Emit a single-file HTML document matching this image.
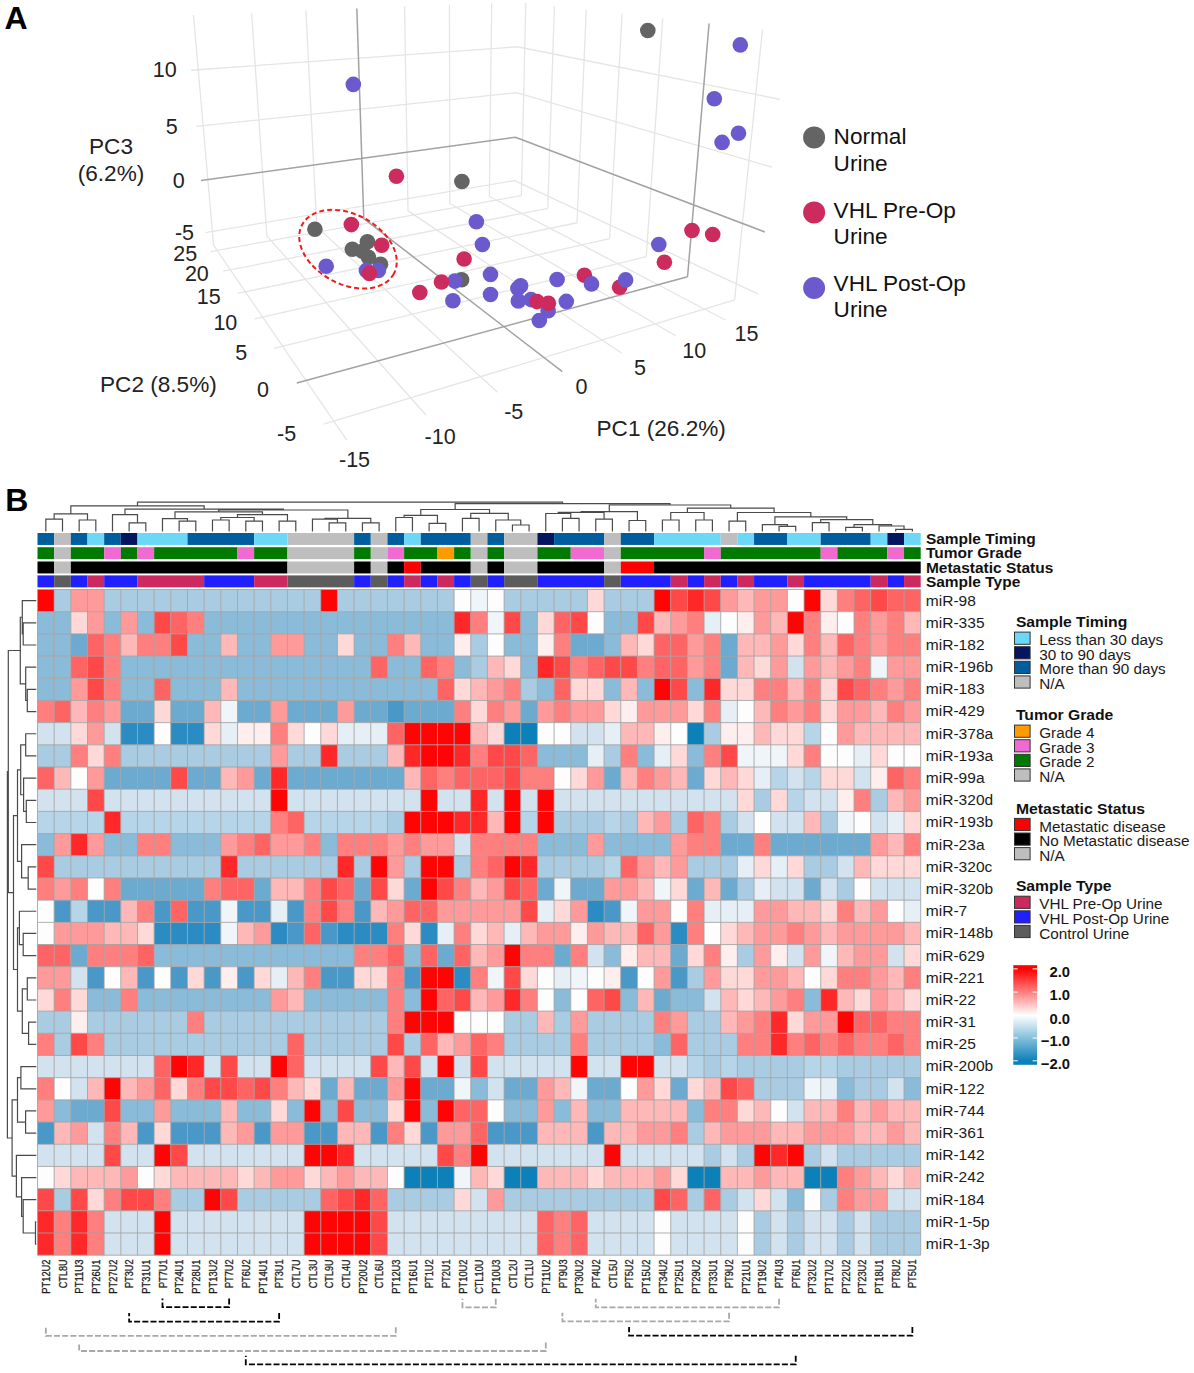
<!DOCTYPE html><html><head><meta charset="utf-8"><style>html,body{margin:0;padding:0;background:#fff}svg{display:block}</style></head><body>
<svg width="1194" height="1373" viewBox="0 0 1194 1373" style="font-family:'Liberation Sans',sans-serif">
<rect width="1194" height="1373" fill="#fff"/>
<path d="M213.61 245.23L193.43 14.98M266.82 235.82L251.62 12.67M316.78 227L305.96 10.51M408.05 210.87L404.57 6.6M449.85 203.48L449.43 4.82M489.37 196.5L491.68 3.15M205.64 232.57L514.54 180.55M196.08 126.42L516.37 92.74M191.01 70.24L517.33 46.76M734.63 299.77L762.48 29.49M646.22 256.56L662.73 18.3M609.63 238.68L622.14 13.75M577 222.74L586.29 9.73M547.74 208.43L554.4 6.15M521.34 195.53L525.84 2.94M757.85 293.86L514.54 180.55M771.96 167.14L516.37 92.74M779.52 99.24L517.33 46.76M346.71 440.14L213.61 245.23M425.91 415L266.82 235.82M497.42 392.31L316.78 227M621.46 352.94L408.05 210.87M675.6 335.75L449.85 203.48M725.34 319.97L489.37 196.5M323.78 424.08L734.63 299.77M273.99 348.41L646.22 256.56M254.57 318.88L609.63 238.68M237.79 293.38L577 222.74M223.16 271.14L547.74 208.43M210.28 251.56L521.34 195.53" stroke="#e5e5e5" stroke-width="1.3" fill="none"/>
<path d="M363.77 218.69L356.84 8.5M200.95 180.49L515.44 137.32M687.56 276.77L709.07 23.5M764.74 231.95L515.44 137.32M562.31 371.71L363.77 218.69M296.75 383L687.56 276.77" stroke="#a2a2a2" stroke-width="1.5" fill="none"/>
<circle cx="647.8" cy="30.5" r="7.8" fill="#646464"/>
<circle cx="740.3" cy="44.9" r="7.8" fill="#6a5acd"/>
<circle cx="714.3" cy="98.8" r="7.8" fill="#6a5acd"/>
<circle cx="738.5" cy="133.2" r="7.8" fill="#6a5acd"/>
<circle cx="722.1" cy="142.4" r="7.8" fill="#6a5acd"/>
<circle cx="353.3" cy="84.4" r="7.8" fill="#6a5acd"/>
<circle cx="396.4" cy="176.2" r="7.8" fill="#cc2b5e"/>
<circle cx="461.9" cy="181.5" r="7.8" fill="#646464"/>
<circle cx="476.4" cy="221.7" r="7.8" fill="#6a5acd"/>
<circle cx="482.4" cy="244.5" r="7.8" fill="#6a5acd"/>
<circle cx="314.9" cy="229.3" r="7.8" fill="#646464"/>
<circle cx="351.3" cy="224.6" r="7.8" fill="#cc2b5e"/>
<circle cx="367.4" cy="241.7" r="7.8" fill="#646464"/>
<circle cx="352.3" cy="249.2" r="7.8" fill="#646464"/>
<circle cx="362.4" cy="251.3" r="7.8" fill="#646464"/>
<circle cx="368.4" cy="257.3" r="7.8" fill="#646464"/>
<circle cx="380.5" cy="264.3" r="7.8" fill="#646464"/>
<circle cx="381.7" cy="245.2" r="7.8" fill="#cc2b5e"/>
<circle cx="326.2" cy="266.3" r="7.8" fill="#6a5acd"/>
<circle cx="366.4" cy="270.4" r="7.8" fill="#6a5acd"/>
<circle cx="378.4" cy="270.4" r="7.8" fill="#6a5acd"/>
<circle cx="369.4" cy="273.4" r="7.8" fill="#cc2b5e"/>
<circle cx="464.1" cy="259" r="7.8" fill="#cc2b5e"/>
<circle cx="461.6" cy="279.7" r="7.8" fill="#646464"/>
<circle cx="454.9" cy="281.1" r="7.8" fill="#6a5acd"/>
<circle cx="441.5" cy="282" r="7.8" fill="#cc2b5e"/>
<circle cx="419.8" cy="292.5" r="7.8" fill="#cc2b5e"/>
<circle cx="452.9" cy="300.8" r="7.8" fill="#6a5acd"/>
<circle cx="490.5" cy="274.4" r="7.8" fill="#6a5acd"/>
<circle cx="490.5" cy="294.5" r="7.8" fill="#6a5acd"/>
<circle cx="520.6" cy="285.8" r="7.8" fill="#6a5acd"/>
<circle cx="517.9" cy="288.5" r="7.8" fill="#6a5acd"/>
<circle cx="518.3" cy="301" r="7.8" fill="#6a5acd"/>
<circle cx="531" cy="299.6" r="7.8" fill="#6a5acd"/>
<circle cx="537" cy="301.6" r="7.8" fill="#cc2b5e"/>
<circle cx="548.1" cy="310.8" r="7.8" fill="#6a5acd"/>
<circle cx="548.4" cy="303.3" r="7.8" fill="#cc2b5e"/>
<circle cx="539.3" cy="320.5" r="7.8" fill="#6a5acd"/>
<circle cx="566.3" cy="301.4" r="7.8" fill="#6a5acd"/>
<circle cx="557.1" cy="279.5" r="7.8" fill="#6a5acd"/>
<circle cx="584.4" cy="275.3" r="7.8" fill="#cc2b5e"/>
<circle cx="591.5" cy="283.9" r="7.8" fill="#6a5acd"/>
<circle cx="619.6" cy="287.3" r="7.8" fill="#cc2b5e"/>
<circle cx="625.6" cy="279.9" r="7.8" fill="#6a5acd"/>
<circle cx="658.8" cy="244.5" r="7.8" fill="#6a5acd"/>
<circle cx="664.4" cy="262.2" r="7.8" fill="#cc2b5e"/>
<circle cx="692" cy="230.5" r="7.8" fill="#cc2b5e"/>
<circle cx="712.7" cy="234.5" r="7.8" fill="#cc2b5e"/>
<ellipse cx="348" cy="249.2" rx="52" ry="35" transform="rotate(28 348 249.2)" fill="none" stroke="#ee1c1c" stroke-width="2" stroke-dasharray="5 3"/>
<text x="152.8" y="76.8" font-size="21.5" fill="#222">10</text>
<text x="165.7" y="134.3" font-size="21.5" fill="#222">5</text>
<text x="172.7" y="188.2" font-size="21.5" fill="#222">0</text>
<text x="174.9" y="239.5" font-size="21.5" fill="#222">-5</text>
<text x="173.2" y="261.3" font-size="21.5" fill="#222">25</text>
<text x="184.9" y="281.3" font-size="21.5" fill="#222">20</text>
<text x="196.7" y="303.8" font-size="21.5" fill="#222">15</text>
<text x="213.4" y="330" font-size="21.5" fill="#222">10</text>
<text x="235.2" y="360.1" font-size="21.5" fill="#222">5</text>
<text x="257" y="397" font-size="21.5" fill="#222">0</text>
<text x="277" y="440.5" font-size="21.5" fill="#222">-5</text>
<text x="339" y="467.3" font-size="21.5" fill="#222">-15</text>
<text x="424.6" y="444.3" font-size="21.5" fill="#222">-10</text>
<text x="504.2" y="419.3" font-size="21.5" fill="#222">-5</text>
<text x="575.4" y="394" font-size="21.5" fill="#222">0</text>
<text x="634" y="375.3" font-size="21.5" fill="#222">5</text>
<text x="682.2" y="358.3" font-size="21.5" fill="#222">10</text>
<text x="734.5" y="341.3" font-size="21.5" fill="#222">15</text>
<text x="111" y="154.3" font-size="22.6" text-anchor="middle" fill="#222">PC3</text>
<text x="111" y="181.3" font-size="22.6" text-anchor="middle" fill="#222">(6.2%)</text>
<text x="100" y="391.8" font-size="22.6" fill="#222">PC2 (8.5%)</text>
<text x="596.5" y="435.8" font-size="22.6" fill="#222">PC1 (26.2%)</text>
<circle cx="814.1" cy="137.4" r="11" fill="#646464"/>
<text x="833.6" y="144.2" font-size="22.6" fill="#111">Normal</text>
<text x="833.6" y="170.9" font-size="22.6" fill="#111">Urine</text>
<circle cx="814.1" cy="212.4" r="11" fill="#cc2b5e"/>
<text x="833.6" y="217.9" font-size="22.6" fill="#111">VHL Pre-Op</text>
<text x="833.6" y="243.7" font-size="22.6" fill="#111">Urine</text>
<circle cx="814.1" cy="288" r="11" fill="#6a5acd"/>
<text x="833.6" y="290.7" font-size="22.6" fill="#111">VHL Post-Op</text>
<text x="833.6" y="317.4" font-size="22.6" fill="#111">Urine</text>
<text x="4.6" y="28.8" font-size="32" font-weight="bold">A</text>
<text x="5.3" y="511" font-size="32" font-weight="bold">B</text>
<g><rect x="37.5" y="589.5" width="16.66" height="22.19" fill="#ff0404"/><rect x="54.16" y="589.5" width="16.66" height="22.19" fill="#a9cce2"/><rect x="70.83" y="589.5" width="16.66" height="22.19" fill="#ff9a9a"/><rect x="87.49" y="589.5" width="16.66" height="22.19" fill="#ff9a9a"/><rect x="104.16" y="589.5" width="16.66" height="22.19" fill="#a9cce2"/><rect x="120.82" y="589.5" width="16.66" height="22.19" fill="#a9cce2"/><rect x="137.48" y="589.5" width="16.66" height="22.19" fill="#a9cce2"/><rect x="154.15" y="589.5" width="16.66" height="22.19" fill="#a9cce2"/><rect x="170.81" y="589.5" width="16.66" height="22.19" fill="#a9cce2"/><rect x="187.48" y="589.5" width="16.66" height="22.19" fill="#a9cce2"/><rect x="204.14" y="589.5" width="16.66" height="22.19" fill="#a9cce2"/><rect x="220.81" y="589.5" width="16.66" height="22.19" fill="#a9cce2"/><rect x="237.47" y="589.5" width="16.66" height="22.19" fill="#a9cce2"/><rect x="254.13" y="589.5" width="16.66" height="22.19" fill="#a9cce2"/><rect x="270.8" y="589.5" width="16.66" height="22.19" fill="#a9cce2"/><rect x="287.46" y="589.5" width="16.66" height="22.19" fill="#a9cce2"/><rect x="304.13" y="589.5" width="16.66" height="22.19" fill="#a9cce2"/><rect x="320.79" y="589.5" width="16.66" height="22.19" fill="#ff0404"/><rect x="337.45" y="589.5" width="16.66" height="22.19" fill="#a9cce2"/><rect x="354.12" y="589.5" width="16.66" height="22.19" fill="#a9cce2"/><rect x="370.78" y="589.5" width="16.66" height="22.19" fill="#a9cce2"/><rect x="387.45" y="589.5" width="16.66" height="22.19" fill="#a9cce2"/><rect x="404.11" y="589.5" width="16.66" height="22.19" fill="#a9cce2"/><rect x="420.78" y="589.5" width="16.66" height="22.19" fill="#a9cce2"/><rect x="437.44" y="589.5" width="16.66" height="22.19" fill="#a9cce2"/><rect x="454.1" y="589.5" width="16.66" height="22.19" fill="#fdfdfd"/><rect x="470.77" y="589.5" width="16.66" height="22.19" fill="#f0f5fa"/><rect x="487.43" y="589.5" width="16.66" height="22.19" fill="#fdfdfd"/><rect x="504.1" y="589.5" width="16.66" height="22.19" fill="#a9cce2"/><rect x="520.76" y="589.5" width="16.66" height="22.19" fill="#a9cce2"/><rect x="537.42" y="589.5" width="16.66" height="22.19" fill="#a9cce2"/><rect x="554.09" y="589.5" width="16.66" height="22.19" fill="#a9cce2"/><rect x="570.75" y="589.5" width="16.66" height="22.19" fill="#a9cce2"/><rect x="587.42" y="589.5" width="16.66" height="22.19" fill="#ffd8d8"/><rect x="604.08" y="589.5" width="16.66" height="22.19" fill="#a9cce2"/><rect x="620.75" y="589.5" width="16.66" height="22.19" fill="#a9cce2"/><rect x="637.41" y="589.5" width="16.66" height="22.19" fill="#a9cce2"/><rect x="654.07" y="589.5" width="16.66" height="22.19" fill="#ff0404"/><rect x="670.74" y="589.5" width="16.66" height="22.19" fill="#ff4848"/><rect x="687.4" y="589.5" width="16.66" height="22.19" fill="#ff2828"/><rect x="704.07" y="589.5" width="16.66" height="22.19" fill="#ff4848"/><rect x="720.73" y="589.5" width="16.66" height="22.19" fill="#ff9a9a"/><rect x="737.39" y="589.5" width="16.66" height="22.19" fill="#ffb8b8"/><rect x="754.06" y="589.5" width="16.66" height="22.19" fill="#ff9a9a"/><rect x="770.72" y="589.5" width="16.66" height="22.19" fill="#ff9a9a"/><rect x="787.39" y="589.5" width="16.66" height="22.19" fill="#fdfdfd"/><rect x="804.05" y="589.5" width="16.66" height="22.19" fill="#ff0404"/><rect x="820.72" y="589.5" width="16.66" height="22.19" fill="#ffd8d8"/><rect x="837.38" y="589.5" width="16.66" height="22.19" fill="#ff7e7e"/><rect x="854.04" y="589.5" width="16.66" height="22.19" fill="#ff6464"/><rect x="870.71" y="589.5" width="16.66" height="22.19" fill="#ff4848"/><rect x="887.37" y="589.5" width="16.66" height="22.19" fill="#ff6464"/><rect x="904.04" y="589.5" width="16.66" height="22.19" fill="#ff6464"/><rect x="37.5" y="611.69" width="16.66" height="22.19" fill="#8abbd8"/><rect x="54.16" y="611.69" width="16.66" height="22.19" fill="#8abbd8"/><rect x="70.83" y="611.69" width="16.66" height="22.19" fill="#ffd8d8"/><rect x="87.49" y="611.69" width="16.66" height="22.19" fill="#ff9a9a"/><rect x="104.16" y="611.69" width="16.66" height="22.19" fill="#8abbd8"/><rect x="120.82" y="611.69" width="16.66" height="22.19" fill="#ff9a9a"/><rect x="137.48" y="611.69" width="16.66" height="22.19" fill="#8abbd8"/><rect x="154.15" y="611.69" width="16.66" height="22.19" fill="#ff4848"/><rect x="170.81" y="611.69" width="16.66" height="22.19" fill="#ff6464"/><rect x="187.48" y="611.69" width="16.66" height="22.19" fill="#ff7e7e"/><rect x="204.14" y="611.69" width="16.66" height="22.19" fill="#8abbd8"/><rect x="220.81" y="611.69" width="16.66" height="22.19" fill="#8abbd8"/><rect x="237.47" y="611.69" width="16.66" height="22.19" fill="#8abbd8"/><rect x="254.13" y="611.69" width="16.66" height="22.19" fill="#8abbd8"/><rect x="270.8" y="611.69" width="16.66" height="22.19" fill="#8abbd8"/><rect x="287.46" y="611.69" width="16.66" height="22.19" fill="#8abbd8"/><rect x="304.13" y="611.69" width="16.66" height="22.19" fill="#8abbd8"/><rect x="320.79" y="611.69" width="16.66" height="22.19" fill="#8abbd8"/><rect x="337.45" y="611.69" width="16.66" height="22.19" fill="#8abbd8"/><rect x="354.12" y="611.69" width="16.66" height="22.19" fill="#8abbd8"/><rect x="370.78" y="611.69" width="16.66" height="22.19" fill="#8abbd8"/><rect x="387.45" y="611.69" width="16.66" height="22.19" fill="#8abbd8"/><rect x="404.11" y="611.69" width="16.66" height="22.19" fill="#8abbd8"/><rect x="420.78" y="611.69" width="16.66" height="22.19" fill="#8abbd8"/><rect x="437.44" y="611.69" width="16.66" height="22.19" fill="#8abbd8"/><rect x="454.1" y="611.69" width="16.66" height="22.19" fill="#ff2828"/><rect x="470.77" y="611.69" width="16.66" height="22.19" fill="#ff7e7e"/><rect x="487.43" y="611.69" width="16.66" height="22.19" fill="#f0f5fa"/><rect x="504.1" y="611.69" width="16.66" height="22.19" fill="#ff4848"/><rect x="520.76" y="611.69" width="16.66" height="22.19" fill="#8abbd8"/><rect x="537.42" y="611.69" width="16.66" height="22.19" fill="#ffd8d8"/><rect x="554.09" y="611.69" width="16.66" height="22.19" fill="#ff6464"/><rect x="570.75" y="611.69" width="16.66" height="22.19" fill="#ff4848"/><rect x="587.42" y="611.69" width="16.66" height="22.19" fill="#fdfdfd"/><rect x="604.08" y="611.69" width="16.66" height="22.19" fill="#8abbd8"/><rect x="620.75" y="611.69" width="16.66" height="22.19" fill="#8abbd8"/><rect x="637.41" y="611.69" width="16.66" height="22.19" fill="#ff4848"/><rect x="654.07" y="611.69" width="16.66" height="22.19" fill="#ffb8b8"/><rect x="670.74" y="611.69" width="16.66" height="22.19" fill="#ff9a9a"/><rect x="687.4" y="611.69" width="16.66" height="22.19" fill="#ff7e7e"/><rect x="704.07" y="611.69" width="16.66" height="22.19" fill="#e6eff6"/><rect x="720.73" y="611.69" width="16.66" height="22.19" fill="#fdfdfd"/><rect x="737.39" y="611.69" width="16.66" height="22.19" fill="#ffeeee"/><rect x="754.06" y="611.69" width="16.66" height="22.19" fill="#ff9a9a"/><rect x="770.72" y="611.69" width="16.66" height="22.19" fill="#ffb8b8"/><rect x="787.39" y="611.69" width="16.66" height="22.19" fill="#ff0404"/><rect x="804.05" y="611.69" width="16.66" height="22.19" fill="#ff7e7e"/><rect x="820.72" y="611.69" width="16.66" height="22.19" fill="#ffeeee"/><rect x="837.38" y="611.69" width="16.66" height="22.19" fill="#fdfdfd"/><rect x="854.04" y="611.69" width="16.66" height="22.19" fill="#ff7e7e"/><rect x="870.71" y="611.69" width="16.66" height="22.19" fill="#ff9a9a"/><rect x="887.37" y="611.69" width="16.66" height="22.19" fill="#ff7e7e"/><rect x="904.04" y="611.69" width="16.66" height="22.19" fill="#ffb8b8"/><rect x="37.5" y="633.88" width="16.66" height="22.19" fill="#8abbd8"/><rect x="54.16" y="633.88" width="16.66" height="22.19" fill="#8abbd8"/><rect x="70.83" y="633.88" width="16.66" height="22.19" fill="#6caacf"/><rect x="87.49" y="633.88" width="16.66" height="22.19" fill="#ff6464"/><rect x="104.16" y="633.88" width="16.66" height="22.19" fill="#ff7e7e"/><rect x="120.82" y="633.88" width="16.66" height="22.19" fill="#ffb8b8"/><rect x="137.48" y="633.88" width="16.66" height="22.19" fill="#ff7e7e"/><rect x="154.15" y="633.88" width="16.66" height="22.19" fill="#ff7e7e"/><rect x="170.81" y="633.88" width="16.66" height="22.19" fill="#ff4848"/><rect x="187.48" y="633.88" width="16.66" height="22.19" fill="#8abbd8"/><rect x="204.14" y="633.88" width="16.66" height="22.19" fill="#8abbd8"/><rect x="220.81" y="633.88" width="16.66" height="22.19" fill="#ffb8b8"/><rect x="237.47" y="633.88" width="16.66" height="22.19" fill="#8abbd8"/><rect x="254.13" y="633.88" width="16.66" height="22.19" fill="#8abbd8"/><rect x="270.8" y="633.88" width="16.66" height="22.19" fill="#ff9a9a"/><rect x="287.46" y="633.88" width="16.66" height="22.19" fill="#ff9a9a"/><rect x="304.13" y="633.88" width="16.66" height="22.19" fill="#8abbd8"/><rect x="320.79" y="633.88" width="16.66" height="22.19" fill="#8abbd8"/><rect x="337.45" y="633.88" width="16.66" height="22.19" fill="#ffd8d8"/><rect x="354.12" y="633.88" width="16.66" height="22.19" fill="#8abbd8"/><rect x="370.78" y="633.88" width="16.66" height="22.19" fill="#8abbd8"/><rect x="387.45" y="633.88" width="16.66" height="22.19" fill="#ff7e7e"/><rect x="404.11" y="633.88" width="16.66" height="22.19" fill="#ffb8b8"/><rect x="420.78" y="633.88" width="16.66" height="22.19" fill="#8abbd8"/><rect x="437.44" y="633.88" width="16.66" height="22.19" fill="#8abbd8"/><rect x="454.1" y="633.88" width="16.66" height="22.19" fill="#ffeeee"/><rect x="470.77" y="633.88" width="16.66" height="22.19" fill="#a9cce2"/><rect x="487.43" y="633.88" width="16.66" height="22.19" fill="#fdfdfd"/><rect x="504.1" y="633.88" width="16.66" height="22.19" fill="#8abbd8"/><rect x="520.76" y="633.88" width="16.66" height="22.19" fill="#8abbd8"/><rect x="537.42" y="633.88" width="16.66" height="22.19" fill="#ffeeee"/><rect x="554.09" y="633.88" width="16.66" height="22.19" fill="#ff7e7e"/><rect x="570.75" y="633.88" width="16.66" height="22.19" fill="#6caacf"/><rect x="587.42" y="633.88" width="16.66" height="22.19" fill="#6caacf"/><rect x="604.08" y="633.88" width="16.66" height="22.19" fill="#8abbd8"/><rect x="620.75" y="633.88" width="16.66" height="22.19" fill="#ffb8b8"/><rect x="637.41" y="633.88" width="16.66" height="22.19" fill="#ffd8d8"/><rect x="654.07" y="633.88" width="16.66" height="22.19" fill="#ff6464"/><rect x="670.74" y="633.88" width="16.66" height="22.19" fill="#ff6464"/><rect x="687.4" y="633.88" width="16.66" height="22.19" fill="#ff9a9a"/><rect x="704.07" y="633.88" width="16.66" height="22.19" fill="#ff7e7e"/><rect x="720.73" y="633.88" width="16.66" height="22.19" fill="#6caacf"/><rect x="737.39" y="633.88" width="16.66" height="22.19" fill="#ffb8b8"/><rect x="754.06" y="633.88" width="16.66" height="22.19" fill="#ffb8b8"/><rect x="770.72" y="633.88" width="16.66" height="22.19" fill="#ff9a9a"/><rect x="787.39" y="633.88" width="16.66" height="22.19" fill="#ffd8d8"/><rect x="804.05" y="633.88" width="16.66" height="22.19" fill="#ff7e7e"/><rect x="820.72" y="633.88" width="16.66" height="22.19" fill="#ffb8b8"/><rect x="837.38" y="633.88" width="16.66" height="22.19" fill="#ff6464"/><rect x="854.04" y="633.88" width="16.66" height="22.19" fill="#ff7e7e"/><rect x="870.71" y="633.88" width="16.66" height="22.19" fill="#ff9a9a"/><rect x="887.37" y="633.88" width="16.66" height="22.19" fill="#ff7e7e"/><rect x="904.04" y="633.88" width="16.66" height="22.19" fill="#ff7e7e"/><rect x="37.5" y="656.07" width="16.66" height="22.19" fill="#8abbd8"/><rect x="54.16" y="656.07" width="16.66" height="22.19" fill="#8abbd8"/><rect x="70.83" y="656.07" width="16.66" height="22.19" fill="#ff6464"/><rect x="87.49" y="656.07" width="16.66" height="22.19" fill="#ff4848"/><rect x="104.16" y="656.07" width="16.66" height="22.19" fill="#ff7e7e"/><rect x="120.82" y="656.07" width="16.66" height="22.19" fill="#8abbd8"/><rect x="137.48" y="656.07" width="16.66" height="22.19" fill="#8abbd8"/><rect x="154.15" y="656.07" width="16.66" height="22.19" fill="#8abbd8"/><rect x="170.81" y="656.07" width="16.66" height="22.19" fill="#8abbd8"/><rect x="187.48" y="656.07" width="16.66" height="22.19" fill="#8abbd8"/><rect x="204.14" y="656.07" width="16.66" height="22.19" fill="#8abbd8"/><rect x="220.81" y="656.07" width="16.66" height="22.19" fill="#8abbd8"/><rect x="237.47" y="656.07" width="16.66" height="22.19" fill="#8abbd8"/><rect x="254.13" y="656.07" width="16.66" height="22.19" fill="#8abbd8"/><rect x="270.8" y="656.07" width="16.66" height="22.19" fill="#8abbd8"/><rect x="287.46" y="656.07" width="16.66" height="22.19" fill="#8abbd8"/><rect x="304.13" y="656.07" width="16.66" height="22.19" fill="#8abbd8"/><rect x="320.79" y="656.07" width="16.66" height="22.19" fill="#8abbd8"/><rect x="337.45" y="656.07" width="16.66" height="22.19" fill="#8abbd8"/><rect x="354.12" y="656.07" width="16.66" height="22.19" fill="#8abbd8"/><rect x="370.78" y="656.07" width="16.66" height="22.19" fill="#ff6464"/><rect x="387.45" y="656.07" width="16.66" height="22.19" fill="#8abbd8"/><rect x="404.11" y="656.07" width="16.66" height="22.19" fill="#8abbd8"/><rect x="420.78" y="656.07" width="16.66" height="22.19" fill="#ff6464"/><rect x="437.44" y="656.07" width="16.66" height="22.19" fill="#ff7e7e"/><rect x="454.1" y="656.07" width="16.66" height="22.19" fill="#8abbd8"/><rect x="470.77" y="656.07" width="16.66" height="22.19" fill="#a9cce2"/><rect x="487.43" y="656.07" width="16.66" height="22.19" fill="#ffb8b8"/><rect x="504.1" y="656.07" width="16.66" height="22.19" fill="#ffd8d8"/><rect x="520.76" y="656.07" width="16.66" height="22.19" fill="#8abbd8"/><rect x="537.42" y="656.07" width="16.66" height="22.19" fill="#ff2828"/><rect x="554.09" y="656.07" width="16.66" height="22.19" fill="#ff4848"/><rect x="570.75" y="656.07" width="16.66" height="22.19" fill="#ff7e7e"/><rect x="587.42" y="656.07" width="16.66" height="22.19" fill="#ff6464"/><rect x="604.08" y="656.07" width="16.66" height="22.19" fill="#ff4848"/><rect x="620.75" y="656.07" width="16.66" height="22.19" fill="#ff4848"/><rect x="637.41" y="656.07" width="16.66" height="22.19" fill="#ff7e7e"/><rect x="654.07" y="656.07" width="16.66" height="22.19" fill="#ff6464"/><rect x="670.74" y="656.07" width="16.66" height="22.19" fill="#ff6464"/><rect x="687.4" y="656.07" width="16.66" height="22.19" fill="#ff9a9a"/><rect x="704.07" y="656.07" width="16.66" height="22.19" fill="#ff7e7e"/><rect x="720.73" y="656.07" width="16.66" height="22.19" fill="#6caacf"/><rect x="737.39" y="656.07" width="16.66" height="22.19" fill="#ffb8b8"/><rect x="754.06" y="656.07" width="16.66" height="22.19" fill="#ffd8d8"/><rect x="770.72" y="656.07" width="16.66" height="22.19" fill="#ff9a9a"/><rect x="787.39" y="656.07" width="16.66" height="22.19" fill="#d2e3ef"/><rect x="804.05" y="656.07" width="16.66" height="22.19" fill="#ff9a9a"/><rect x="820.72" y="656.07" width="16.66" height="22.19" fill="#ffb8b8"/><rect x="837.38" y="656.07" width="16.66" height="22.19" fill="#ff9a9a"/><rect x="854.04" y="656.07" width="16.66" height="22.19" fill="#ff7e7e"/><rect x="870.71" y="656.07" width="16.66" height="22.19" fill="#f0f5fa"/><rect x="887.37" y="656.07" width="16.66" height="22.19" fill="#ff9a9a"/><rect x="904.04" y="656.07" width="16.66" height="22.19" fill="#ff9a9a"/><rect x="37.5" y="678.26" width="16.66" height="22.19" fill="#8abbd8"/><rect x="54.16" y="678.26" width="16.66" height="22.19" fill="#8abbd8"/><rect x="70.83" y="678.26" width="16.66" height="22.19" fill="#ff9a9a"/><rect x="87.49" y="678.26" width="16.66" height="22.19" fill="#ff4848"/><rect x="104.16" y="678.26" width="16.66" height="22.19" fill="#ff7e7e"/><rect x="120.82" y="678.26" width="16.66" height="22.19" fill="#8abbd8"/><rect x="137.48" y="678.26" width="16.66" height="22.19" fill="#8abbd8"/><rect x="154.15" y="678.26" width="16.66" height="22.19" fill="#ff6464"/><rect x="170.81" y="678.26" width="16.66" height="22.19" fill="#8abbd8"/><rect x="187.48" y="678.26" width="16.66" height="22.19" fill="#8abbd8"/><rect x="204.14" y="678.26" width="16.66" height="22.19" fill="#8abbd8"/><rect x="220.81" y="678.26" width="16.66" height="22.19" fill="#ffb8b8"/><rect x="237.47" y="678.26" width="16.66" height="22.19" fill="#8abbd8"/><rect x="254.13" y="678.26" width="16.66" height="22.19" fill="#8abbd8"/><rect x="270.8" y="678.26" width="16.66" height="22.19" fill="#8abbd8"/><rect x="287.46" y="678.26" width="16.66" height="22.19" fill="#8abbd8"/><rect x="304.13" y="678.26" width="16.66" height="22.19" fill="#8abbd8"/><rect x="320.79" y="678.26" width="16.66" height="22.19" fill="#8abbd8"/><rect x="337.45" y="678.26" width="16.66" height="22.19" fill="#8abbd8"/><rect x="354.12" y="678.26" width="16.66" height="22.19" fill="#8abbd8"/><rect x="370.78" y="678.26" width="16.66" height="22.19" fill="#8abbd8"/><rect x="387.45" y="678.26" width="16.66" height="22.19" fill="#8abbd8"/><rect x="404.11" y="678.26" width="16.66" height="22.19" fill="#8abbd8"/><rect x="420.78" y="678.26" width="16.66" height="22.19" fill="#8abbd8"/><rect x="437.44" y="678.26" width="16.66" height="22.19" fill="#ff6464"/><rect x="454.1" y="678.26" width="16.66" height="22.19" fill="#ffd8d8"/><rect x="470.77" y="678.26" width="16.66" height="22.19" fill="#ffb8b8"/><rect x="487.43" y="678.26" width="16.66" height="22.19" fill="#ff9a9a"/><rect x="504.1" y="678.26" width="16.66" height="22.19" fill="#ff7e7e"/><rect x="520.76" y="678.26" width="16.66" height="22.19" fill="#a9cce2"/><rect x="537.42" y="678.26" width="16.66" height="22.19" fill="#8abbd8"/><rect x="554.09" y="678.26" width="16.66" height="22.19" fill="#ff6464"/><rect x="570.75" y="678.26" width="16.66" height="22.19" fill="#ffd8d8"/><rect x="587.42" y="678.26" width="16.66" height="22.19" fill="#ffd8d8"/><rect x="604.08" y="678.26" width="16.66" height="22.19" fill="#8abbd8"/><rect x="620.75" y="678.26" width="16.66" height="22.19" fill="#ffb8b8"/><rect x="637.41" y="678.26" width="16.66" height="22.19" fill="#8abbd8"/><rect x="654.07" y="678.26" width="16.66" height="22.19" fill="#ff0404"/><rect x="670.74" y="678.26" width="16.66" height="22.19" fill="#ff4848"/><rect x="687.4" y="678.26" width="16.66" height="22.19" fill="#8abbd8"/><rect x="704.07" y="678.26" width="16.66" height="22.19" fill="#ff2828"/><rect x="720.73" y="678.26" width="16.66" height="22.19" fill="#ffd8d8"/><rect x="737.39" y="678.26" width="16.66" height="22.19" fill="#ffd8d8"/><rect x="754.06" y="678.26" width="16.66" height="22.19" fill="#ff7e7e"/><rect x="770.72" y="678.26" width="16.66" height="22.19" fill="#ff7e7e"/><rect x="787.39" y="678.26" width="16.66" height="22.19" fill="#ffb8b8"/><rect x="804.05" y="678.26" width="16.66" height="22.19" fill="#ff7e7e"/><rect x="820.72" y="678.26" width="16.66" height="22.19" fill="#ffd8d8"/><rect x="837.38" y="678.26" width="16.66" height="22.19" fill="#ff4848"/><rect x="854.04" y="678.26" width="16.66" height="22.19" fill="#ff6464"/><rect x="870.71" y="678.26" width="16.66" height="22.19" fill="#ff7e7e"/><rect x="887.37" y="678.26" width="16.66" height="22.19" fill="#ff9a9a"/><rect x="904.04" y="678.26" width="16.66" height="22.19" fill="#ff7e7e"/><rect x="37.5" y="700.45" width="16.66" height="22.19" fill="#ff7e7e"/><rect x="54.16" y="700.45" width="16.66" height="22.19" fill="#ff6464"/><rect x="70.83" y="700.45" width="16.66" height="22.19" fill="#ffb8b8"/><rect x="87.49" y="700.45" width="16.66" height="22.19" fill="#ff7e7e"/><rect x="104.16" y="700.45" width="16.66" height="22.19" fill="#ff9a9a"/><rect x="120.82" y="700.45" width="16.66" height="22.19" fill="#6caacf"/><rect x="137.48" y="700.45" width="16.66" height="22.19" fill="#6caacf"/><rect x="154.15" y="700.45" width="16.66" height="22.19" fill="#ffd8d8"/><rect x="170.81" y="700.45" width="16.66" height="22.19" fill="#6caacf"/><rect x="187.48" y="700.45" width="16.66" height="22.19" fill="#6caacf"/><rect x="204.14" y="700.45" width="16.66" height="22.19" fill="#ffb8b8"/><rect x="220.81" y="700.45" width="16.66" height="22.19" fill="#f0f5fa"/><rect x="237.47" y="700.45" width="16.66" height="22.19" fill="#6caacf"/><rect x="254.13" y="700.45" width="16.66" height="22.19" fill="#6caacf"/><rect x="270.8" y="700.45" width="16.66" height="22.19" fill="#ff9a9a"/><rect x="287.46" y="700.45" width="16.66" height="22.19" fill="#6caacf"/><rect x="304.13" y="700.45" width="16.66" height="22.19" fill="#6caacf"/><rect x="320.79" y="700.45" width="16.66" height="22.19" fill="#6caacf"/><rect x="337.45" y="700.45" width="16.66" height="22.19" fill="#ff9a9a"/><rect x="354.12" y="700.45" width="16.66" height="22.19" fill="#6caacf"/><rect x="370.78" y="700.45" width="16.66" height="22.19" fill="#6caacf"/><rect x="387.45" y="700.45" width="16.66" height="22.19" fill="#4a98c8"/><rect x="404.11" y="700.45" width="16.66" height="22.19" fill="#6caacf"/><rect x="420.78" y="700.45" width="16.66" height="22.19" fill="#6caacf"/><rect x="437.44" y="700.45" width="16.66" height="22.19" fill="#6caacf"/><rect x="454.1" y="700.45" width="16.66" height="22.19" fill="#ff7e7e"/><rect x="470.77" y="700.45" width="16.66" height="22.19" fill="#ffd8d8"/><rect x="487.43" y="700.45" width="16.66" height="22.19" fill="#ff7e7e"/><rect x="504.1" y="700.45" width="16.66" height="22.19" fill="#ff9a9a"/><rect x="520.76" y="700.45" width="16.66" height="22.19" fill="#6caacf"/><rect x="537.42" y="700.45" width="16.66" height="22.19" fill="#ff9a9a"/><rect x="554.09" y="700.45" width="16.66" height="22.19" fill="#ff7e7e"/><rect x="570.75" y="700.45" width="16.66" height="22.19" fill="#ff9a9a"/><rect x="587.42" y="700.45" width="16.66" height="22.19" fill="#ff9a9a"/><rect x="604.08" y="700.45" width="16.66" height="22.19" fill="#ffd8d8"/><rect x="620.75" y="700.45" width="16.66" height="22.19" fill="#ffeeee"/><rect x="637.41" y="700.45" width="16.66" height="22.19" fill="#ff9a9a"/><rect x="654.07" y="700.45" width="16.66" height="22.19" fill="#ff9a9a"/><rect x="670.74" y="700.45" width="16.66" height="22.19" fill="#ff9a9a"/><rect x="687.4" y="700.45" width="16.66" height="22.19" fill="#ffd8d8"/><rect x="704.07" y="700.45" width="16.66" height="22.19" fill="#ff7e7e"/><rect x="720.73" y="700.45" width="16.66" height="22.19" fill="#e6eff6"/><rect x="737.39" y="700.45" width="16.66" height="22.19" fill="#fdfdfd"/><rect x="754.06" y="700.45" width="16.66" height="22.19" fill="#ffb8b8"/><rect x="770.72" y="700.45" width="16.66" height="22.19" fill="#ff7e7e"/><rect x="787.39" y="700.45" width="16.66" height="22.19" fill="#ff9a9a"/><rect x="804.05" y="700.45" width="16.66" height="22.19" fill="#ff7e7e"/><rect x="820.72" y="700.45" width="16.66" height="22.19" fill="#ffd8d8"/><rect x="837.38" y="700.45" width="16.66" height="22.19" fill="#ff9a9a"/><rect x="854.04" y="700.45" width="16.66" height="22.19" fill="#ff9a9a"/><rect x="870.71" y="700.45" width="16.66" height="22.19" fill="#ffb8b8"/><rect x="887.37" y="700.45" width="16.66" height="22.19" fill="#ff7e7e"/><rect x="904.04" y="700.45" width="16.66" height="22.19" fill="#ff9a9a"/><rect x="37.5" y="722.64" width="16.66" height="22.19" fill="#d2e3ef"/><rect x="54.16" y="722.64" width="16.66" height="22.19" fill="#d2e3ef"/><rect x="70.83" y="722.64" width="16.66" height="22.19" fill="#ffd8d8"/><rect x="87.49" y="722.64" width="16.66" height="22.19" fill="#ff9a9a"/><rect x="104.16" y="722.64" width="16.66" height="22.19" fill="#d2e3ef"/><rect x="120.82" y="722.64" width="16.66" height="22.19" fill="#2a8cc2"/><rect x="137.48" y="722.64" width="16.66" height="22.19" fill="#2a8cc2"/><rect x="154.15" y="722.64" width="16.66" height="22.19" fill="#fdfdfd"/><rect x="170.81" y="722.64" width="16.66" height="22.19" fill="#2a8cc2"/><rect x="187.48" y="722.64" width="16.66" height="22.19" fill="#2a8cc2"/><rect x="204.14" y="722.64" width="16.66" height="22.19" fill="#ffd8d8"/><rect x="220.81" y="722.64" width="16.66" height="22.19" fill="#e6eff6"/><rect x="237.47" y="722.64" width="16.66" height="22.19" fill="#ffeeee"/><rect x="254.13" y="722.64" width="16.66" height="22.19" fill="#ffeeee"/><rect x="270.8" y="722.64" width="16.66" height="22.19" fill="#ff7e7e"/><rect x="287.46" y="722.64" width="16.66" height="22.19" fill="#ffd8d8"/><rect x="304.13" y="722.64" width="16.66" height="22.19" fill="#fdfdfd"/><rect x="320.79" y="722.64" width="16.66" height="22.19" fill="#ffd8d8"/><rect x="337.45" y="722.64" width="16.66" height="22.19" fill="#e6eff6"/><rect x="354.12" y="722.64" width="16.66" height="22.19" fill="#e6eff6"/><rect x="370.78" y="722.64" width="16.66" height="22.19" fill="#e6eff6"/><rect x="387.45" y="722.64" width="16.66" height="22.19" fill="#ff6464"/><rect x="404.11" y="722.64" width="16.66" height="22.19" fill="#ff0404"/><rect x="420.78" y="722.64" width="16.66" height="22.19" fill="#ff0404"/><rect x="437.44" y="722.64" width="16.66" height="22.19" fill="#ff0404"/><rect x="454.1" y="722.64" width="16.66" height="22.19" fill="#ff0404"/><rect x="470.77" y="722.64" width="16.66" height="22.19" fill="#ffb8b8"/><rect x="487.43" y="722.64" width="16.66" height="22.19" fill="#ffd8d8"/><rect x="504.1" y="722.64" width="16.66" height="22.19" fill="#0c80b8"/><rect x="520.76" y="722.64" width="16.66" height="22.19" fill="#0c80b8"/><rect x="537.42" y="722.64" width="16.66" height="22.19" fill="#fdfdfd"/><rect x="554.09" y="722.64" width="16.66" height="22.19" fill="#fdfdfd"/><rect x="570.75" y="722.64" width="16.66" height="22.19" fill="#d2e3ef"/><rect x="587.42" y="722.64" width="16.66" height="22.19" fill="#d2e3ef"/><rect x="604.08" y="722.64" width="16.66" height="22.19" fill="#e6eff6"/><rect x="620.75" y="722.64" width="16.66" height="22.19" fill="#ffb8b8"/><rect x="637.41" y="722.64" width="16.66" height="22.19" fill="#ffb8b8"/><rect x="654.07" y="722.64" width="16.66" height="22.19" fill="#ffeeee"/><rect x="670.74" y="722.64" width="16.66" height="22.19" fill="#fdfdfd"/><rect x="687.4" y="722.64" width="16.66" height="22.19" fill="#0c80b8"/><rect x="704.07" y="722.64" width="16.66" height="22.19" fill="#a9cce2"/><rect x="720.73" y="722.64" width="16.66" height="22.19" fill="#ffeeee"/><rect x="737.39" y="722.64" width="16.66" height="22.19" fill="#ffeeee"/><rect x="754.06" y="722.64" width="16.66" height="22.19" fill="#ffb8b8"/><rect x="770.72" y="722.64" width="16.66" height="22.19" fill="#ffd8d8"/><rect x="787.39" y="722.64" width="16.66" height="22.19" fill="#ffd8d8"/><rect x="804.05" y="722.64" width="16.66" height="22.19" fill="#b7d5e8"/><rect x="820.72" y="722.64" width="16.66" height="22.19" fill="#fdfdfd"/><rect x="837.38" y="722.64" width="16.66" height="22.19" fill="#ff9a9a"/><rect x="854.04" y="722.64" width="16.66" height="22.19" fill="#ffb8b8"/><rect x="870.71" y="722.64" width="16.66" height="22.19" fill="#ffb8b8"/><rect x="887.37" y="722.64" width="16.66" height="22.19" fill="#ffb8b8"/><rect x="904.04" y="722.64" width="16.66" height="22.19" fill="#ffb8b8"/><rect x="37.5" y="744.83" width="16.66" height="22.19" fill="#a9cce2"/><rect x="54.16" y="744.83" width="16.66" height="22.19" fill="#a9cce2"/><rect x="70.83" y="744.83" width="16.66" height="22.19" fill="#ff7e7e"/><rect x="87.49" y="744.83" width="16.66" height="22.19" fill="#ffd8d8"/><rect x="104.16" y="744.83" width="16.66" height="22.19" fill="#ff7e7e"/><rect x="120.82" y="744.83" width="16.66" height="22.19" fill="#a9cce2"/><rect x="137.48" y="744.83" width="16.66" height="22.19" fill="#a9cce2"/><rect x="154.15" y="744.83" width="16.66" height="22.19" fill="#a9cce2"/><rect x="170.81" y="744.83" width="16.66" height="22.19" fill="#a9cce2"/><rect x="187.48" y="744.83" width="16.66" height="22.19" fill="#a9cce2"/><rect x="204.14" y="744.83" width="16.66" height="22.19" fill="#a9cce2"/><rect x="220.81" y="744.83" width="16.66" height="22.19" fill="#a9cce2"/><rect x="237.47" y="744.83" width="16.66" height="22.19" fill="#a9cce2"/><rect x="254.13" y="744.83" width="16.66" height="22.19" fill="#a9cce2"/><rect x="270.8" y="744.83" width="16.66" height="22.19" fill="#ff9a9a"/><rect x="287.46" y="744.83" width="16.66" height="22.19" fill="#a9cce2"/><rect x="304.13" y="744.83" width="16.66" height="22.19" fill="#a9cce2"/><rect x="320.79" y="744.83" width="16.66" height="22.19" fill="#ff2828"/><rect x="337.45" y="744.83" width="16.66" height="22.19" fill="#a9cce2"/><rect x="354.12" y="744.83" width="16.66" height="22.19" fill="#a9cce2"/><rect x="370.78" y="744.83" width="16.66" height="22.19" fill="#a9cce2"/><rect x="387.45" y="744.83" width="16.66" height="22.19" fill="#ffb8b8"/><rect x="404.11" y="744.83" width="16.66" height="22.19" fill="#ff2828"/><rect x="420.78" y="744.83" width="16.66" height="22.19" fill="#ff0404"/><rect x="437.44" y="744.83" width="16.66" height="22.19" fill="#ff0404"/><rect x="454.1" y="744.83" width="16.66" height="22.19" fill="#ff2828"/><rect x="470.77" y="744.83" width="16.66" height="22.19" fill="#ff7e7e"/><rect x="487.43" y="744.83" width="16.66" height="22.19" fill="#ff4848"/><rect x="504.1" y="744.83" width="16.66" height="22.19" fill="#ff4848"/><rect x="520.76" y="744.83" width="16.66" height="22.19" fill="#ff6464"/><rect x="537.42" y="744.83" width="16.66" height="22.19" fill="#8abbd8"/><rect x="554.09" y="744.83" width="16.66" height="22.19" fill="#8abbd8"/><rect x="570.75" y="744.83" width="16.66" height="22.19" fill="#8abbd8"/><rect x="587.42" y="744.83" width="16.66" height="22.19" fill="#e6eff6"/><rect x="604.08" y="744.83" width="16.66" height="22.19" fill="#a9cce2"/><rect x="620.75" y="744.83" width="16.66" height="22.19" fill="#ff7e7e"/><rect x="637.41" y="744.83" width="16.66" height="22.19" fill="#8abbd8"/><rect x="654.07" y="744.83" width="16.66" height="22.19" fill="#e6eff6"/><rect x="670.74" y="744.83" width="16.66" height="22.19" fill="#ffd8d8"/><rect x="687.4" y="744.83" width="16.66" height="22.19" fill="#8abbd8"/><rect x="704.07" y="744.83" width="16.66" height="22.19" fill="#ff7e7e"/><rect x="720.73" y="744.83" width="16.66" height="22.19" fill="#ff4848"/><rect x="737.39" y="744.83" width="16.66" height="22.19" fill="#f0f5fa"/><rect x="754.06" y="744.83" width="16.66" height="22.19" fill="#f0f5fa"/><rect x="770.72" y="744.83" width="16.66" height="22.19" fill="#f0f5fa"/><rect x="787.39" y="744.83" width="16.66" height="22.19" fill="#ffd8d8"/><rect x="804.05" y="744.83" width="16.66" height="22.19" fill="#ff7e7e"/><rect x="820.72" y="744.83" width="16.66" height="22.19" fill="#fdfdfd"/><rect x="837.38" y="744.83" width="16.66" height="22.19" fill="#fdfdfd"/><rect x="854.04" y="744.83" width="16.66" height="22.19" fill="#e6eff6"/><rect x="870.71" y="744.83" width="16.66" height="22.19" fill="#ffd8d8"/><rect x="887.37" y="744.83" width="16.66" height="22.19" fill="#fdfdfd"/><rect x="904.04" y="744.83" width="16.66" height="22.19" fill="#fdfdfd"/><rect x="37.5" y="767.02" width="16.66" height="22.19" fill="#ff6464"/><rect x="54.16" y="767.02" width="16.66" height="22.19" fill="#ffb8b8"/><rect x="70.83" y="767.02" width="16.66" height="22.19" fill="#fdfdfd"/><rect x="87.49" y="767.02" width="16.66" height="22.19" fill="#ff9a9a"/><rect x="104.16" y="767.02" width="16.66" height="22.19" fill="#6caacf"/><rect x="120.82" y="767.02" width="16.66" height="22.19" fill="#6caacf"/><rect x="137.48" y="767.02" width="16.66" height="22.19" fill="#6caacf"/><rect x="154.15" y="767.02" width="16.66" height="22.19" fill="#6caacf"/><rect x="170.81" y="767.02" width="16.66" height="22.19" fill="#ff4848"/><rect x="187.48" y="767.02" width="16.66" height="22.19" fill="#6caacf"/><rect x="204.14" y="767.02" width="16.66" height="22.19" fill="#6caacf"/><rect x="220.81" y="767.02" width="16.66" height="22.19" fill="#ffb8b8"/><rect x="237.47" y="767.02" width="16.66" height="22.19" fill="#ff9a9a"/><rect x="254.13" y="767.02" width="16.66" height="22.19" fill="#6caacf"/><rect x="270.8" y="767.02" width="16.66" height="22.19" fill="#ff2828"/><rect x="287.46" y="767.02" width="16.66" height="22.19" fill="#6caacf"/><rect x="304.13" y="767.02" width="16.66" height="22.19" fill="#6caacf"/><rect x="320.79" y="767.02" width="16.66" height="22.19" fill="#6caacf"/><rect x="337.45" y="767.02" width="16.66" height="22.19" fill="#6caacf"/><rect x="354.12" y="767.02" width="16.66" height="22.19" fill="#6caacf"/><rect x="370.78" y="767.02" width="16.66" height="22.19" fill="#6caacf"/><rect x="387.45" y="767.02" width="16.66" height="22.19" fill="#6caacf"/><rect x="404.11" y="767.02" width="16.66" height="22.19" fill="#ffb8b8"/><rect x="420.78" y="767.02" width="16.66" height="22.19" fill="#ff6464"/><rect x="437.44" y="767.02" width="16.66" height="22.19" fill="#ff7e7e"/><rect x="454.1" y="767.02" width="16.66" height="22.19" fill="#ff6464"/><rect x="470.77" y="767.02" width="16.66" height="22.19" fill="#ff6464"/><rect x="487.43" y="767.02" width="16.66" height="22.19" fill="#ff6464"/><rect x="504.1" y="767.02" width="16.66" height="22.19" fill="#ff4848"/><rect x="520.76" y="767.02" width="16.66" height="22.19" fill="#ff7e7e"/><rect x="537.42" y="767.02" width="16.66" height="22.19" fill="#ff7e7e"/><rect x="554.09" y="767.02" width="16.66" height="22.19" fill="#fdfdfd"/><rect x="570.75" y="767.02" width="16.66" height="22.19" fill="#ffd8d8"/><rect x="587.42" y="767.02" width="16.66" height="22.19" fill="#ff9a9a"/><rect x="604.08" y="767.02" width="16.66" height="22.19" fill="#6caacf"/><rect x="620.75" y="767.02" width="16.66" height="22.19" fill="#ffb8b8"/><rect x="637.41" y="767.02" width="16.66" height="22.19" fill="#ff7e7e"/><rect x="654.07" y="767.02" width="16.66" height="22.19" fill="#ff9a9a"/><rect x="670.74" y="767.02" width="16.66" height="22.19" fill="#ffb8b8"/><rect x="687.4" y="767.02" width="16.66" height="22.19" fill="#6caacf"/><rect x="704.07" y="767.02" width="16.66" height="22.19" fill="#ffd8d8"/><rect x="720.73" y="767.02" width="16.66" height="22.19" fill="#ffb8b8"/><rect x="737.39" y="767.02" width="16.66" height="22.19" fill="#ffd8d8"/><rect x="754.06" y="767.02" width="16.66" height="22.19" fill="#e6eff6"/><rect x="770.72" y="767.02" width="16.66" height="22.19" fill="#b7d5e8"/><rect x="787.39" y="767.02" width="16.66" height="22.19" fill="#d2e3ef"/><rect x="804.05" y="767.02" width="16.66" height="22.19" fill="#b7d5e8"/><rect x="820.72" y="767.02" width="16.66" height="22.19" fill="#ffd8d8"/><rect x="837.38" y="767.02" width="16.66" height="22.19" fill="#ffd8d8"/><rect x="854.04" y="767.02" width="16.66" height="22.19" fill="#d2e3ef"/><rect x="870.71" y="767.02" width="16.66" height="22.19" fill="#ffeeee"/><rect x="887.37" y="767.02" width="16.66" height="22.19" fill="#ff6464"/><rect x="904.04" y="767.02" width="16.66" height="22.19" fill="#ff7e7e"/><rect x="37.5" y="789.21" width="16.66" height="22.19" fill="#d2e3ef"/><rect x="54.16" y="789.21" width="16.66" height="22.19" fill="#d2e3ef"/><rect x="70.83" y="789.21" width="16.66" height="22.19" fill="#d2e3ef"/><rect x="87.49" y="789.21" width="16.66" height="22.19" fill="#ff4848"/><rect x="104.16" y="789.21" width="16.66" height="22.19" fill="#d2e3ef"/><rect x="120.82" y="789.21" width="16.66" height="22.19" fill="#d2e3ef"/><rect x="137.48" y="789.21" width="16.66" height="22.19" fill="#d2e3ef"/><rect x="154.15" y="789.21" width="16.66" height="22.19" fill="#d2e3ef"/><rect x="170.81" y="789.21" width="16.66" height="22.19" fill="#d2e3ef"/><rect x="187.48" y="789.21" width="16.66" height="22.19" fill="#d2e3ef"/><rect x="204.14" y="789.21" width="16.66" height="22.19" fill="#d2e3ef"/><rect x="220.81" y="789.21" width="16.66" height="22.19" fill="#d2e3ef"/><rect x="237.47" y="789.21" width="16.66" height="22.19" fill="#d2e3ef"/><rect x="254.13" y="789.21" width="16.66" height="22.19" fill="#d2e3ef"/><rect x="270.8" y="789.21" width="16.66" height="22.19" fill="#ff0404"/><rect x="287.46" y="789.21" width="16.66" height="22.19" fill="#d2e3ef"/><rect x="304.13" y="789.21" width="16.66" height="22.19" fill="#d2e3ef"/><rect x="320.79" y="789.21" width="16.66" height="22.19" fill="#d2e3ef"/><rect x="337.45" y="789.21" width="16.66" height="22.19" fill="#d2e3ef"/><rect x="354.12" y="789.21" width="16.66" height="22.19" fill="#d2e3ef"/><rect x="370.78" y="789.21" width="16.66" height="22.19" fill="#d2e3ef"/><rect x="387.45" y="789.21" width="16.66" height="22.19" fill="#d2e3ef"/><rect x="404.11" y="789.21" width="16.66" height="22.19" fill="#d2e3ef"/><rect x="420.78" y="789.21" width="16.66" height="22.19" fill="#ff0404"/><rect x="437.44" y="789.21" width="16.66" height="22.19" fill="#d2e3ef"/><rect x="454.1" y="789.21" width="16.66" height="22.19" fill="#d2e3ef"/><rect x="470.77" y="789.21" width="16.66" height="22.19" fill="#ff2828"/><rect x="487.43" y="789.21" width="16.66" height="22.19" fill="#d2e3ef"/><rect x="504.1" y="789.21" width="16.66" height="22.19" fill="#ff0404"/><rect x="520.76" y="789.21" width="16.66" height="22.19" fill="#d2e3ef"/><rect x="537.42" y="789.21" width="16.66" height="22.19" fill="#ff0404"/><rect x="554.09" y="789.21" width="16.66" height="22.19" fill="#d2e3ef"/><rect x="570.75" y="789.21" width="16.66" height="22.19" fill="#d2e3ef"/><rect x="587.42" y="789.21" width="16.66" height="22.19" fill="#d2e3ef"/><rect x="604.08" y="789.21" width="16.66" height="22.19" fill="#d2e3ef"/><rect x="620.75" y="789.21" width="16.66" height="22.19" fill="#d2e3ef"/><rect x="637.41" y="789.21" width="16.66" height="22.19" fill="#d2e3ef"/><rect x="654.07" y="789.21" width="16.66" height="22.19" fill="#d2e3ef"/><rect x="670.74" y="789.21" width="16.66" height="22.19" fill="#d2e3ef"/><rect x="687.4" y="789.21" width="16.66" height="22.19" fill="#d2e3ef"/><rect x="704.07" y="789.21" width="16.66" height="22.19" fill="#d2e3ef"/><rect x="720.73" y="789.21" width="16.66" height="22.19" fill="#d2e3ef"/><rect x="737.39" y="789.21" width="16.66" height="22.19" fill="#ffd8d8"/><rect x="754.06" y="789.21" width="16.66" height="22.19" fill="#a9cce2"/><rect x="770.72" y="789.21" width="16.66" height="22.19" fill="#ffd8d8"/><rect x="787.39" y="789.21" width="16.66" height="22.19" fill="#b7d5e8"/><rect x="804.05" y="789.21" width="16.66" height="22.19" fill="#d2e3ef"/><rect x="820.72" y="789.21" width="16.66" height="22.19" fill="#d2e3ef"/><rect x="837.38" y="789.21" width="16.66" height="22.19" fill="#ffeeee"/><rect x="854.04" y="789.21" width="16.66" height="22.19" fill="#ff7e7e"/><rect x="870.71" y="789.21" width="16.66" height="22.19" fill="#a9cce2"/><rect x="887.37" y="789.21" width="16.66" height="22.19" fill="#ffb8b8"/><rect x="904.04" y="789.21" width="16.66" height="22.19" fill="#ff9a9a"/><rect x="37.5" y="811.4" width="16.66" height="22.19" fill="#b7d5e8"/><rect x="54.16" y="811.4" width="16.66" height="22.19" fill="#b7d5e8"/><rect x="70.83" y="811.4" width="16.66" height="22.19" fill="#b7d5e8"/><rect x="87.49" y="811.4" width="16.66" height="22.19" fill="#b7d5e8"/><rect x="104.16" y="811.4" width="16.66" height="22.19" fill="#ff2828"/><rect x="120.82" y="811.4" width="16.66" height="22.19" fill="#b7d5e8"/><rect x="137.48" y="811.4" width="16.66" height="22.19" fill="#b7d5e8"/><rect x="154.15" y="811.4" width="16.66" height="22.19" fill="#b7d5e8"/><rect x="170.81" y="811.4" width="16.66" height="22.19" fill="#b7d5e8"/><rect x="187.48" y="811.4" width="16.66" height="22.19" fill="#b7d5e8"/><rect x="204.14" y="811.4" width="16.66" height="22.19" fill="#b7d5e8"/><rect x="220.81" y="811.4" width="16.66" height="22.19" fill="#b7d5e8"/><rect x="237.47" y="811.4" width="16.66" height="22.19" fill="#b7d5e8"/><rect x="254.13" y="811.4" width="16.66" height="22.19" fill="#b7d5e8"/><rect x="270.8" y="811.4" width="16.66" height="22.19" fill="#ff7e7e"/><rect x="287.46" y="811.4" width="16.66" height="22.19" fill="#ff6464"/><rect x="304.13" y="811.4" width="16.66" height="22.19" fill="#b7d5e8"/><rect x="320.79" y="811.4" width="16.66" height="22.19" fill="#b7d5e8"/><rect x="337.45" y="811.4" width="16.66" height="22.19" fill="#b7d5e8"/><rect x="354.12" y="811.4" width="16.66" height="22.19" fill="#b7d5e8"/><rect x="370.78" y="811.4" width="16.66" height="22.19" fill="#b7d5e8"/><rect x="387.45" y="811.4" width="16.66" height="22.19" fill="#a9cce2"/><rect x="404.11" y="811.4" width="16.66" height="22.19" fill="#ff0404"/><rect x="420.78" y="811.4" width="16.66" height="22.19" fill="#ff0404"/><rect x="437.44" y="811.4" width="16.66" height="22.19" fill="#ff0404"/><rect x="454.1" y="811.4" width="16.66" height="22.19" fill="#ff2828"/><rect x="470.77" y="811.4" width="16.66" height="22.19" fill="#ff2828"/><rect x="487.43" y="811.4" width="16.66" height="22.19" fill="#ffb8b8"/><rect x="504.1" y="811.4" width="16.66" height="22.19" fill="#ff0404"/><rect x="520.76" y="811.4" width="16.66" height="22.19" fill="#b7d5e8"/><rect x="537.42" y="811.4" width="16.66" height="22.19" fill="#ff0404"/><rect x="554.09" y="811.4" width="16.66" height="22.19" fill="#a9cce2"/><rect x="570.75" y="811.4" width="16.66" height="22.19" fill="#a9cce2"/><rect x="587.42" y="811.4" width="16.66" height="22.19" fill="#a9cce2"/><rect x="604.08" y="811.4" width="16.66" height="22.19" fill="#b7d5e8"/><rect x="620.75" y="811.4" width="16.66" height="22.19" fill="#a9cce2"/><rect x="637.41" y="811.4" width="16.66" height="22.19" fill="#ffb8b8"/><rect x="654.07" y="811.4" width="16.66" height="22.19" fill="#ff9a9a"/><rect x="670.74" y="811.4" width="16.66" height="22.19" fill="#a9cce2"/><rect x="687.4" y="811.4" width="16.66" height="22.19" fill="#ff6464"/><rect x="704.07" y="811.4" width="16.66" height="22.19" fill="#ff7e7e"/><rect x="720.73" y="811.4" width="16.66" height="22.19" fill="#a9cce2"/><rect x="737.39" y="811.4" width="16.66" height="22.19" fill="#d2e3ef"/><rect x="754.06" y="811.4" width="16.66" height="22.19" fill="#fdfdfd"/><rect x="770.72" y="811.4" width="16.66" height="22.19" fill="#d2e3ef"/><rect x="787.39" y="811.4" width="16.66" height="22.19" fill="#d2e3ef"/><rect x="804.05" y="811.4" width="16.66" height="22.19" fill="#ffb8b8"/><rect x="820.72" y="811.4" width="16.66" height="22.19" fill="#a9cce2"/><rect x="837.38" y="811.4" width="16.66" height="22.19" fill="#f0f5fa"/><rect x="854.04" y="811.4" width="16.66" height="22.19" fill="#fdfdfd"/><rect x="870.71" y="811.4" width="16.66" height="22.19" fill="#d2e3ef"/><rect x="887.37" y="811.4" width="16.66" height="22.19" fill="#e6eff6"/><rect x="904.04" y="811.4" width="16.66" height="22.19" fill="#ffd8d8"/><rect x="37.5" y="833.59" width="16.66" height="22.19" fill="#8abbd8"/><rect x="54.16" y="833.59" width="16.66" height="22.19" fill="#ff9a9a"/><rect x="70.83" y="833.59" width="16.66" height="22.19" fill="#ff2828"/><rect x="87.49" y="833.59" width="16.66" height="22.19" fill="#ff9a9a"/><rect x="104.16" y="833.59" width="16.66" height="22.19" fill="#8abbd8"/><rect x="120.82" y="833.59" width="16.66" height="22.19" fill="#8abbd8"/><rect x="137.48" y="833.59" width="16.66" height="22.19" fill="#ff7e7e"/><rect x="154.15" y="833.59" width="16.66" height="22.19" fill="#ff7e7e"/><rect x="170.81" y="833.59" width="16.66" height="22.19" fill="#8abbd8"/><rect x="187.48" y="833.59" width="16.66" height="22.19" fill="#8abbd8"/><rect x="204.14" y="833.59" width="16.66" height="22.19" fill="#8abbd8"/><rect x="220.81" y="833.59" width="16.66" height="22.19" fill="#ff9a9a"/><rect x="237.47" y="833.59" width="16.66" height="22.19" fill="#ff7e7e"/><rect x="254.13" y="833.59" width="16.66" height="22.19" fill="#ff6464"/><rect x="270.8" y="833.59" width="16.66" height="22.19" fill="#ff9a9a"/><rect x="287.46" y="833.59" width="16.66" height="22.19" fill="#ff9a9a"/><rect x="304.13" y="833.59" width="16.66" height="22.19" fill="#ff7e7e"/><rect x="320.79" y="833.59" width="16.66" height="22.19" fill="#8abbd8"/><rect x="337.45" y="833.59" width="16.66" height="22.19" fill="#ff7e7e"/><rect x="354.12" y="833.59" width="16.66" height="22.19" fill="#ff7e7e"/><rect x="370.78" y="833.59" width="16.66" height="22.19" fill="#ff7e7e"/><rect x="387.45" y="833.59" width="16.66" height="22.19" fill="#ff9a9a"/><rect x="404.11" y="833.59" width="16.66" height="22.19" fill="#ff7e7e"/><rect x="420.78" y="833.59" width="16.66" height="22.19" fill="#ff9a9a"/><rect x="437.44" y="833.59" width="16.66" height="22.19" fill="#ff9a9a"/><rect x="454.1" y="833.59" width="16.66" height="22.19" fill="#d2e3ef"/><rect x="470.77" y="833.59" width="16.66" height="22.19" fill="#ff7e7e"/><rect x="487.43" y="833.59" width="16.66" height="22.19" fill="#ff7e7e"/><rect x="504.1" y="833.59" width="16.66" height="22.19" fill="#ff7e7e"/><rect x="520.76" y="833.59" width="16.66" height="22.19" fill="#ff7e7e"/><rect x="537.42" y="833.59" width="16.66" height="22.19" fill="#8abbd8"/><rect x="554.09" y="833.59" width="16.66" height="22.19" fill="#8abbd8"/><rect x="570.75" y="833.59" width="16.66" height="22.19" fill="#8abbd8"/><rect x="587.42" y="833.59" width="16.66" height="22.19" fill="#ff9a9a"/><rect x="604.08" y="833.59" width="16.66" height="22.19" fill="#8abbd8"/><rect x="620.75" y="833.59" width="16.66" height="22.19" fill="#8abbd8"/><rect x="637.41" y="833.59" width="16.66" height="22.19" fill="#8abbd8"/><rect x="654.07" y="833.59" width="16.66" height="22.19" fill="#8abbd8"/><rect x="670.74" y="833.59" width="16.66" height="22.19" fill="#ff9a9a"/><rect x="687.4" y="833.59" width="16.66" height="22.19" fill="#ff7e7e"/><rect x="704.07" y="833.59" width="16.66" height="22.19" fill="#ff7e7e"/><rect x="720.73" y="833.59" width="16.66" height="22.19" fill="#6caacf"/><rect x="737.39" y="833.59" width="16.66" height="22.19" fill="#6caacf"/><rect x="754.06" y="833.59" width="16.66" height="22.19" fill="#ff7e7e"/><rect x="770.72" y="833.59" width="16.66" height="22.19" fill="#6caacf"/><rect x="787.39" y="833.59" width="16.66" height="22.19" fill="#6caacf"/><rect x="804.05" y="833.59" width="16.66" height="22.19" fill="#6caacf"/><rect x="820.72" y="833.59" width="16.66" height="22.19" fill="#6caacf"/><rect x="837.38" y="833.59" width="16.66" height="22.19" fill="#6caacf"/><rect x="854.04" y="833.59" width="16.66" height="22.19" fill="#6caacf"/><rect x="870.71" y="833.59" width="16.66" height="22.19" fill="#ff9a9a"/><rect x="887.37" y="833.59" width="16.66" height="22.19" fill="#ffb8b8"/><rect x="904.04" y="833.59" width="16.66" height="22.19" fill="#ff7e7e"/><rect x="37.5" y="855.78" width="16.66" height="22.19" fill="#ff4848"/><rect x="54.16" y="855.78" width="16.66" height="22.19" fill="#a9cce2"/><rect x="70.83" y="855.78" width="16.66" height="22.19" fill="#a9cce2"/><rect x="87.49" y="855.78" width="16.66" height="22.19" fill="#a9cce2"/><rect x="104.16" y="855.78" width="16.66" height="22.19" fill="#a9cce2"/><rect x="120.82" y="855.78" width="16.66" height="22.19" fill="#a9cce2"/><rect x="137.48" y="855.78" width="16.66" height="22.19" fill="#a9cce2"/><rect x="154.15" y="855.78" width="16.66" height="22.19" fill="#a9cce2"/><rect x="170.81" y="855.78" width="16.66" height="22.19" fill="#a9cce2"/><rect x="187.48" y="855.78" width="16.66" height="22.19" fill="#a9cce2"/><rect x="204.14" y="855.78" width="16.66" height="22.19" fill="#a9cce2"/><rect x="220.81" y="855.78" width="16.66" height="22.19" fill="#ff2828"/><rect x="237.47" y="855.78" width="16.66" height="22.19" fill="#a9cce2"/><rect x="254.13" y="855.78" width="16.66" height="22.19" fill="#a9cce2"/><rect x="270.8" y="855.78" width="16.66" height="22.19" fill="#a9cce2"/><rect x="287.46" y="855.78" width="16.66" height="22.19" fill="#a9cce2"/><rect x="304.13" y="855.78" width="16.66" height="22.19" fill="#a9cce2"/><rect x="320.79" y="855.78" width="16.66" height="22.19" fill="#a9cce2"/><rect x="337.45" y="855.78" width="16.66" height="22.19" fill="#ff2828"/><rect x="354.12" y="855.78" width="16.66" height="22.19" fill="#a9cce2"/><rect x="370.78" y="855.78" width="16.66" height="22.19" fill="#ff0404"/><rect x="387.45" y="855.78" width="16.66" height="22.19" fill="#ff9a9a"/><rect x="404.11" y="855.78" width="16.66" height="22.19" fill="#a9cce2"/><rect x="420.78" y="855.78" width="16.66" height="22.19" fill="#ff0404"/><rect x="437.44" y="855.78" width="16.66" height="22.19" fill="#ff0404"/><rect x="454.1" y="855.78" width="16.66" height="22.19" fill="#a9cce2"/><rect x="470.77" y="855.78" width="16.66" height="22.19" fill="#ff7e7e"/><rect x="487.43" y="855.78" width="16.66" height="22.19" fill="#ff6464"/><rect x="504.1" y="855.78" width="16.66" height="22.19" fill="#ff0404"/><rect x="520.76" y="855.78" width="16.66" height="22.19" fill="#ff2828"/><rect x="537.42" y="855.78" width="16.66" height="22.19" fill="#a9cce2"/><rect x="554.09" y="855.78" width="16.66" height="22.19" fill="#a9cce2"/><rect x="570.75" y="855.78" width="16.66" height="22.19" fill="#a9cce2"/><rect x="587.42" y="855.78" width="16.66" height="22.19" fill="#a9cce2"/><rect x="604.08" y="855.78" width="16.66" height="22.19" fill="#b7d5e8"/><rect x="620.75" y="855.78" width="16.66" height="22.19" fill="#ff6464"/><rect x="637.41" y="855.78" width="16.66" height="22.19" fill="#ff9a9a"/><rect x="654.07" y="855.78" width="16.66" height="22.19" fill="#ffb8b8"/><rect x="670.74" y="855.78" width="16.66" height="22.19" fill="#ff9a9a"/><rect x="687.4" y="855.78" width="16.66" height="22.19" fill="#a9cce2"/><rect x="704.07" y="855.78" width="16.66" height="22.19" fill="#a9cce2"/><rect x="720.73" y="855.78" width="16.66" height="22.19" fill="#a9cce2"/><rect x="737.39" y="855.78" width="16.66" height="22.19" fill="#e6eff6"/><rect x="754.06" y="855.78" width="16.66" height="22.19" fill="#ffd8d8"/><rect x="770.72" y="855.78" width="16.66" height="22.19" fill="#e6eff6"/><rect x="787.39" y="855.78" width="16.66" height="22.19" fill="#ffd8d8"/><rect x="804.05" y="855.78" width="16.66" height="22.19" fill="#a9cce2"/><rect x="820.72" y="855.78" width="16.66" height="22.19" fill="#a9cce2"/><rect x="837.38" y="855.78" width="16.66" height="22.19" fill="#d2e3ef"/><rect x="854.04" y="855.78" width="16.66" height="22.19" fill="#ffb8b8"/><rect x="870.71" y="855.78" width="16.66" height="22.19" fill="#ffd8d8"/><rect x="887.37" y="855.78" width="16.66" height="22.19" fill="#ffd8d8"/><rect x="904.04" y="855.78" width="16.66" height="22.19" fill="#ffd8d8"/><rect x="37.5" y="877.97" width="16.66" height="22.19" fill="#ff7e7e"/><rect x="54.16" y="877.97" width="16.66" height="22.19" fill="#ff9a9a"/><rect x="70.83" y="877.97" width="16.66" height="22.19" fill="#ff7e7e"/><rect x="87.49" y="877.97" width="16.66" height="22.19" fill="#fdfdfd"/><rect x="104.16" y="877.97" width="16.66" height="22.19" fill="#ff7e7e"/><rect x="120.82" y="877.97" width="16.66" height="22.19" fill="#6caacf"/><rect x="137.48" y="877.97" width="16.66" height="22.19" fill="#6caacf"/><rect x="154.15" y="877.97" width="16.66" height="22.19" fill="#6caacf"/><rect x="170.81" y="877.97" width="16.66" height="22.19" fill="#6caacf"/><rect x="187.48" y="877.97" width="16.66" height="22.19" fill="#6caacf"/><rect x="204.14" y="877.97" width="16.66" height="22.19" fill="#ff7e7e"/><rect x="220.81" y="877.97" width="16.66" height="22.19" fill="#ff6464"/><rect x="237.47" y="877.97" width="16.66" height="22.19" fill="#ff6464"/><rect x="254.13" y="877.97" width="16.66" height="22.19" fill="#6caacf"/><rect x="270.8" y="877.97" width="16.66" height="22.19" fill="#ffb8b8"/><rect x="287.46" y="877.97" width="16.66" height="22.19" fill="#ffb8b8"/><rect x="304.13" y="877.97" width="16.66" height="22.19" fill="#ff7e7e"/><rect x="320.79" y="877.97" width="16.66" height="22.19" fill="#ff4848"/><rect x="337.45" y="877.97" width="16.66" height="22.19" fill="#ff6464"/><rect x="354.12" y="877.97" width="16.66" height="22.19" fill="#6caacf"/><rect x="370.78" y="877.97" width="16.66" height="22.19" fill="#ff4848"/><rect x="387.45" y="877.97" width="16.66" height="22.19" fill="#ffd8d8"/><rect x="404.11" y="877.97" width="16.66" height="22.19" fill="#6caacf"/><rect x="420.78" y="877.97" width="16.66" height="22.19" fill="#ff0404"/><rect x="437.44" y="877.97" width="16.66" height="22.19" fill="#ff4848"/><rect x="454.1" y="877.97" width="16.66" height="22.19" fill="#ff7e7e"/><rect x="470.77" y="877.97" width="16.66" height="22.19" fill="#ffb8b8"/><rect x="487.43" y="877.97" width="16.66" height="22.19" fill="#ff9a9a"/><rect x="504.1" y="877.97" width="16.66" height="22.19" fill="#ff4848"/><rect x="520.76" y="877.97" width="16.66" height="22.19" fill="#ff6464"/><rect x="537.42" y="877.97" width="16.66" height="22.19" fill="#6caacf"/><rect x="554.09" y="877.97" width="16.66" height="22.19" fill="#f0f5fa"/><rect x="570.75" y="877.97" width="16.66" height="22.19" fill="#6caacf"/><rect x="587.42" y="877.97" width="16.66" height="22.19" fill="#6caacf"/><rect x="604.08" y="877.97" width="16.66" height="22.19" fill="#ff9a9a"/><rect x="620.75" y="877.97" width="16.66" height="22.19" fill="#ff9a9a"/><rect x="637.41" y="877.97" width="16.66" height="22.19" fill="#ffb8b8"/><rect x="654.07" y="877.97" width="16.66" height="22.19" fill="#f0f5fa"/><rect x="670.74" y="877.97" width="16.66" height="22.19" fill="#ffd8d8"/><rect x="687.4" y="877.97" width="16.66" height="22.19" fill="#6caacf"/><rect x="704.07" y="877.97" width="16.66" height="22.19" fill="#ffb8b8"/><rect x="720.73" y="877.97" width="16.66" height="22.19" fill="#6caacf"/><rect x="737.39" y="877.97" width="16.66" height="22.19" fill="#a9cce2"/><rect x="754.06" y="877.97" width="16.66" height="22.19" fill="#e6eff6"/><rect x="770.72" y="877.97" width="16.66" height="22.19" fill="#d2e3ef"/><rect x="787.39" y="877.97" width="16.66" height="22.19" fill="#d2e3ef"/><rect x="804.05" y="877.97" width="16.66" height="22.19" fill="#6caacf"/><rect x="820.72" y="877.97" width="16.66" height="22.19" fill="#d2e3ef"/><rect x="837.38" y="877.97" width="16.66" height="22.19" fill="#a9cce2"/><rect x="854.04" y="877.97" width="16.66" height="22.19" fill="#fdfdfd"/><rect x="870.71" y="877.97" width="16.66" height="22.19" fill="#d2e3ef"/><rect x="887.37" y="877.97" width="16.66" height="22.19" fill="#d2e3ef"/><rect x="904.04" y="877.97" width="16.66" height="22.19" fill="#d2e3ef"/><rect x="37.5" y="900.16" width="16.66" height="22.19" fill="#fdfdfd"/><rect x="54.16" y="900.16" width="16.66" height="22.19" fill="#4a98c8"/><rect x="70.83" y="900.16" width="16.66" height="22.19" fill="#b7d5e8"/><rect x="87.49" y="900.16" width="16.66" height="22.19" fill="#4a98c8"/><rect x="104.16" y="900.16" width="16.66" height="22.19" fill="#4a98c8"/><rect x="120.82" y="900.16" width="16.66" height="22.19" fill="#ffb8b8"/><rect x="137.48" y="900.16" width="16.66" height="22.19" fill="#ff7e7e"/><rect x="154.15" y="900.16" width="16.66" height="22.19" fill="#4a98c8"/><rect x="170.81" y="900.16" width="16.66" height="22.19" fill="#ff6464"/><rect x="187.48" y="900.16" width="16.66" height="22.19" fill="#4a98c8"/><rect x="204.14" y="900.16" width="16.66" height="22.19" fill="#4a98c8"/><rect x="220.81" y="900.16" width="16.66" height="22.19" fill="#f0f5fa"/><rect x="237.47" y="900.16" width="16.66" height="22.19" fill="#4a98c8"/><rect x="254.13" y="900.16" width="16.66" height="22.19" fill="#4a98c8"/><rect x="270.8" y="900.16" width="16.66" height="22.19" fill="#e6eff6"/><rect x="287.46" y="900.16" width="16.66" height="22.19" fill="#4a98c8"/><rect x="304.13" y="900.16" width="16.66" height="22.19" fill="#ff7e7e"/><rect x="320.79" y="900.16" width="16.66" height="22.19" fill="#ff4848"/><rect x="337.45" y="900.16" width="16.66" height="22.19" fill="#ff7e7e"/><rect x="354.12" y="900.16" width="16.66" height="22.19" fill="#4a98c8"/><rect x="370.78" y="900.16" width="16.66" height="22.19" fill="#ffb8b8"/><rect x="387.45" y="900.16" width="16.66" height="22.19" fill="#ff9a9a"/><rect x="404.11" y="900.16" width="16.66" height="22.19" fill="#ff6464"/><rect x="420.78" y="900.16" width="16.66" height="22.19" fill="#ff6464"/><rect x="437.44" y="900.16" width="16.66" height="22.19" fill="#ff9a9a"/><rect x="454.1" y="900.16" width="16.66" height="22.19" fill="#ff9a9a"/><rect x="470.77" y="900.16" width="16.66" height="22.19" fill="#ff9a9a"/><rect x="487.43" y="900.16" width="16.66" height="22.19" fill="#ff9a9a"/><rect x="504.1" y="900.16" width="16.66" height="22.19" fill="#ff9a9a"/><rect x="520.76" y="900.16" width="16.66" height="22.19" fill="#ff4848"/><rect x="537.42" y="900.16" width="16.66" height="22.19" fill="#e6eff6"/><rect x="554.09" y="900.16" width="16.66" height="22.19" fill="#ffd8d8"/><rect x="570.75" y="900.16" width="16.66" height="22.19" fill="#ff9a9a"/><rect x="587.42" y="900.16" width="16.66" height="22.19" fill="#2a8cc2"/><rect x="604.08" y="900.16" width="16.66" height="22.19" fill="#4a98c8"/><rect x="620.75" y="900.16" width="16.66" height="22.19" fill="#f0f5fa"/><rect x="637.41" y="900.16" width="16.66" height="22.19" fill="#ff9a9a"/><rect x="654.07" y="900.16" width="16.66" height="22.19" fill="#ff9a9a"/><rect x="670.74" y="900.16" width="16.66" height="22.19" fill="#fdfdfd"/><rect x="687.4" y="900.16" width="16.66" height="22.19" fill="#ff7e7e"/><rect x="704.07" y="900.16" width="16.66" height="22.19" fill="#e6eff6"/><rect x="720.73" y="900.16" width="16.66" height="22.19" fill="#e6eff6"/><rect x="737.39" y="900.16" width="16.66" height="22.19" fill="#e6eff6"/><rect x="754.06" y="900.16" width="16.66" height="22.19" fill="#ff9a9a"/><rect x="770.72" y="900.16" width="16.66" height="22.19" fill="#ff9a9a"/><rect x="787.39" y="900.16" width="16.66" height="22.19" fill="#ffb8b8"/><rect x="804.05" y="900.16" width="16.66" height="22.19" fill="#ffb8b8"/><rect x="820.72" y="900.16" width="16.66" height="22.19" fill="#ffd8d8"/><rect x="837.38" y="900.16" width="16.66" height="22.19" fill="#ff7e7e"/><rect x="854.04" y="900.16" width="16.66" height="22.19" fill="#ffb8b8"/><rect x="870.71" y="900.16" width="16.66" height="22.19" fill="#ff9a9a"/><rect x="887.37" y="900.16" width="16.66" height="22.19" fill="#fdfdfd"/><rect x="904.04" y="900.16" width="16.66" height="22.19" fill="#e6eff6"/><rect x="37.5" y="922.35" width="16.66" height="22.19" fill="#fdfdfd"/><rect x="54.16" y="922.35" width="16.66" height="22.19" fill="#ff9a9a"/><rect x="70.83" y="922.35" width="16.66" height="22.19" fill="#ff9a9a"/><rect x="87.49" y="922.35" width="16.66" height="22.19" fill="#ff9a9a"/><rect x="104.16" y="922.35" width="16.66" height="22.19" fill="#ffb8b8"/><rect x="120.82" y="922.35" width="16.66" height="22.19" fill="#ffb8b8"/><rect x="137.48" y="922.35" width="16.66" height="22.19" fill="#ffd8d8"/><rect x="154.15" y="922.35" width="16.66" height="22.19" fill="#2a8cc2"/><rect x="170.81" y="922.35" width="16.66" height="22.19" fill="#2a8cc2"/><rect x="187.48" y="922.35" width="16.66" height="22.19" fill="#2a8cc2"/><rect x="204.14" y="922.35" width="16.66" height="22.19" fill="#2a8cc2"/><rect x="220.81" y="922.35" width="16.66" height="22.19" fill="#f0f5fa"/><rect x="237.47" y="922.35" width="16.66" height="22.19" fill="#ffb8b8"/><rect x="254.13" y="922.35" width="16.66" height="22.19" fill="#ff9a9a"/><rect x="270.8" y="922.35" width="16.66" height="22.19" fill="#2a8cc2"/><rect x="287.46" y="922.35" width="16.66" height="22.19" fill="#4a98c8"/><rect x="304.13" y="922.35" width="16.66" height="22.19" fill="#ff6464"/><rect x="320.79" y="922.35" width="16.66" height="22.19" fill="#4a98c8"/><rect x="337.45" y="922.35" width="16.66" height="22.19" fill="#2a8cc2"/><rect x="354.12" y="922.35" width="16.66" height="22.19" fill="#2a8cc2"/><rect x="370.78" y="922.35" width="16.66" height="22.19" fill="#2a8cc2"/><rect x="387.45" y="922.35" width="16.66" height="22.19" fill="#ff7e7e"/><rect x="404.11" y="922.35" width="16.66" height="22.19" fill="#ffd8d8"/><rect x="420.78" y="922.35" width="16.66" height="22.19" fill="#2a8cc2"/><rect x="437.44" y="922.35" width="16.66" height="22.19" fill="#e6eff6"/><rect x="454.1" y="922.35" width="16.66" height="22.19" fill="#ff7e7e"/><rect x="470.77" y="922.35" width="16.66" height="22.19" fill="#ffd8d8"/><rect x="487.43" y="922.35" width="16.66" height="22.19" fill="#ffb8b8"/><rect x="504.1" y="922.35" width="16.66" height="22.19" fill="#e6eff6"/><rect x="520.76" y="922.35" width="16.66" height="22.19" fill="#ffb8b8"/><rect x="537.42" y="922.35" width="16.66" height="22.19" fill="#ff9a9a"/><rect x="554.09" y="922.35" width="16.66" height="22.19" fill="#ff9a9a"/><rect x="570.75" y="922.35" width="16.66" height="22.19" fill="#ffeeee"/><rect x="587.42" y="922.35" width="16.66" height="22.19" fill="#ff9a9a"/><rect x="604.08" y="922.35" width="16.66" height="22.19" fill="#ffb8b8"/><rect x="620.75" y="922.35" width="16.66" height="22.19" fill="#ffb8b8"/><rect x="637.41" y="922.35" width="16.66" height="22.19" fill="#ff6464"/><rect x="654.07" y="922.35" width="16.66" height="22.19" fill="#ff9a9a"/><rect x="670.74" y="922.35" width="16.66" height="22.19" fill="#2a8cc2"/><rect x="687.4" y="922.35" width="16.66" height="22.19" fill="#ff7e7e"/><rect x="704.07" y="922.35" width="16.66" height="22.19" fill="#fdfdfd"/><rect x="720.73" y="922.35" width="16.66" height="22.19" fill="#ffd8d8"/><rect x="737.39" y="922.35" width="16.66" height="22.19" fill="#ffb8b8"/><rect x="754.06" y="922.35" width="16.66" height="22.19" fill="#ff9a9a"/><rect x="770.72" y="922.35" width="16.66" height="22.19" fill="#ff9a9a"/><rect x="787.39" y="922.35" width="16.66" height="22.19" fill="#ff7e7e"/><rect x="804.05" y="922.35" width="16.66" height="22.19" fill="#ff9a9a"/><rect x="820.72" y="922.35" width="16.66" height="22.19" fill="#ffb8b8"/><rect x="837.38" y="922.35" width="16.66" height="22.19" fill="#ff9a9a"/><rect x="854.04" y="922.35" width="16.66" height="22.19" fill="#ff9a9a"/><rect x="870.71" y="922.35" width="16.66" height="22.19" fill="#ff9a9a"/><rect x="887.37" y="922.35" width="16.66" height="22.19" fill="#ff9a9a"/><rect x="904.04" y="922.35" width="16.66" height="22.19" fill="#ffb8b8"/><rect x="37.5" y="944.54" width="16.66" height="22.19" fill="#ff6464"/><rect x="54.16" y="944.54" width="16.66" height="22.19" fill="#ff6464"/><rect x="70.83" y="944.54" width="16.66" height="22.19" fill="#6caacf"/><rect x="87.49" y="944.54" width="16.66" height="22.19" fill="#ff7e7e"/><rect x="104.16" y="944.54" width="16.66" height="22.19" fill="#ff7e7e"/><rect x="120.82" y="944.54" width="16.66" height="22.19" fill="#ff7e7e"/><rect x="137.48" y="944.54" width="16.66" height="22.19" fill="#ff6464"/><rect x="154.15" y="944.54" width="16.66" height="22.19" fill="#8abbd8"/><rect x="170.81" y="944.54" width="16.66" height="22.19" fill="#8abbd8"/><rect x="187.48" y="944.54" width="16.66" height="22.19" fill="#8abbd8"/><rect x="204.14" y="944.54" width="16.66" height="22.19" fill="#8abbd8"/><rect x="220.81" y="944.54" width="16.66" height="22.19" fill="#8abbd8"/><rect x="237.47" y="944.54" width="16.66" height="22.19" fill="#8abbd8"/><rect x="254.13" y="944.54" width="16.66" height="22.19" fill="#8abbd8"/><rect x="270.8" y="944.54" width="16.66" height="22.19" fill="#8abbd8"/><rect x="287.46" y="944.54" width="16.66" height="22.19" fill="#8abbd8"/><rect x="304.13" y="944.54" width="16.66" height="22.19" fill="#8abbd8"/><rect x="320.79" y="944.54" width="16.66" height="22.19" fill="#8abbd8"/><rect x="337.45" y="944.54" width="16.66" height="22.19" fill="#8abbd8"/><rect x="354.12" y="944.54" width="16.66" height="22.19" fill="#ff7e7e"/><rect x="370.78" y="944.54" width="16.66" height="22.19" fill="#ff7e7e"/><rect x="387.45" y="944.54" width="16.66" height="22.19" fill="#ff6464"/><rect x="404.11" y="944.54" width="16.66" height="22.19" fill="#8abbd8"/><rect x="420.78" y="944.54" width="16.66" height="22.19" fill="#ff6464"/><rect x="437.44" y="944.54" width="16.66" height="22.19" fill="#6caacf"/><rect x="454.1" y="944.54" width="16.66" height="22.19" fill="#ff6464"/><rect x="470.77" y="944.54" width="16.66" height="22.19" fill="#ffb8b8"/><rect x="487.43" y="944.54" width="16.66" height="22.19" fill="#ff9a9a"/><rect x="504.1" y="944.54" width="16.66" height="22.19" fill="#ff0404"/><rect x="520.76" y="944.54" width="16.66" height="22.19" fill="#ff7e7e"/><rect x="537.42" y="944.54" width="16.66" height="22.19" fill="#ff7e7e"/><rect x="554.09" y="944.54" width="16.66" height="22.19" fill="#6caacf"/><rect x="570.75" y="944.54" width="16.66" height="22.19" fill="#ff7e7e"/><rect x="587.42" y="944.54" width="16.66" height="22.19" fill="#d2e3ef"/><rect x="604.08" y="944.54" width="16.66" height="22.19" fill="#8abbd8"/><rect x="620.75" y="944.54" width="16.66" height="22.19" fill="#ffeeee"/><rect x="637.41" y="944.54" width="16.66" height="22.19" fill="#ffb8b8"/><rect x="654.07" y="944.54" width="16.66" height="22.19" fill="#ffb8b8"/><rect x="670.74" y="944.54" width="16.66" height="22.19" fill="#6caacf"/><rect x="687.4" y="944.54" width="16.66" height="22.19" fill="#ffd8d8"/><rect x="704.07" y="944.54" width="16.66" height="22.19" fill="#ff7e7e"/><rect x="720.73" y="944.54" width="16.66" height="22.19" fill="#ffeeee"/><rect x="737.39" y="944.54" width="16.66" height="22.19" fill="#a9cce2"/><rect x="754.06" y="944.54" width="16.66" height="22.19" fill="#ff9a9a"/><rect x="770.72" y="944.54" width="16.66" height="22.19" fill="#ffeeee"/><rect x="787.39" y="944.54" width="16.66" height="22.19" fill="#d2e3ef"/><rect x="804.05" y="944.54" width="16.66" height="22.19" fill="#ff9a9a"/><rect x="820.72" y="944.54" width="16.66" height="22.19" fill="#f0f5fa"/><rect x="837.38" y="944.54" width="16.66" height="22.19" fill="#ffb8b8"/><rect x="854.04" y="944.54" width="16.66" height="22.19" fill="#ff9a9a"/><rect x="870.71" y="944.54" width="16.66" height="22.19" fill="#ff9a9a"/><rect x="887.37" y="944.54" width="16.66" height="22.19" fill="#d2e3ef"/><rect x="904.04" y="944.54" width="16.66" height="22.19" fill="#ffd8d8"/><rect x="37.5" y="966.73" width="16.66" height="22.19" fill="#ff9a9a"/><rect x="54.16" y="966.73" width="16.66" height="22.19" fill="#ff9a9a"/><rect x="70.83" y="966.73" width="16.66" height="22.19" fill="#d2e3ef"/><rect x="87.49" y="966.73" width="16.66" height="22.19" fill="#4a98c8"/><rect x="104.16" y="966.73" width="16.66" height="22.19" fill="#fdfdfd"/><rect x="120.82" y="966.73" width="16.66" height="22.19" fill="#ffb8b8"/><rect x="137.48" y="966.73" width="16.66" height="22.19" fill="#4a98c8"/><rect x="154.15" y="966.73" width="16.66" height="22.19" fill="#fdfdfd"/><rect x="170.81" y="966.73" width="16.66" height="22.19" fill="#4a98c8"/><rect x="187.48" y="966.73" width="16.66" height="22.19" fill="#ffd8d8"/><rect x="204.14" y="966.73" width="16.66" height="22.19" fill="#4a98c8"/><rect x="220.81" y="966.73" width="16.66" height="22.19" fill="#ffeeee"/><rect x="237.47" y="966.73" width="16.66" height="22.19" fill="#4a98c8"/><rect x="254.13" y="966.73" width="16.66" height="22.19" fill="#ffd8d8"/><rect x="270.8" y="966.73" width="16.66" height="22.19" fill="#e6eff6"/><rect x="287.46" y="966.73" width="16.66" height="22.19" fill="#ffb8b8"/><rect x="304.13" y="966.73" width="16.66" height="22.19" fill="#ff7e7e"/><rect x="320.79" y="966.73" width="16.66" height="22.19" fill="#4a98c8"/><rect x="337.45" y="966.73" width="16.66" height="22.19" fill="#4a98c8"/><rect x="354.12" y="966.73" width="16.66" height="22.19" fill="#ffd8d8"/><rect x="370.78" y="966.73" width="16.66" height="22.19" fill="#ffd8d8"/><rect x="387.45" y="966.73" width="16.66" height="22.19" fill="#ff7e7e"/><rect x="404.11" y="966.73" width="16.66" height="22.19" fill="#4a98c8"/><rect x="420.78" y="966.73" width="16.66" height="22.19" fill="#ff0404"/><rect x="437.44" y="966.73" width="16.66" height="22.19" fill="#ff0404"/><rect x="454.1" y="966.73" width="16.66" height="22.19" fill="#2a8cc2"/><rect x="470.77" y="966.73" width="16.66" height="22.19" fill="#ff7e7e"/><rect x="487.43" y="966.73" width="16.66" height="22.19" fill="#f0f5fa"/><rect x="504.1" y="966.73" width="16.66" height="22.19" fill="#ff4848"/><rect x="520.76" y="966.73" width="16.66" height="22.19" fill="#ffd8d8"/><rect x="537.42" y="966.73" width="16.66" height="22.19" fill="#fdfdfd"/><rect x="554.09" y="966.73" width="16.66" height="22.19" fill="#e6eff6"/><rect x="570.75" y="966.73" width="16.66" height="22.19" fill="#f0f5fa"/><rect x="587.42" y="966.73" width="16.66" height="22.19" fill="#fdfdfd"/><rect x="604.08" y="966.73" width="16.66" height="22.19" fill="#ffeeee"/><rect x="620.75" y="966.73" width="16.66" height="22.19" fill="#4a98c8"/><rect x="637.41" y="966.73" width="16.66" height="22.19" fill="#fdfdfd"/><rect x="654.07" y="966.73" width="16.66" height="22.19" fill="#ff9a9a"/><rect x="670.74" y="966.73" width="16.66" height="22.19" fill="#4a98c8"/><rect x="687.4" y="966.73" width="16.66" height="22.19" fill="#a9cce2"/><rect x="704.07" y="966.73" width="16.66" height="22.19" fill="#ff9a9a"/><rect x="720.73" y="966.73" width="16.66" height="22.19" fill="#ffd8d8"/><rect x="737.39" y="966.73" width="16.66" height="22.19" fill="#ffd8d8"/><rect x="754.06" y="966.73" width="16.66" height="22.19" fill="#ff9a9a"/><rect x="770.72" y="966.73" width="16.66" height="22.19" fill="#ff9a9a"/><rect x="787.39" y="966.73" width="16.66" height="22.19" fill="#ffb8b8"/><rect x="804.05" y="966.73" width="16.66" height="22.19" fill="#fdfdfd"/><rect x="820.72" y="966.73" width="16.66" height="22.19" fill="#ffd8d8"/><rect x="837.38" y="966.73" width="16.66" height="22.19" fill="#ff7e7e"/><rect x="854.04" y="966.73" width="16.66" height="22.19" fill="#ff7e7e"/><rect x="870.71" y="966.73" width="16.66" height="22.19" fill="#ff9a9a"/><rect x="887.37" y="966.73" width="16.66" height="22.19" fill="#ffb8b8"/><rect x="904.04" y="966.73" width="16.66" height="22.19" fill="#ff7e7e"/><rect x="37.5" y="988.92" width="16.66" height="22.19" fill="#ffd8d8"/><rect x="54.16" y="988.92" width="16.66" height="22.19" fill="#ff7e7e"/><rect x="70.83" y="988.92" width="16.66" height="22.19" fill="#ffd8d8"/><rect x="87.49" y="988.92" width="16.66" height="22.19" fill="#8abbd8"/><rect x="104.16" y="988.92" width="16.66" height="22.19" fill="#8abbd8"/><rect x="120.82" y="988.92" width="16.66" height="22.19" fill="#ff7e7e"/><rect x="137.48" y="988.92" width="16.66" height="22.19" fill="#8abbd8"/><rect x="154.15" y="988.92" width="16.66" height="22.19" fill="#8abbd8"/><rect x="170.81" y="988.92" width="16.66" height="22.19" fill="#8abbd8"/><rect x="187.48" y="988.92" width="16.66" height="22.19" fill="#8abbd8"/><rect x="204.14" y="988.92" width="16.66" height="22.19" fill="#8abbd8"/><rect x="220.81" y="988.92" width="16.66" height="22.19" fill="#8abbd8"/><rect x="237.47" y="988.92" width="16.66" height="22.19" fill="#8abbd8"/><rect x="254.13" y="988.92" width="16.66" height="22.19" fill="#8abbd8"/><rect x="270.8" y="988.92" width="16.66" height="22.19" fill="#ff9a9a"/><rect x="287.46" y="988.92" width="16.66" height="22.19" fill="#ffb8b8"/><rect x="304.13" y="988.92" width="16.66" height="22.19" fill="#8abbd8"/><rect x="320.79" y="988.92" width="16.66" height="22.19" fill="#8abbd8"/><rect x="337.45" y="988.92" width="16.66" height="22.19" fill="#8abbd8"/><rect x="354.12" y="988.92" width="16.66" height="22.19" fill="#8abbd8"/><rect x="370.78" y="988.92" width="16.66" height="22.19" fill="#8abbd8"/><rect x="387.45" y="988.92" width="16.66" height="22.19" fill="#ff7e7e"/><rect x="404.11" y="988.92" width="16.66" height="22.19" fill="#8abbd8"/><rect x="420.78" y="988.92" width="16.66" height="22.19" fill="#ff0404"/><rect x="437.44" y="988.92" width="16.66" height="22.19" fill="#ff6464"/><rect x="454.1" y="988.92" width="16.66" height="22.19" fill="#ff4848"/><rect x="470.77" y="988.92" width="16.66" height="22.19" fill="#ffb8b8"/><rect x="487.43" y="988.92" width="16.66" height="22.19" fill="#ff9a9a"/><rect x="504.1" y="988.92" width="16.66" height="22.19" fill="#ff2828"/><rect x="520.76" y="988.92" width="16.66" height="22.19" fill="#ff7e7e"/><rect x="537.42" y="988.92" width="16.66" height="22.19" fill="#fdfdfd"/><rect x="554.09" y="988.92" width="16.66" height="22.19" fill="#8abbd8"/><rect x="570.75" y="988.92" width="16.66" height="22.19" fill="#fdfdfd"/><rect x="587.42" y="988.92" width="16.66" height="22.19" fill="#ff6464"/><rect x="604.08" y="988.92" width="16.66" height="22.19" fill="#ff4848"/><rect x="620.75" y="988.92" width="16.66" height="22.19" fill="#8abbd8"/><rect x="637.41" y="988.92" width="16.66" height="22.19" fill="#ffb8b8"/><rect x="654.07" y="988.92" width="16.66" height="22.19" fill="#6caacf"/><rect x="670.74" y="988.92" width="16.66" height="22.19" fill="#8abbd8"/><rect x="687.4" y="988.92" width="16.66" height="22.19" fill="#8abbd8"/><rect x="704.07" y="988.92" width="16.66" height="22.19" fill="#d2e3ef"/><rect x="720.73" y="988.92" width="16.66" height="22.19" fill="#ffb8b8"/><rect x="737.39" y="988.92" width="16.66" height="22.19" fill="#ffd8d8"/><rect x="754.06" y="988.92" width="16.66" height="22.19" fill="#ffb8b8"/><rect x="770.72" y="988.92" width="16.66" height="22.19" fill="#ff9a9a"/><rect x="787.39" y="988.92" width="16.66" height="22.19" fill="#ff7e7e"/><rect x="804.05" y="988.92" width="16.66" height="22.19" fill="#8abbd8"/><rect x="820.72" y="988.92" width="16.66" height="22.19" fill="#ff2828"/><rect x="837.38" y="988.92" width="16.66" height="22.19" fill="#ffb8b8"/><rect x="854.04" y="988.92" width="16.66" height="22.19" fill="#ffd8d8"/><rect x="870.71" y="988.92" width="16.66" height="22.19" fill="#ff9a9a"/><rect x="887.37" y="988.92" width="16.66" height="22.19" fill="#ffb8b8"/><rect x="904.04" y="988.92" width="16.66" height="22.19" fill="#ffd8d8"/><rect x="37.5" y="1011.11" width="16.66" height="22.19" fill="#a9cce2"/><rect x="54.16" y="1011.11" width="16.66" height="22.19" fill="#a9cce2"/><rect x="70.83" y="1011.11" width="16.66" height="22.19" fill="#ffeeee"/><rect x="87.49" y="1011.11" width="16.66" height="22.19" fill="#a9cce2"/><rect x="104.16" y="1011.11" width="16.66" height="22.19" fill="#a9cce2"/><rect x="120.82" y="1011.11" width="16.66" height="22.19" fill="#a9cce2"/><rect x="137.48" y="1011.11" width="16.66" height="22.19" fill="#a9cce2"/><rect x="154.15" y="1011.11" width="16.66" height="22.19" fill="#a9cce2"/><rect x="170.81" y="1011.11" width="16.66" height="22.19" fill="#a9cce2"/><rect x="187.48" y="1011.11" width="16.66" height="22.19" fill="#ff7e7e"/><rect x="204.14" y="1011.11" width="16.66" height="22.19" fill="#a9cce2"/><rect x="220.81" y="1011.11" width="16.66" height="22.19" fill="#a9cce2"/><rect x="237.47" y="1011.11" width="16.66" height="22.19" fill="#a9cce2"/><rect x="254.13" y="1011.11" width="16.66" height="22.19" fill="#a9cce2"/><rect x="270.8" y="1011.11" width="16.66" height="22.19" fill="#a9cce2"/><rect x="287.46" y="1011.11" width="16.66" height="22.19" fill="#a9cce2"/><rect x="304.13" y="1011.11" width="16.66" height="22.19" fill="#a9cce2"/><rect x="320.79" y="1011.11" width="16.66" height="22.19" fill="#a9cce2"/><rect x="337.45" y="1011.11" width="16.66" height="22.19" fill="#a9cce2"/><rect x="354.12" y="1011.11" width="16.66" height="22.19" fill="#a9cce2"/><rect x="370.78" y="1011.11" width="16.66" height="22.19" fill="#a9cce2"/><rect x="387.45" y="1011.11" width="16.66" height="22.19" fill="#ff7e7e"/><rect x="404.11" y="1011.11" width="16.66" height="22.19" fill="#ff0404"/><rect x="420.78" y="1011.11" width="16.66" height="22.19" fill="#ff0404"/><rect x="437.44" y="1011.11" width="16.66" height="22.19" fill="#ff0404"/><rect x="454.1" y="1011.11" width="16.66" height="22.19" fill="#fdfdfd"/><rect x="470.77" y="1011.11" width="16.66" height="22.19" fill="#fdfdfd"/><rect x="487.43" y="1011.11" width="16.66" height="22.19" fill="#fdfdfd"/><rect x="504.1" y="1011.11" width="16.66" height="22.19" fill="#a9cce2"/><rect x="520.76" y="1011.11" width="16.66" height="22.19" fill="#a9cce2"/><rect x="537.42" y="1011.11" width="16.66" height="22.19" fill="#ffb8b8"/><rect x="554.09" y="1011.11" width="16.66" height="22.19" fill="#a9cce2"/><rect x="570.75" y="1011.11" width="16.66" height="22.19" fill="#ff9a9a"/><rect x="587.42" y="1011.11" width="16.66" height="22.19" fill="#a9cce2"/><rect x="604.08" y="1011.11" width="16.66" height="22.19" fill="#a9cce2"/><rect x="620.75" y="1011.11" width="16.66" height="22.19" fill="#a9cce2"/><rect x="637.41" y="1011.11" width="16.66" height="22.19" fill="#a9cce2"/><rect x="654.07" y="1011.11" width="16.66" height="22.19" fill="#ff7e7e"/><rect x="670.74" y="1011.11" width="16.66" height="22.19" fill="#ff9a9a"/><rect x="687.4" y="1011.11" width="16.66" height="22.19" fill="#a9cce2"/><rect x="704.07" y="1011.11" width="16.66" height="22.19" fill="#a9cce2"/><rect x="720.73" y="1011.11" width="16.66" height="22.19" fill="#ffb8b8"/><rect x="737.39" y="1011.11" width="16.66" height="22.19" fill="#ff9a9a"/><rect x="754.06" y="1011.11" width="16.66" height="22.19" fill="#ff7e7e"/><rect x="770.72" y="1011.11" width="16.66" height="22.19" fill="#ff2828"/><rect x="787.39" y="1011.11" width="16.66" height="22.19" fill="#ffd8d8"/><rect x="804.05" y="1011.11" width="16.66" height="22.19" fill="#ff9a9a"/><rect x="820.72" y="1011.11" width="16.66" height="22.19" fill="#ff9a9a"/><rect x="837.38" y="1011.11" width="16.66" height="22.19" fill="#ff0404"/><rect x="854.04" y="1011.11" width="16.66" height="22.19" fill="#ff6464"/><rect x="870.71" y="1011.11" width="16.66" height="22.19" fill="#ff6464"/><rect x="887.37" y="1011.11" width="16.66" height="22.19" fill="#ff7e7e"/><rect x="904.04" y="1011.11" width="16.66" height="22.19" fill="#ff7e7e"/><rect x="37.5" y="1033.3" width="16.66" height="22.19" fill="#ff7e7e"/><rect x="54.16" y="1033.3" width="16.66" height="22.19" fill="#a9cce2"/><rect x="70.83" y="1033.3" width="16.66" height="22.19" fill="#ff4848"/><rect x="87.49" y="1033.3" width="16.66" height="22.19" fill="#ff7e7e"/><rect x="104.16" y="1033.3" width="16.66" height="22.19" fill="#a9cce2"/><rect x="120.82" y="1033.3" width="16.66" height="22.19" fill="#a9cce2"/><rect x="137.48" y="1033.3" width="16.66" height="22.19" fill="#a9cce2"/><rect x="154.15" y="1033.3" width="16.66" height="22.19" fill="#a9cce2"/><rect x="170.81" y="1033.3" width="16.66" height="22.19" fill="#a9cce2"/><rect x="187.48" y="1033.3" width="16.66" height="22.19" fill="#a9cce2"/><rect x="204.14" y="1033.3" width="16.66" height="22.19" fill="#a9cce2"/><rect x="220.81" y="1033.3" width="16.66" height="22.19" fill="#a9cce2"/><rect x="237.47" y="1033.3" width="16.66" height="22.19" fill="#a9cce2"/><rect x="254.13" y="1033.3" width="16.66" height="22.19" fill="#a9cce2"/><rect x="270.8" y="1033.3" width="16.66" height="22.19" fill="#a9cce2"/><rect x="287.46" y="1033.3" width="16.66" height="22.19" fill="#ff6464"/><rect x="304.13" y="1033.3" width="16.66" height="22.19" fill="#a9cce2"/><rect x="320.79" y="1033.3" width="16.66" height="22.19" fill="#a9cce2"/><rect x="337.45" y="1033.3" width="16.66" height="22.19" fill="#a9cce2"/><rect x="354.12" y="1033.3" width="16.66" height="22.19" fill="#a9cce2"/><rect x="370.78" y="1033.3" width="16.66" height="22.19" fill="#a9cce2"/><rect x="387.45" y="1033.3" width="16.66" height="22.19" fill="#ff4848"/><rect x="404.11" y="1033.3" width="16.66" height="22.19" fill="#a9cce2"/><rect x="420.78" y="1033.3" width="16.66" height="22.19" fill="#ff6464"/><rect x="437.44" y="1033.3" width="16.66" height="22.19" fill="#ffb8b8"/><rect x="454.1" y="1033.3" width="16.66" height="22.19" fill="#ff9a9a"/><rect x="470.77" y="1033.3" width="16.66" height="22.19" fill="#ff6464"/><rect x="487.43" y="1033.3" width="16.66" height="22.19" fill="#ff7e7e"/><rect x="504.1" y="1033.3" width="16.66" height="22.19" fill="#a9cce2"/><rect x="520.76" y="1033.3" width="16.66" height="22.19" fill="#a9cce2"/><rect x="537.42" y="1033.3" width="16.66" height="22.19" fill="#a9cce2"/><rect x="554.09" y="1033.3" width="16.66" height="22.19" fill="#a9cce2"/><rect x="570.75" y="1033.3" width="16.66" height="22.19" fill="#ff7e7e"/><rect x="587.42" y="1033.3" width="16.66" height="22.19" fill="#a9cce2"/><rect x="604.08" y="1033.3" width="16.66" height="22.19" fill="#a9cce2"/><rect x="620.75" y="1033.3" width="16.66" height="22.19" fill="#a9cce2"/><rect x="637.41" y="1033.3" width="16.66" height="22.19" fill="#a9cce2"/><rect x="654.07" y="1033.3" width="16.66" height="22.19" fill="#8abbd8"/><rect x="670.74" y="1033.3" width="16.66" height="22.19" fill="#ff6464"/><rect x="687.4" y="1033.3" width="16.66" height="22.19" fill="#a9cce2"/><rect x="704.07" y="1033.3" width="16.66" height="22.19" fill="#a9cce2"/><rect x="720.73" y="1033.3" width="16.66" height="22.19" fill="#a9cce2"/><rect x="737.39" y="1033.3" width="16.66" height="22.19" fill="#ff7e7e"/><rect x="754.06" y="1033.3" width="16.66" height="22.19" fill="#ff7e7e"/><rect x="770.72" y="1033.3" width="16.66" height="22.19" fill="#ff2828"/><rect x="787.39" y="1033.3" width="16.66" height="22.19" fill="#ff7e7e"/><rect x="804.05" y="1033.3" width="16.66" height="22.19" fill="#ff6464"/><rect x="820.72" y="1033.3" width="16.66" height="22.19" fill="#ff7e7e"/><rect x="837.38" y="1033.3" width="16.66" height="22.19" fill="#ff6464"/><rect x="854.04" y="1033.3" width="16.66" height="22.19" fill="#ff7e7e"/><rect x="870.71" y="1033.3" width="16.66" height="22.19" fill="#ff7e7e"/><rect x="887.37" y="1033.3" width="16.66" height="22.19" fill="#ff6464"/><rect x="904.04" y="1033.3" width="16.66" height="22.19" fill="#ff7e7e"/><rect x="37.5" y="1055.49" width="16.66" height="22.19" fill="#d2e3ef"/><rect x="54.16" y="1055.49" width="16.66" height="22.19" fill="#d2e3ef"/><rect x="70.83" y="1055.49" width="16.66" height="22.19" fill="#d2e3ef"/><rect x="87.49" y="1055.49" width="16.66" height="22.19" fill="#d2e3ef"/><rect x="104.16" y="1055.49" width="16.66" height="22.19" fill="#d2e3ef"/><rect x="120.82" y="1055.49" width="16.66" height="22.19" fill="#d2e3ef"/><rect x="137.48" y="1055.49" width="16.66" height="22.19" fill="#d2e3ef"/><rect x="154.15" y="1055.49" width="16.66" height="22.19" fill="#ff6464"/><rect x="170.81" y="1055.49" width="16.66" height="22.19" fill="#ff0404"/><rect x="187.48" y="1055.49" width="16.66" height="22.19" fill="#ff2828"/><rect x="204.14" y="1055.49" width="16.66" height="22.19" fill="#d2e3ef"/><rect x="220.81" y="1055.49" width="16.66" height="22.19" fill="#ff4848"/><rect x="237.47" y="1055.49" width="16.66" height="22.19" fill="#d2e3ef"/><rect x="254.13" y="1055.49" width="16.66" height="22.19" fill="#d2e3ef"/><rect x="270.8" y="1055.49" width="16.66" height="22.19" fill="#ff0404"/><rect x="287.46" y="1055.49" width="16.66" height="22.19" fill="#ff6464"/><rect x="304.13" y="1055.49" width="16.66" height="22.19" fill="#d2e3ef"/><rect x="320.79" y="1055.49" width="16.66" height="22.19" fill="#d2e3ef"/><rect x="337.45" y="1055.49" width="16.66" height="22.19" fill="#d2e3ef"/><rect x="354.12" y="1055.49" width="16.66" height="22.19" fill="#d2e3ef"/><rect x="370.78" y="1055.49" width="16.66" height="22.19" fill="#ff4848"/><rect x="387.45" y="1055.49" width="16.66" height="22.19" fill="#ffb8b8"/><rect x="404.11" y="1055.49" width="16.66" height="22.19" fill="#ff4848"/><rect x="420.78" y="1055.49" width="16.66" height="22.19" fill="#d2e3ef"/><rect x="437.44" y="1055.49" width="16.66" height="22.19" fill="#ff0404"/><rect x="454.1" y="1055.49" width="16.66" height="22.19" fill="#d2e3ef"/><rect x="470.77" y="1055.49" width="16.66" height="22.19" fill="#ff4848"/><rect x="487.43" y="1055.49" width="16.66" height="22.19" fill="#d2e3ef"/><rect x="504.1" y="1055.49" width="16.66" height="22.19" fill="#d2e3ef"/><rect x="520.76" y="1055.49" width="16.66" height="22.19" fill="#d2e3ef"/><rect x="537.42" y="1055.49" width="16.66" height="22.19" fill="#d2e3ef"/><rect x="554.09" y="1055.49" width="16.66" height="22.19" fill="#d2e3ef"/><rect x="570.75" y="1055.49" width="16.66" height="22.19" fill="#ff0404"/><rect x="587.42" y="1055.49" width="16.66" height="22.19" fill="#d2e3ef"/><rect x="604.08" y="1055.49" width="16.66" height="22.19" fill="#d2e3ef"/><rect x="620.75" y="1055.49" width="16.66" height="22.19" fill="#ff0404"/><rect x="637.41" y="1055.49" width="16.66" height="22.19" fill="#ff0404"/><rect x="654.07" y="1055.49" width="16.66" height="22.19" fill="#d2e3ef"/><rect x="670.74" y="1055.49" width="16.66" height="22.19" fill="#d2e3ef"/><rect x="687.4" y="1055.49" width="16.66" height="22.19" fill="#b7d5e8"/><rect x="704.07" y="1055.49" width="16.66" height="22.19" fill="#a9cce2"/><rect x="720.73" y="1055.49" width="16.66" height="22.19" fill="#b7d5e8"/><rect x="737.39" y="1055.49" width="16.66" height="22.19" fill="#a9cce2"/><rect x="754.06" y="1055.49" width="16.66" height="22.19" fill="#a9cce2"/><rect x="770.72" y="1055.49" width="16.66" height="22.19" fill="#a9cce2"/><rect x="787.39" y="1055.49" width="16.66" height="22.19" fill="#a9cce2"/><rect x="804.05" y="1055.49" width="16.66" height="22.19" fill="#b7d5e8"/><rect x="820.72" y="1055.49" width="16.66" height="22.19" fill="#b7d5e8"/><rect x="837.38" y="1055.49" width="16.66" height="22.19" fill="#a9cce2"/><rect x="854.04" y="1055.49" width="16.66" height="22.19" fill="#a9cce2"/><rect x="870.71" y="1055.49" width="16.66" height="22.19" fill="#a9cce2"/><rect x="887.37" y="1055.49" width="16.66" height="22.19" fill="#a9cce2"/><rect x="904.04" y="1055.49" width="16.66" height="22.19" fill="#a9cce2"/><rect x="37.5" y="1077.68" width="16.66" height="22.19" fill="#ff7e7e"/><rect x="54.16" y="1077.68" width="16.66" height="22.19" fill="#fdfdfd"/><rect x="70.83" y="1077.68" width="16.66" height="22.19" fill="#d2e3ef"/><rect x="87.49" y="1077.68" width="16.66" height="22.19" fill="#ffb8b8"/><rect x="104.16" y="1077.68" width="16.66" height="22.19" fill="#ff0404"/><rect x="120.82" y="1077.68" width="16.66" height="22.19" fill="#ffb8b8"/><rect x="137.48" y="1077.68" width="16.66" height="22.19" fill="#ff9a9a"/><rect x="154.15" y="1077.68" width="16.66" height="22.19" fill="#ff6464"/><rect x="170.81" y="1077.68" width="16.66" height="22.19" fill="#ffd8d8"/><rect x="187.48" y="1077.68" width="16.66" height="22.19" fill="#ff7e7e"/><rect x="204.14" y="1077.68" width="16.66" height="22.19" fill="#ff4848"/><rect x="220.81" y="1077.68" width="16.66" height="22.19" fill="#ff4848"/><rect x="237.47" y="1077.68" width="16.66" height="22.19" fill="#ff6464"/><rect x="254.13" y="1077.68" width="16.66" height="22.19" fill="#ff4848"/><rect x="270.8" y="1077.68" width="16.66" height="22.19" fill="#ff7e7e"/><rect x="287.46" y="1077.68" width="16.66" height="22.19" fill="#ffb8b8"/><rect x="304.13" y="1077.68" width="16.66" height="22.19" fill="#ffd8d8"/><rect x="320.79" y="1077.68" width="16.66" height="22.19" fill="#6caacf"/><rect x="337.45" y="1077.68" width="16.66" height="22.19" fill="#ffb8b8"/><rect x="354.12" y="1077.68" width="16.66" height="22.19" fill="#6caacf"/><rect x="370.78" y="1077.68" width="16.66" height="22.19" fill="#6caacf"/><rect x="387.45" y="1077.68" width="16.66" height="22.19" fill="#ff9a9a"/><rect x="404.11" y="1077.68" width="16.66" height="22.19" fill="#ff0404"/><rect x="420.78" y="1077.68" width="16.66" height="22.19" fill="#6caacf"/><rect x="437.44" y="1077.68" width="16.66" height="22.19" fill="#6caacf"/><rect x="454.1" y="1077.68" width="16.66" height="22.19" fill="#f0f5fa"/><rect x="470.77" y="1077.68" width="16.66" height="22.19" fill="#8abbd8"/><rect x="487.43" y="1077.68" width="16.66" height="22.19" fill="#d2e3ef"/><rect x="504.1" y="1077.68" width="16.66" height="22.19" fill="#6caacf"/><rect x="520.76" y="1077.68" width="16.66" height="22.19" fill="#6caacf"/><rect x="537.42" y="1077.68" width="16.66" height="22.19" fill="#ff9a9a"/><rect x="554.09" y="1077.68" width="16.66" height="22.19" fill="#ffb8b8"/><rect x="570.75" y="1077.68" width="16.66" height="22.19" fill="#f0f5fa"/><rect x="587.42" y="1077.68" width="16.66" height="22.19" fill="#6caacf"/><rect x="604.08" y="1077.68" width="16.66" height="22.19" fill="#6caacf"/><rect x="620.75" y="1077.68" width="16.66" height="22.19" fill="#fdfdfd"/><rect x="637.41" y="1077.68" width="16.66" height="22.19" fill="#ff9a9a"/><rect x="654.07" y="1077.68" width="16.66" height="22.19" fill="#ffd8d8"/><rect x="670.74" y="1077.68" width="16.66" height="22.19" fill="#6caacf"/><rect x="687.4" y="1077.68" width="16.66" height="22.19" fill="#ffd8d8"/><rect x="704.07" y="1077.68" width="16.66" height="22.19" fill="#ffb8b8"/><rect x="720.73" y="1077.68" width="16.66" height="22.19" fill="#ff4848"/><rect x="737.39" y="1077.68" width="16.66" height="22.19" fill="#ff6464"/><rect x="754.06" y="1077.68" width="16.66" height="22.19" fill="#a9cce2"/><rect x="770.72" y="1077.68" width="16.66" height="22.19" fill="#a9cce2"/><rect x="787.39" y="1077.68" width="16.66" height="22.19" fill="#a9cce2"/><rect x="804.05" y="1077.68" width="16.66" height="22.19" fill="#f0f5fa"/><rect x="820.72" y="1077.68" width="16.66" height="22.19" fill="#e6eff6"/><rect x="837.38" y="1077.68" width="16.66" height="22.19" fill="#8abbd8"/><rect x="854.04" y="1077.68" width="16.66" height="22.19" fill="#a9cce2"/><rect x="870.71" y="1077.68" width="16.66" height="22.19" fill="#a9cce2"/><rect x="887.37" y="1077.68" width="16.66" height="22.19" fill="#d2e3ef"/><rect x="904.04" y="1077.68" width="16.66" height="22.19" fill="#8abbd8"/><rect x="37.5" y="1099.87" width="16.66" height="22.19" fill="#ff9a9a"/><rect x="54.16" y="1099.87" width="16.66" height="22.19" fill="#8abbd8"/><rect x="70.83" y="1099.87" width="16.66" height="22.19" fill="#6caacf"/><rect x="87.49" y="1099.87" width="16.66" height="22.19" fill="#6caacf"/><rect x="104.16" y="1099.87" width="16.66" height="22.19" fill="#ff4848"/><rect x="120.82" y="1099.87" width="16.66" height="22.19" fill="#8abbd8"/><rect x="137.48" y="1099.87" width="16.66" height="22.19" fill="#8abbd8"/><rect x="154.15" y="1099.87" width="16.66" height="22.19" fill="#ff9a9a"/><rect x="170.81" y="1099.87" width="16.66" height="22.19" fill="#8abbd8"/><rect x="187.48" y="1099.87" width="16.66" height="22.19" fill="#8abbd8"/><rect x="204.14" y="1099.87" width="16.66" height="22.19" fill="#8abbd8"/><rect x="220.81" y="1099.87" width="16.66" height="22.19" fill="#ffb8b8"/><rect x="237.47" y="1099.87" width="16.66" height="22.19" fill="#8abbd8"/><rect x="254.13" y="1099.87" width="16.66" height="22.19" fill="#8abbd8"/><rect x="270.8" y="1099.87" width="16.66" height="22.19" fill="#ffd8d8"/><rect x="287.46" y="1099.87" width="16.66" height="22.19" fill="#8abbd8"/><rect x="304.13" y="1099.87" width="16.66" height="22.19" fill="#ff0404"/><rect x="320.79" y="1099.87" width="16.66" height="22.19" fill="#8abbd8"/><rect x="337.45" y="1099.87" width="16.66" height="22.19" fill="#ff4848"/><rect x="354.12" y="1099.87" width="16.66" height="22.19" fill="#8abbd8"/><rect x="370.78" y="1099.87" width="16.66" height="22.19" fill="#8abbd8"/><rect x="387.45" y="1099.87" width="16.66" height="22.19" fill="#ffd8d8"/><rect x="404.11" y="1099.87" width="16.66" height="22.19" fill="#ff0404"/><rect x="420.78" y="1099.87" width="16.66" height="22.19" fill="#8abbd8"/><rect x="437.44" y="1099.87" width="16.66" height="22.19" fill="#ff0404"/><rect x="454.1" y="1099.87" width="16.66" height="22.19" fill="#ff6464"/><rect x="470.77" y="1099.87" width="16.66" height="22.19" fill="#ff6464"/><rect x="487.43" y="1099.87" width="16.66" height="22.19" fill="#fdfdfd"/><rect x="504.1" y="1099.87" width="16.66" height="22.19" fill="#8abbd8"/><rect x="520.76" y="1099.87" width="16.66" height="22.19" fill="#8abbd8"/><rect x="537.42" y="1099.87" width="16.66" height="22.19" fill="#ff9a9a"/><rect x="554.09" y="1099.87" width="16.66" height="22.19" fill="#8abbd8"/><rect x="570.75" y="1099.87" width="16.66" height="22.19" fill="#ffb8b8"/><rect x="587.42" y="1099.87" width="16.66" height="22.19" fill="#8abbd8"/><rect x="604.08" y="1099.87" width="16.66" height="22.19" fill="#8abbd8"/><rect x="620.75" y="1099.87" width="16.66" height="22.19" fill="#ffb8b8"/><rect x="637.41" y="1099.87" width="16.66" height="22.19" fill="#ffb8b8"/><rect x="654.07" y="1099.87" width="16.66" height="22.19" fill="#ffb8b8"/><rect x="670.74" y="1099.87" width="16.66" height="22.19" fill="#ffb8b8"/><rect x="687.4" y="1099.87" width="16.66" height="22.19" fill="#8abbd8"/><rect x="704.07" y="1099.87" width="16.66" height="22.19" fill="#ff7e7e"/><rect x="720.73" y="1099.87" width="16.66" height="22.19" fill="#ff7e7e"/><rect x="737.39" y="1099.87" width="16.66" height="22.19" fill="#ffd8d8"/><rect x="754.06" y="1099.87" width="16.66" height="22.19" fill="#ffb8b8"/><rect x="770.72" y="1099.87" width="16.66" height="22.19" fill="#fdfdfd"/><rect x="787.39" y="1099.87" width="16.66" height="22.19" fill="#d2e3ef"/><rect x="804.05" y="1099.87" width="16.66" height="22.19" fill="#ffb8b8"/><rect x="820.72" y="1099.87" width="16.66" height="22.19" fill="#ffb8b8"/><rect x="837.38" y="1099.87" width="16.66" height="22.19" fill="#ff7e7e"/><rect x="854.04" y="1099.87" width="16.66" height="22.19" fill="#ffb8b8"/><rect x="870.71" y="1099.87" width="16.66" height="22.19" fill="#ff9a9a"/><rect x="887.37" y="1099.87" width="16.66" height="22.19" fill="#ffb8b8"/><rect x="904.04" y="1099.87" width="16.66" height="22.19" fill="#ffb8b8"/><rect x="37.5" y="1122.06" width="16.66" height="22.19" fill="#4a98c8"/><rect x="54.16" y="1122.06" width="16.66" height="22.19" fill="#ffb8b8"/><rect x="70.83" y="1122.06" width="16.66" height="22.19" fill="#ff9a9a"/><rect x="87.49" y="1122.06" width="16.66" height="22.19" fill="#d2e3ef"/><rect x="104.16" y="1122.06" width="16.66" height="22.19" fill="#ff7e7e"/><rect x="120.82" y="1122.06" width="16.66" height="22.19" fill="#ffb8b8"/><rect x="137.48" y="1122.06" width="16.66" height="22.19" fill="#4a98c8"/><rect x="154.15" y="1122.06" width="16.66" height="22.19" fill="#ffd8d8"/><rect x="170.81" y="1122.06" width="16.66" height="22.19" fill="#4a98c8"/><rect x="187.48" y="1122.06" width="16.66" height="22.19" fill="#4a98c8"/><rect x="204.14" y="1122.06" width="16.66" height="22.19" fill="#4a98c8"/><rect x="220.81" y="1122.06" width="16.66" height="22.19" fill="#ffb8b8"/><rect x="237.47" y="1122.06" width="16.66" height="22.19" fill="#ff9a9a"/><rect x="254.13" y="1122.06" width="16.66" height="22.19" fill="#4a98c8"/><rect x="270.8" y="1122.06" width="16.66" height="22.19" fill="#ff9a9a"/><rect x="287.46" y="1122.06" width="16.66" height="22.19" fill="#ff9a9a"/><rect x="304.13" y="1122.06" width="16.66" height="22.19" fill="#4a98c8"/><rect x="320.79" y="1122.06" width="16.66" height="22.19" fill="#4a98c8"/><rect x="337.45" y="1122.06" width="16.66" height="22.19" fill="#ffb8b8"/><rect x="354.12" y="1122.06" width="16.66" height="22.19" fill="#ffb8b8"/><rect x="370.78" y="1122.06" width="16.66" height="22.19" fill="#4a98c8"/><rect x="387.45" y="1122.06" width="16.66" height="22.19" fill="#ff7e7e"/><rect x="404.11" y="1122.06" width="16.66" height="22.19" fill="#ffd8d8"/><rect x="420.78" y="1122.06" width="16.66" height="22.19" fill="#4a98c8"/><rect x="437.44" y="1122.06" width="16.66" height="22.19" fill="#ff9a9a"/><rect x="454.1" y="1122.06" width="16.66" height="22.19" fill="#ff9a9a"/><rect x="470.77" y="1122.06" width="16.66" height="22.19" fill="#ff6464"/><rect x="487.43" y="1122.06" width="16.66" height="22.19" fill="#4a98c8"/><rect x="504.1" y="1122.06" width="16.66" height="22.19" fill="#4a98c8"/><rect x="520.76" y="1122.06" width="16.66" height="22.19" fill="#4a98c8"/><rect x="537.42" y="1122.06" width="16.66" height="22.19" fill="#ffb8b8"/><rect x="554.09" y="1122.06" width="16.66" height="22.19" fill="#ffb8b8"/><rect x="570.75" y="1122.06" width="16.66" height="22.19" fill="#ffb8b8"/><rect x="587.42" y="1122.06" width="16.66" height="22.19" fill="#4a98c8"/><rect x="604.08" y="1122.06" width="16.66" height="22.19" fill="#ffb8b8"/><rect x="620.75" y="1122.06" width="16.66" height="22.19" fill="#ffb8b8"/><rect x="637.41" y="1122.06" width="16.66" height="22.19" fill="#ff9a9a"/><rect x="654.07" y="1122.06" width="16.66" height="22.19" fill="#ff9a9a"/><rect x="670.74" y="1122.06" width="16.66" height="22.19" fill="#ff7e7e"/><rect x="687.4" y="1122.06" width="16.66" height="22.19" fill="#a9cce2"/><rect x="704.07" y="1122.06" width="16.66" height="22.19" fill="#ffb8b8"/><rect x="720.73" y="1122.06" width="16.66" height="22.19" fill="#ff9a9a"/><rect x="737.39" y="1122.06" width="16.66" height="22.19" fill="#ff9a9a"/><rect x="754.06" y="1122.06" width="16.66" height="22.19" fill="#ff9a9a"/><rect x="770.72" y="1122.06" width="16.66" height="22.19" fill="#ffb8b8"/><rect x="787.39" y="1122.06" width="16.66" height="22.19" fill="#ffb8b8"/><rect x="804.05" y="1122.06" width="16.66" height="22.19" fill="#ff9a9a"/><rect x="820.72" y="1122.06" width="16.66" height="22.19" fill="#ff9a9a"/><rect x="837.38" y="1122.06" width="16.66" height="22.19" fill="#ff9a9a"/><rect x="854.04" y="1122.06" width="16.66" height="22.19" fill="#ffb8b8"/><rect x="870.71" y="1122.06" width="16.66" height="22.19" fill="#ffb8b8"/><rect x="887.37" y="1122.06" width="16.66" height="22.19" fill="#ff9a9a"/><rect x="904.04" y="1122.06" width="16.66" height="22.19" fill="#ffb8b8"/><rect x="37.5" y="1144.25" width="16.66" height="22.19" fill="#d2e3ef"/><rect x="54.16" y="1144.25" width="16.66" height="22.19" fill="#d2e3ef"/><rect x="70.83" y="1144.25" width="16.66" height="22.19" fill="#d2e3ef"/><rect x="87.49" y="1144.25" width="16.66" height="22.19" fill="#d2e3ef"/><rect x="104.16" y="1144.25" width="16.66" height="22.19" fill="#ff4848"/><rect x="120.82" y="1144.25" width="16.66" height="22.19" fill="#d2e3ef"/><rect x="137.48" y="1144.25" width="16.66" height="22.19" fill="#d2e3ef"/><rect x="154.15" y="1144.25" width="16.66" height="22.19" fill="#ff0404"/><rect x="170.81" y="1144.25" width="16.66" height="22.19" fill="#ff4848"/><rect x="187.48" y="1144.25" width="16.66" height="22.19" fill="#d2e3ef"/><rect x="204.14" y="1144.25" width="16.66" height="22.19" fill="#d2e3ef"/><rect x="220.81" y="1144.25" width="16.66" height="22.19" fill="#d2e3ef"/><rect x="237.47" y="1144.25" width="16.66" height="22.19" fill="#d2e3ef"/><rect x="254.13" y="1144.25" width="16.66" height="22.19" fill="#d2e3ef"/><rect x="270.8" y="1144.25" width="16.66" height="22.19" fill="#d2e3ef"/><rect x="287.46" y="1144.25" width="16.66" height="22.19" fill="#d2e3ef"/><rect x="304.13" y="1144.25" width="16.66" height="22.19" fill="#ff0404"/><rect x="320.79" y="1144.25" width="16.66" height="22.19" fill="#ff0404"/><rect x="337.45" y="1144.25" width="16.66" height="22.19" fill="#ff2828"/><rect x="354.12" y="1144.25" width="16.66" height="22.19" fill="#d2e3ef"/><rect x="370.78" y="1144.25" width="16.66" height="22.19" fill="#d2e3ef"/><rect x="387.45" y="1144.25" width="16.66" height="22.19" fill="#d2e3ef"/><rect x="404.11" y="1144.25" width="16.66" height="22.19" fill="#d2e3ef"/><rect x="420.78" y="1144.25" width="16.66" height="22.19" fill="#d2e3ef"/><rect x="437.44" y="1144.25" width="16.66" height="22.19" fill="#ff4848"/><rect x="454.1" y="1144.25" width="16.66" height="22.19" fill="#ff7e7e"/><rect x="470.77" y="1144.25" width="16.66" height="22.19" fill="#ff0404"/><rect x="487.43" y="1144.25" width="16.66" height="22.19" fill="#d2e3ef"/><rect x="504.1" y="1144.25" width="16.66" height="22.19" fill="#d2e3ef"/><rect x="520.76" y="1144.25" width="16.66" height="22.19" fill="#d2e3ef"/><rect x="537.42" y="1144.25" width="16.66" height="22.19" fill="#d2e3ef"/><rect x="554.09" y="1144.25" width="16.66" height="22.19" fill="#d2e3ef"/><rect x="570.75" y="1144.25" width="16.66" height="22.19" fill="#d2e3ef"/><rect x="587.42" y="1144.25" width="16.66" height="22.19" fill="#d2e3ef"/><rect x="604.08" y="1144.25" width="16.66" height="22.19" fill="#ff0404"/><rect x="620.75" y="1144.25" width="16.66" height="22.19" fill="#d2e3ef"/><rect x="637.41" y="1144.25" width="16.66" height="22.19" fill="#d2e3ef"/><rect x="654.07" y="1144.25" width="16.66" height="22.19" fill="#d2e3ef"/><rect x="670.74" y="1144.25" width="16.66" height="22.19" fill="#d2e3ef"/><rect x="687.4" y="1144.25" width="16.66" height="22.19" fill="#d2e3ef"/><rect x="704.07" y="1144.25" width="16.66" height="22.19" fill="#a9cce2"/><rect x="720.73" y="1144.25" width="16.66" height="22.19" fill="#d2e3ef"/><rect x="737.39" y="1144.25" width="16.66" height="22.19" fill="#a9cce2"/><rect x="754.06" y="1144.25" width="16.66" height="22.19" fill="#ff0404"/><rect x="770.72" y="1144.25" width="16.66" height="22.19" fill="#ff2828"/><rect x="787.39" y="1144.25" width="16.66" height="22.19" fill="#ff0404"/><rect x="804.05" y="1144.25" width="16.66" height="22.19" fill="#a9cce2"/><rect x="820.72" y="1144.25" width="16.66" height="22.19" fill="#d2e3ef"/><rect x="837.38" y="1144.25" width="16.66" height="22.19" fill="#a9cce2"/><rect x="854.04" y="1144.25" width="16.66" height="22.19" fill="#a9cce2"/><rect x="870.71" y="1144.25" width="16.66" height="22.19" fill="#a9cce2"/><rect x="887.37" y="1144.25" width="16.66" height="22.19" fill="#a9cce2"/><rect x="904.04" y="1144.25" width="16.66" height="22.19" fill="#a9cce2"/><rect x="37.5" y="1166.44" width="16.66" height="22.19" fill="#fdfdfd"/><rect x="54.16" y="1166.44" width="16.66" height="22.19" fill="#ffd8d8"/><rect x="70.83" y="1166.44" width="16.66" height="22.19" fill="#ffb8b8"/><rect x="87.49" y="1166.44" width="16.66" height="22.19" fill="#ffb8b8"/><rect x="104.16" y="1166.44" width="16.66" height="22.19" fill="#ffb8b8"/><rect x="120.82" y="1166.44" width="16.66" height="22.19" fill="#ff9a9a"/><rect x="137.48" y="1166.44" width="16.66" height="22.19" fill="#fdfdfd"/><rect x="154.15" y="1166.44" width="16.66" height="22.19" fill="#ffd8d8"/><rect x="170.81" y="1166.44" width="16.66" height="22.19" fill="#ffb8b8"/><rect x="187.48" y="1166.44" width="16.66" height="22.19" fill="#ffb8b8"/><rect x="204.14" y="1166.44" width="16.66" height="22.19" fill="#ffb8b8"/><rect x="220.81" y="1166.44" width="16.66" height="22.19" fill="#ffb8b8"/><rect x="237.47" y="1166.44" width="16.66" height="22.19" fill="#ffd8d8"/><rect x="254.13" y="1166.44" width="16.66" height="22.19" fill="#ffb8b8"/><rect x="270.8" y="1166.44" width="16.66" height="22.19" fill="#ff9a9a"/><rect x="287.46" y="1166.44" width="16.66" height="22.19" fill="#ff9a9a"/><rect x="304.13" y="1166.44" width="16.66" height="22.19" fill="#ffd8d8"/><rect x="320.79" y="1166.44" width="16.66" height="22.19" fill="#ffb8b8"/><rect x="337.45" y="1166.44" width="16.66" height="22.19" fill="#ff9a9a"/><rect x="354.12" y="1166.44" width="16.66" height="22.19" fill="#ffb8b8"/><rect x="370.78" y="1166.44" width="16.66" height="22.19" fill="#ffb8b8"/><rect x="387.45" y="1166.44" width="16.66" height="22.19" fill="#fdfdfd"/><rect x="404.11" y="1166.44" width="16.66" height="22.19" fill="#0c80b8"/><rect x="420.78" y="1166.44" width="16.66" height="22.19" fill="#0c80b8"/><rect x="437.44" y="1166.44" width="16.66" height="22.19" fill="#0c80b8"/><rect x="454.1" y="1166.44" width="16.66" height="22.19" fill="#f0f5fa"/><rect x="470.77" y="1166.44" width="16.66" height="22.19" fill="#ffb8b8"/><rect x="487.43" y="1166.44" width="16.66" height="22.19" fill="#ffd8d8"/><rect x="504.1" y="1166.44" width="16.66" height="22.19" fill="#0c80b8"/><rect x="520.76" y="1166.44" width="16.66" height="22.19" fill="#0c80b8"/><rect x="537.42" y="1166.44" width="16.66" height="22.19" fill="#ffb8b8"/><rect x="554.09" y="1166.44" width="16.66" height="22.19" fill="#ffb8b8"/><rect x="570.75" y="1166.44" width="16.66" height="22.19" fill="#ffb8b8"/><rect x="587.42" y="1166.44" width="16.66" height="22.19" fill="#ffd8d8"/><rect x="604.08" y="1166.44" width="16.66" height="22.19" fill="#ffb8b8"/><rect x="620.75" y="1166.44" width="16.66" height="22.19" fill="#ffb8b8"/><rect x="637.41" y="1166.44" width="16.66" height="22.19" fill="#ffb8b8"/><rect x="654.07" y="1166.44" width="16.66" height="22.19" fill="#ff9a9a"/><rect x="670.74" y="1166.44" width="16.66" height="22.19" fill="#ffd8d8"/><rect x="687.4" y="1166.44" width="16.66" height="22.19" fill="#0c80b8"/><rect x="704.07" y="1166.44" width="16.66" height="22.19" fill="#0c80b8"/><rect x="720.73" y="1166.44" width="16.66" height="22.19" fill="#ffb8b8"/><rect x="737.39" y="1166.44" width="16.66" height="22.19" fill="#ffb8b8"/><rect x="754.06" y="1166.44" width="16.66" height="22.19" fill="#ff9a9a"/><rect x="770.72" y="1166.44" width="16.66" height="22.19" fill="#ffb8b8"/><rect x="787.39" y="1166.44" width="16.66" height="22.19" fill="#ffb8b8"/><rect x="804.05" y="1166.44" width="16.66" height="22.19" fill="#0c80b8"/><rect x="820.72" y="1166.44" width="16.66" height="22.19" fill="#0c80b8"/><rect x="837.38" y="1166.44" width="16.66" height="22.19" fill="#ff7e7e"/><rect x="854.04" y="1166.44" width="16.66" height="22.19" fill="#ff9a9a"/><rect x="870.71" y="1166.44" width="16.66" height="22.19" fill="#ffb8b8"/><rect x="887.37" y="1166.44" width="16.66" height="22.19" fill="#ffd8d8"/><rect x="904.04" y="1166.44" width="16.66" height="22.19" fill="#ffb8b8"/><rect x="37.5" y="1188.63" width="16.66" height="22.19" fill="#ff4848"/><rect x="54.16" y="1188.63" width="16.66" height="22.19" fill="#a9cce2"/><rect x="70.83" y="1188.63" width="16.66" height="22.19" fill="#ff4848"/><rect x="87.49" y="1188.63" width="16.66" height="22.19" fill="#ffd8d8"/><rect x="104.16" y="1188.63" width="16.66" height="22.19" fill="#ff7e7e"/><rect x="120.82" y="1188.63" width="16.66" height="22.19" fill="#ff4848"/><rect x="137.48" y="1188.63" width="16.66" height="22.19" fill="#ff4848"/><rect x="154.15" y="1188.63" width="16.66" height="22.19" fill="#ff7e7e"/><rect x="170.81" y="1188.63" width="16.66" height="22.19" fill="#a9cce2"/><rect x="187.48" y="1188.63" width="16.66" height="22.19" fill="#a9cce2"/><rect x="204.14" y="1188.63" width="16.66" height="22.19" fill="#ff0404"/><rect x="220.81" y="1188.63" width="16.66" height="22.19" fill="#ff4848"/><rect x="237.47" y="1188.63" width="16.66" height="22.19" fill="#a9cce2"/><rect x="254.13" y="1188.63" width="16.66" height="22.19" fill="#a9cce2"/><rect x="270.8" y="1188.63" width="16.66" height="22.19" fill="#a9cce2"/><rect x="287.46" y="1188.63" width="16.66" height="22.19" fill="#a9cce2"/><rect x="304.13" y="1188.63" width="16.66" height="22.19" fill="#a9cce2"/><rect x="320.79" y="1188.63" width="16.66" height="22.19" fill="#ff6464"/><rect x="337.45" y="1188.63" width="16.66" height="22.19" fill="#ff4848"/><rect x="354.12" y="1188.63" width="16.66" height="22.19" fill="#ff2828"/><rect x="370.78" y="1188.63" width="16.66" height="22.19" fill="#ff6464"/><rect x="387.45" y="1188.63" width="16.66" height="22.19" fill="#a9cce2"/><rect x="404.11" y="1188.63" width="16.66" height="22.19" fill="#a9cce2"/><rect x="420.78" y="1188.63" width="16.66" height="22.19" fill="#a9cce2"/><rect x="437.44" y="1188.63" width="16.66" height="22.19" fill="#a9cce2"/><rect x="454.1" y="1188.63" width="16.66" height="22.19" fill="#ffd8d8"/><rect x="470.77" y="1188.63" width="16.66" height="22.19" fill="#d2e3ef"/><rect x="487.43" y="1188.63" width="16.66" height="22.19" fill="#ff9a9a"/><rect x="504.1" y="1188.63" width="16.66" height="22.19" fill="#a9cce2"/><rect x="520.76" y="1188.63" width="16.66" height="22.19" fill="#a9cce2"/><rect x="537.42" y="1188.63" width="16.66" height="22.19" fill="#a9cce2"/><rect x="554.09" y="1188.63" width="16.66" height="22.19" fill="#a9cce2"/><rect x="570.75" y="1188.63" width="16.66" height="22.19" fill="#a9cce2"/><rect x="587.42" y="1188.63" width="16.66" height="22.19" fill="#a9cce2"/><rect x="604.08" y="1188.63" width="16.66" height="22.19" fill="#a9cce2"/><rect x="620.75" y="1188.63" width="16.66" height="22.19" fill="#a9cce2"/><rect x="637.41" y="1188.63" width="16.66" height="22.19" fill="#a9cce2"/><rect x="654.07" y="1188.63" width="16.66" height="22.19" fill="#ff4848"/><rect x="670.74" y="1188.63" width="16.66" height="22.19" fill="#ff6464"/><rect x="687.4" y="1188.63" width="16.66" height="22.19" fill="#a9cce2"/><rect x="704.07" y="1188.63" width="16.66" height="22.19" fill="#ff6464"/><rect x="720.73" y="1188.63" width="16.66" height="22.19" fill="#a9cce2"/><rect x="737.39" y="1188.63" width="16.66" height="22.19" fill="#d2e3ef"/><rect x="754.06" y="1188.63" width="16.66" height="22.19" fill="#ffd8d8"/><rect x="770.72" y="1188.63" width="16.66" height="22.19" fill="#d2e3ef"/><rect x="787.39" y="1188.63" width="16.66" height="22.19" fill="#8abbd8"/><rect x="804.05" y="1188.63" width="16.66" height="22.19" fill="#fdfdfd"/><rect x="820.72" y="1188.63" width="16.66" height="22.19" fill="#a9cce2"/><rect x="837.38" y="1188.63" width="16.66" height="22.19" fill="#ff7e7e"/><rect x="854.04" y="1188.63" width="16.66" height="22.19" fill="#ff9a9a"/><rect x="870.71" y="1188.63" width="16.66" height="22.19" fill="#ff9a9a"/><rect x="887.37" y="1188.63" width="16.66" height="22.19" fill="#d2e3ef"/><rect x="904.04" y="1188.63" width="16.66" height="22.19" fill="#d2e3ef"/><rect x="37.5" y="1210.82" width="16.66" height="22.19" fill="#ff2828"/><rect x="54.16" y="1210.82" width="16.66" height="22.19" fill="#ff7e7e"/><rect x="70.83" y="1210.82" width="16.66" height="22.19" fill="#ff2828"/><rect x="87.49" y="1210.82" width="16.66" height="22.19" fill="#ff7e7e"/><rect x="104.16" y="1210.82" width="16.66" height="22.19" fill="#d2e3ef"/><rect x="120.82" y="1210.82" width="16.66" height="22.19" fill="#d2e3ef"/><rect x="137.48" y="1210.82" width="16.66" height="22.19" fill="#d2e3ef"/><rect x="154.15" y="1210.82" width="16.66" height="22.19" fill="#ff0404"/><rect x="170.81" y="1210.82" width="16.66" height="22.19" fill="#d2e3ef"/><rect x="187.48" y="1210.82" width="16.66" height="22.19" fill="#d2e3ef"/><rect x="204.14" y="1210.82" width="16.66" height="22.19" fill="#d2e3ef"/><rect x="220.81" y="1210.82" width="16.66" height="22.19" fill="#d2e3ef"/><rect x="237.47" y="1210.82" width="16.66" height="22.19" fill="#d2e3ef"/><rect x="254.13" y="1210.82" width="16.66" height="22.19" fill="#d2e3ef"/><rect x="270.8" y="1210.82" width="16.66" height="22.19" fill="#d2e3ef"/><rect x="287.46" y="1210.82" width="16.66" height="22.19" fill="#d2e3ef"/><rect x="304.13" y="1210.82" width="16.66" height="22.19" fill="#ff0404"/><rect x="320.79" y="1210.82" width="16.66" height="22.19" fill="#ff0404"/><rect x="337.45" y="1210.82" width="16.66" height="22.19" fill="#ff0404"/><rect x="354.12" y="1210.82" width="16.66" height="22.19" fill="#ff0404"/><rect x="370.78" y="1210.82" width="16.66" height="22.19" fill="#ff4848"/><rect x="387.45" y="1210.82" width="16.66" height="22.19" fill="#d2e3ef"/><rect x="404.11" y="1210.82" width="16.66" height="22.19" fill="#d2e3ef"/><rect x="420.78" y="1210.82" width="16.66" height="22.19" fill="#d2e3ef"/><rect x="437.44" y="1210.82" width="16.66" height="22.19" fill="#d2e3ef"/><rect x="454.1" y="1210.82" width="16.66" height="22.19" fill="#d2e3ef"/><rect x="470.77" y="1210.82" width="16.66" height="22.19" fill="#d2e3ef"/><rect x="487.43" y="1210.82" width="16.66" height="22.19" fill="#d2e3ef"/><rect x="504.1" y="1210.82" width="16.66" height="22.19" fill="#d2e3ef"/><rect x="520.76" y="1210.82" width="16.66" height="22.19" fill="#d2e3ef"/><rect x="537.42" y="1210.82" width="16.66" height="22.19" fill="#ff6464"/><rect x="554.09" y="1210.82" width="16.66" height="22.19" fill="#ff7e7e"/><rect x="570.75" y="1210.82" width="16.66" height="22.19" fill="#ff6464"/><rect x="587.42" y="1210.82" width="16.66" height="22.19" fill="#d2e3ef"/><rect x="604.08" y="1210.82" width="16.66" height="22.19" fill="#d2e3ef"/><rect x="620.75" y="1210.82" width="16.66" height="22.19" fill="#d2e3ef"/><rect x="637.41" y="1210.82" width="16.66" height="22.19" fill="#d2e3ef"/><rect x="654.07" y="1210.82" width="16.66" height="22.19" fill="#fdfdfd"/><rect x="670.74" y="1210.82" width="16.66" height="22.19" fill="#d2e3ef"/><rect x="687.4" y="1210.82" width="16.66" height="22.19" fill="#d2e3ef"/><rect x="704.07" y="1210.82" width="16.66" height="22.19" fill="#d2e3ef"/><rect x="720.73" y="1210.82" width="16.66" height="22.19" fill="#d2e3ef"/><rect x="737.39" y="1210.82" width="16.66" height="22.19" fill="#fdfdfd"/><rect x="754.06" y="1210.82" width="16.66" height="22.19" fill="#a9cce2"/><rect x="770.72" y="1210.82" width="16.66" height="22.19" fill="#d2e3ef"/><rect x="787.39" y="1210.82" width="16.66" height="22.19" fill="#a9cce2"/><rect x="804.05" y="1210.82" width="16.66" height="22.19" fill="#d2e3ef"/><rect x="820.72" y="1210.82" width="16.66" height="22.19" fill="#d2e3ef"/><rect x="837.38" y="1210.82" width="16.66" height="22.19" fill="#a9cce2"/><rect x="854.04" y="1210.82" width="16.66" height="22.19" fill="#d2e3ef"/><rect x="870.71" y="1210.82" width="16.66" height="22.19" fill="#a9cce2"/><rect x="887.37" y="1210.82" width="16.66" height="22.19" fill="#a9cce2"/><rect x="904.04" y="1210.82" width="16.66" height="22.19" fill="#a9cce2"/><rect x="37.5" y="1233.01" width="16.66" height="22.19" fill="#ff2828"/><rect x="54.16" y="1233.01" width="16.66" height="22.19" fill="#ff7e7e"/><rect x="70.83" y="1233.01" width="16.66" height="22.19" fill="#ff2828"/><rect x="87.49" y="1233.01" width="16.66" height="22.19" fill="#ff7e7e"/><rect x="104.16" y="1233.01" width="16.66" height="22.19" fill="#d2e3ef"/><rect x="120.82" y="1233.01" width="16.66" height="22.19" fill="#d2e3ef"/><rect x="137.48" y="1233.01" width="16.66" height="22.19" fill="#d2e3ef"/><rect x="154.15" y="1233.01" width="16.66" height="22.19" fill="#ff0404"/><rect x="170.81" y="1233.01" width="16.66" height="22.19" fill="#d2e3ef"/><rect x="187.48" y="1233.01" width="16.66" height="22.19" fill="#d2e3ef"/><rect x="204.14" y="1233.01" width="16.66" height="22.19" fill="#d2e3ef"/><rect x="220.81" y="1233.01" width="16.66" height="22.19" fill="#d2e3ef"/><rect x="237.47" y="1233.01" width="16.66" height="22.19" fill="#d2e3ef"/><rect x="254.13" y="1233.01" width="16.66" height="22.19" fill="#d2e3ef"/><rect x="270.8" y="1233.01" width="16.66" height="22.19" fill="#d2e3ef"/><rect x="287.46" y="1233.01" width="16.66" height="22.19" fill="#d2e3ef"/><rect x="304.13" y="1233.01" width="16.66" height="22.19" fill="#ff0404"/><rect x="320.79" y="1233.01" width="16.66" height="22.19" fill="#ff0404"/><rect x="337.45" y="1233.01" width="16.66" height="22.19" fill="#ff0404"/><rect x="354.12" y="1233.01" width="16.66" height="22.19" fill="#ff0404"/><rect x="370.78" y="1233.01" width="16.66" height="22.19" fill="#ff4848"/><rect x="387.45" y="1233.01" width="16.66" height="22.19" fill="#d2e3ef"/><rect x="404.11" y="1233.01" width="16.66" height="22.19" fill="#d2e3ef"/><rect x="420.78" y="1233.01" width="16.66" height="22.19" fill="#d2e3ef"/><rect x="437.44" y="1233.01" width="16.66" height="22.19" fill="#d2e3ef"/><rect x="454.1" y="1233.01" width="16.66" height="22.19" fill="#d2e3ef"/><rect x="470.77" y="1233.01" width="16.66" height="22.19" fill="#d2e3ef"/><rect x="487.43" y="1233.01" width="16.66" height="22.19" fill="#d2e3ef"/><rect x="504.1" y="1233.01" width="16.66" height="22.19" fill="#d2e3ef"/><rect x="520.76" y="1233.01" width="16.66" height="22.19" fill="#d2e3ef"/><rect x="537.42" y="1233.01" width="16.66" height="22.19" fill="#ff6464"/><rect x="554.09" y="1233.01" width="16.66" height="22.19" fill="#ff7e7e"/><rect x="570.75" y="1233.01" width="16.66" height="22.19" fill="#ff6464"/><rect x="587.42" y="1233.01" width="16.66" height="22.19" fill="#d2e3ef"/><rect x="604.08" y="1233.01" width="16.66" height="22.19" fill="#d2e3ef"/><rect x="620.75" y="1233.01" width="16.66" height="22.19" fill="#d2e3ef"/><rect x="637.41" y="1233.01" width="16.66" height="22.19" fill="#d2e3ef"/><rect x="654.07" y="1233.01" width="16.66" height="22.19" fill="#fdfdfd"/><rect x="670.74" y="1233.01" width="16.66" height="22.19" fill="#d2e3ef"/><rect x="687.4" y="1233.01" width="16.66" height="22.19" fill="#d2e3ef"/><rect x="704.07" y="1233.01" width="16.66" height="22.19" fill="#d2e3ef"/><rect x="720.73" y="1233.01" width="16.66" height="22.19" fill="#d2e3ef"/><rect x="737.39" y="1233.01" width="16.66" height="22.19" fill="#fdfdfd"/><rect x="754.06" y="1233.01" width="16.66" height="22.19" fill="#a9cce2"/><rect x="770.72" y="1233.01" width="16.66" height="22.19" fill="#d2e3ef"/><rect x="787.39" y="1233.01" width="16.66" height="22.19" fill="#a9cce2"/><rect x="804.05" y="1233.01" width="16.66" height="22.19" fill="#d2e3ef"/><rect x="820.72" y="1233.01" width="16.66" height="22.19" fill="#d2e3ef"/><rect x="837.38" y="1233.01" width="16.66" height="22.19" fill="#a9cce2"/><rect x="854.04" y="1233.01" width="16.66" height="22.19" fill="#d2e3ef"/><rect x="870.71" y="1233.01" width="16.66" height="22.19" fill="#a9cce2"/><rect x="887.37" y="1233.01" width="16.66" height="22.19" fill="#a9cce2"/><rect x="904.04" y="1233.01" width="16.66" height="22.19" fill="#a9cce2"/></g>
<path d="M37.5 589.5V1255.2M54.16 589.5V1255.2M70.83 589.5V1255.2M87.49 589.5V1255.2M104.16 589.5V1255.2M120.82 589.5V1255.2M137.48 589.5V1255.2M154.15 589.5V1255.2M170.81 589.5V1255.2M187.48 589.5V1255.2M204.14 589.5V1255.2M220.81 589.5V1255.2M237.47 589.5V1255.2M254.13 589.5V1255.2M270.8 589.5V1255.2M287.46 589.5V1255.2M304.13 589.5V1255.2M320.79 589.5V1255.2M337.45 589.5V1255.2M354.12 589.5V1255.2M370.78 589.5V1255.2M387.45 589.5V1255.2M404.11 589.5V1255.2M420.78 589.5V1255.2M437.44 589.5V1255.2M454.1 589.5V1255.2M470.77 589.5V1255.2M487.43 589.5V1255.2M504.1 589.5V1255.2M520.76 589.5V1255.2M537.42 589.5V1255.2M554.09 589.5V1255.2M570.75 589.5V1255.2M587.42 589.5V1255.2M604.08 589.5V1255.2M620.75 589.5V1255.2M637.41 589.5V1255.2M654.07 589.5V1255.2M670.74 589.5V1255.2M687.4 589.5V1255.2M704.07 589.5V1255.2M720.73 589.5V1255.2M737.39 589.5V1255.2M754.06 589.5V1255.2M770.72 589.5V1255.2M787.39 589.5V1255.2M804.05 589.5V1255.2M820.72 589.5V1255.2M837.38 589.5V1255.2M854.04 589.5V1255.2M870.71 589.5V1255.2M887.37 589.5V1255.2M904.04 589.5V1255.2M920.7 589.5V1255.2M37.5 589.5H920.7M37.5 611.69H920.7M37.5 633.88H920.7M37.5 656.07H920.7M37.5 678.26H920.7M37.5 700.45H920.7M37.5 722.64H920.7M37.5 744.83H920.7M37.5 767.02H920.7M37.5 789.21H920.7M37.5 811.4H920.7M37.5 833.59H920.7M37.5 855.78H920.7M37.5 877.97H920.7M37.5 900.16H920.7M37.5 922.35H920.7M37.5 944.54H920.7M37.5 966.73H920.7M37.5 988.92H920.7M37.5 1011.11H920.7M37.5 1033.3H920.7M37.5 1055.49H920.7M37.5 1077.68H920.7M37.5 1099.87H920.7M37.5 1122.06H920.7M37.5 1144.25H920.7M37.5 1166.44H920.7M37.5 1188.63H920.7M37.5 1210.82H920.7M37.5 1233.01H920.7M37.5 1255.2H920.7" stroke="#a0a0a0" stroke-width="0.85" fill="none"/>
<g><rect x="37.5" y="533" width="16.66" height="11.95" fill="#005e9e"/><rect x="54.16" y="533" width="16.66" height="11.95" fill="#bebebe"/><rect x="70.83" y="533" width="16.66" height="11.95" fill="#005e9e"/><rect x="87.49" y="533" width="16.66" height="11.95" fill="#6cd8f8"/><rect x="104.16" y="533" width="16.66" height="11.95" fill="#005e9e"/><rect x="120.82" y="533" width="16.66" height="11.95" fill="#06155f"/><rect x="137.48" y="533" width="49.99" height="11.95" fill="#6cd8f8"/><rect x="187.48" y="533" width="66.66" height="11.95" fill="#005e9e"/><rect x="254.13" y="533" width="33.33" height="11.95" fill="#6cd8f8"/><rect x="287.46" y="533" width="66.66" height="11.95" fill="#bebebe"/><rect x="354.12" y="533" width="16.66" height="11.95" fill="#005e9e"/><rect x="370.78" y="533" width="16.66" height="11.95" fill="#bebebe"/><rect x="387.45" y="533" width="16.66" height="11.95" fill="#005e9e"/><rect x="404.11" y="533" width="16.66" height="11.95" fill="#6cd8f8"/><rect x="420.78" y="533" width="49.99" height="11.95" fill="#005e9e"/><rect x="470.77" y="533" width="16.66" height="11.95" fill="#bebebe"/><rect x="487.43" y="533" width="16.66" height="11.95" fill="#005e9e"/><rect x="504.1" y="533" width="33.33" height="11.95" fill="#bebebe"/><rect x="537.42" y="533" width="16.66" height="11.95" fill="#06155f"/><rect x="554.09" y="533" width="49.99" height="11.95" fill="#005e9e"/><rect x="604.08" y="533" width="16.66" height="11.95" fill="#bebebe"/><rect x="620.75" y="533" width="33.33" height="11.95" fill="#005e9e"/><rect x="654.07" y="533" width="66.66" height="11.95" fill="#6cd8f8"/><rect x="720.73" y="533" width="16.66" height="11.95" fill="#bebebe"/><rect x="737.39" y="533" width="16.66" height="11.95" fill="#6cd8f8"/><rect x="754.06" y="533" width="33.33" height="11.95" fill="#005e9e"/><rect x="787.39" y="533" width="33.33" height="11.95" fill="#6cd8f8"/><rect x="820.72" y="533" width="49.99" height="11.95" fill="#005e9e"/><rect x="870.71" y="533" width="16.66" height="11.95" fill="#6cd8f8"/><rect x="887.37" y="533" width="16.66" height="11.95" fill="#06155f"/><rect x="904.04" y="533" width="16.66" height="11.95" fill="#6cd8f8"/><rect x="37.5" y="547.2" width="16.66" height="11.95" fill="#007a00"/><rect x="54.16" y="547.2" width="16.66" height="11.95" fill="#bebebe"/><rect x="70.83" y="547.2" width="33.33" height="11.95" fill="#007a00"/><rect x="104.16" y="547.2" width="16.66" height="11.95" fill="#f06ad2"/><rect x="120.82" y="547.2" width="16.66" height="11.95" fill="#007a00"/><rect x="137.48" y="547.2" width="16.66" height="11.95" fill="#f06ad2"/><rect x="154.15" y="547.2" width="83.32" height="11.95" fill="#007a00"/><rect x="237.47" y="547.2" width="16.66" height="11.95" fill="#f06ad2"/><rect x="254.13" y="547.2" width="33.33" height="11.95" fill="#007a00"/><rect x="287.46" y="547.2" width="66.66" height="11.95" fill="#bebebe"/><rect x="354.12" y="547.2" width="16.66" height="11.95" fill="#007a00"/><rect x="370.78" y="547.2" width="16.66" height="11.95" fill="#bebebe"/><rect x="387.45" y="547.2" width="16.66" height="11.95" fill="#f06ad2"/><rect x="404.11" y="547.2" width="33.33" height="11.95" fill="#007a00"/><rect x="437.44" y="547.2" width="16.66" height="11.95" fill="#ff9a00"/><rect x="454.1" y="547.2" width="16.66" height="11.95" fill="#007a00"/><rect x="470.77" y="547.2" width="16.66" height="11.95" fill="#bebebe"/><rect x="487.43" y="547.2" width="16.66" height="11.95" fill="#007a00"/><rect x="504.1" y="547.2" width="33.33" height="11.95" fill="#bebebe"/><rect x="537.42" y="547.2" width="33.33" height="11.95" fill="#007a00"/><rect x="570.75" y="547.2" width="33.33" height="11.95" fill="#f06ad2"/><rect x="604.08" y="547.2" width="16.66" height="11.95" fill="#bebebe"/><rect x="620.75" y="547.2" width="83.32" height="11.95" fill="#007a00"/><rect x="704.07" y="547.2" width="16.66" height="11.95" fill="#f06ad2"/><rect x="720.73" y="547.2" width="99.98" height="11.95" fill="#007a00"/><rect x="820.72" y="547.2" width="16.66" height="11.95" fill="#f06ad2"/><rect x="837.38" y="547.2" width="49.99" height="11.95" fill="#007a00"/><rect x="887.37" y="547.2" width="16.66" height="11.95" fill="#f06ad2"/><rect x="904.04" y="547.2" width="16.66" height="11.95" fill="#007a00"/><rect x="37.5" y="561.5" width="16.66" height="11.95" fill="#000000"/><rect x="54.16" y="561.5" width="16.66" height="11.95" fill="#bebebe"/><rect x="70.83" y="561.5" width="216.63" height="11.95" fill="#000000"/><rect x="287.46" y="561.5" width="66.66" height="11.95" fill="#bebebe"/><rect x="354.12" y="561.5" width="16.66" height="11.95" fill="#000000"/><rect x="370.78" y="561.5" width="16.66" height="11.95" fill="#bebebe"/><rect x="387.45" y="561.5" width="16.66" height="11.95" fill="#000000"/><rect x="404.11" y="561.5" width="16.66" height="11.95" fill="#ff0000"/><rect x="420.78" y="561.5" width="49.99" height="11.95" fill="#000000"/><rect x="470.77" y="561.5" width="16.66" height="11.95" fill="#bebebe"/><rect x="487.43" y="561.5" width="16.66" height="11.95" fill="#000000"/><rect x="504.1" y="561.5" width="33.33" height="11.95" fill="#bebebe"/><rect x="537.42" y="561.5" width="66.66" height="11.95" fill="#000000"/><rect x="604.08" y="561.5" width="16.66" height="11.95" fill="#bebebe"/><rect x="620.75" y="561.5" width="33.33" height="11.95" fill="#ff0000"/><rect x="654.07" y="561.5" width="266.63" height="11.95" fill="#000000"/><rect x="37.5" y="575.4" width="16.66" height="11.95" fill="#2020ff"/><rect x="54.16" y="575.4" width="16.66" height="11.95" fill="#5c5c5c"/><rect x="70.83" y="575.4" width="16.66" height="11.95" fill="#2020ff"/><rect x="87.49" y="575.4" width="16.66" height="11.95" fill="#cc2a5e"/><rect x="104.16" y="575.4" width="33.33" height="11.95" fill="#2020ff"/><rect x="137.48" y="575.4" width="66.66" height="11.95" fill="#cc2a5e"/><rect x="204.14" y="575.4" width="49.99" height="11.95" fill="#2020ff"/><rect x="254.13" y="575.4" width="33.33" height="11.95" fill="#cc2a5e"/><rect x="287.46" y="575.4" width="66.66" height="11.95" fill="#5c5c5c"/><rect x="354.12" y="575.4" width="16.66" height="11.95" fill="#2020ff"/><rect x="370.78" y="575.4" width="16.66" height="11.95" fill="#5c5c5c"/><rect x="387.45" y="575.4" width="16.66" height="11.95" fill="#2020ff"/><rect x="404.11" y="575.4" width="16.66" height="11.95" fill="#cc2a5e"/><rect x="420.78" y="575.4" width="16.66" height="11.95" fill="#2020ff"/><rect x="437.44" y="575.4" width="16.66" height="11.95" fill="#cc2a5e"/><rect x="454.1" y="575.4" width="16.66" height="11.95" fill="#2020ff"/><rect x="470.77" y="575.4" width="16.66" height="11.95" fill="#5c5c5c"/><rect x="487.43" y="575.4" width="16.66" height="11.95" fill="#2020ff"/><rect x="504.1" y="575.4" width="33.33" height="11.95" fill="#5c5c5c"/><rect x="537.42" y="575.4" width="66.66" height="11.95" fill="#2020ff"/><rect x="604.08" y="575.4" width="16.66" height="11.95" fill="#5c5c5c"/><rect x="620.75" y="575.4" width="49.99" height="11.95" fill="#2020ff"/><rect x="670.74" y="575.4" width="16.66" height="11.95" fill="#cc2a5e"/><rect x="687.4" y="575.4" width="16.66" height="11.95" fill="#2020ff"/><rect x="704.07" y="575.4" width="16.66" height="11.95" fill="#cc2a5e"/><rect x="720.73" y="575.4" width="16.66" height="11.95" fill="#2020ff"/><rect x="737.39" y="575.4" width="16.66" height="11.95" fill="#cc2a5e"/><rect x="754.06" y="575.4" width="33.33" height="11.95" fill="#2020ff"/><rect x="787.39" y="575.4" width="16.66" height="11.95" fill="#cc2a5e"/><rect x="804.05" y="575.4" width="66.66" height="11.95" fill="#2020ff"/><rect x="870.71" y="575.4" width="16.66" height="11.95" fill="#cc2a5e"/><rect x="887.37" y="575.4" width="16.66" height="11.95" fill="#2020ff"/><rect x="904.04" y="575.4" width="16.66" height="11.95" fill="#cc2a5e"/></g>
<text transform="translate(925.9 544.1) scale(1.04 1)" font-size="14.9" font-weight="bold" fill="#111">Sample Timing</text>
<text transform="translate(925.9 558.3) scale(1.04 1)" font-size="14.9" font-weight="bold" fill="#111">Tumor Grade</text>
<text transform="translate(925.9 572.6) scale(1.04 1)" font-size="14.9" font-weight="bold" fill="#111">Metastatic Status</text>
<text transform="translate(925.9 586.5) scale(1.04 1)" font-size="14.9" font-weight="bold" fill="#111">Sample Type</text>
<text transform="translate(925.8 605.5) scale(1.058 1)" font-size="14.7" fill="#1a1a1a">miR-98</text>
<text transform="translate(925.8 627.69) scale(1.058 1)" font-size="14.7" fill="#1a1a1a">miR-335</text>
<text transform="translate(925.8 649.88) scale(1.058 1)" font-size="14.7" fill="#1a1a1a">miR-182</text>
<text transform="translate(925.8 672.07) scale(1.058 1)" font-size="14.7" fill="#1a1a1a">miR-196b</text>
<text transform="translate(925.8 694.26) scale(1.058 1)" font-size="14.7" fill="#1a1a1a">miR-183</text>
<text transform="translate(925.8 716.45) scale(1.058 1)" font-size="14.7" fill="#1a1a1a">miR-429</text>
<text transform="translate(925.8 738.64) scale(1.058 1)" font-size="14.7" fill="#1a1a1a">miR-378a</text>
<text transform="translate(925.8 760.83) scale(1.058 1)" font-size="14.7" fill="#1a1a1a">miR-193a</text>
<text transform="translate(925.8 783.02) scale(1.058 1)" font-size="14.7" fill="#1a1a1a">miR-99a</text>
<text transform="translate(925.8 805.21) scale(1.058 1)" font-size="14.7" fill="#1a1a1a">miR-320d</text>
<text transform="translate(925.8 827.4) scale(1.058 1)" font-size="14.7" fill="#1a1a1a">miR-193b</text>
<text transform="translate(925.8 849.59) scale(1.058 1)" font-size="14.7" fill="#1a1a1a">miR-23a</text>
<text transform="translate(925.8 871.78) scale(1.058 1)" font-size="14.7" fill="#1a1a1a">miR-320c</text>
<text transform="translate(925.8 893.97) scale(1.058 1)" font-size="14.7" fill="#1a1a1a">miR-320b</text>
<text transform="translate(925.8 916.16) scale(1.058 1)" font-size="14.7" fill="#1a1a1a">miR-7</text>
<text transform="translate(925.8 938.35) scale(1.058 1)" font-size="14.7" fill="#1a1a1a">miR-148b</text>
<text transform="translate(925.8 960.54) scale(1.058 1)" font-size="14.7" fill="#1a1a1a">miR-629</text>
<text transform="translate(925.8 982.73) scale(1.058 1)" font-size="14.7" fill="#1a1a1a">miR-221</text>
<text transform="translate(925.8 1004.92) scale(1.058 1)" font-size="14.7" fill="#1a1a1a">miR-22</text>
<text transform="translate(925.8 1027.11) scale(1.058 1)" font-size="14.7" fill="#1a1a1a">miR-31</text>
<text transform="translate(925.8 1049.3) scale(1.058 1)" font-size="14.7" fill="#1a1a1a">miR-25</text>
<text transform="translate(925.8 1071.49) scale(1.058 1)" font-size="14.7" fill="#1a1a1a">miR-200b</text>
<text transform="translate(925.8 1093.68) scale(1.058 1)" font-size="14.7" fill="#1a1a1a">miR-122</text>
<text transform="translate(925.8 1115.87) scale(1.058 1)" font-size="14.7" fill="#1a1a1a">miR-744</text>
<text transform="translate(925.8 1138.06) scale(1.058 1)" font-size="14.7" fill="#1a1a1a">miR-361</text>
<text transform="translate(925.8 1160.25) scale(1.058 1)" font-size="14.7" fill="#1a1a1a">miR-142</text>
<text transform="translate(925.8 1182.44) scale(1.058 1)" font-size="14.7" fill="#1a1a1a">miR-242</text>
<text transform="translate(925.8 1204.63) scale(1.058 1)" font-size="14.7" fill="#1a1a1a">miR-184</text>
<text transform="translate(925.8 1226.82) scale(1.058 1)" font-size="14.7" fill="#1a1a1a">miR-1-5p</text>
<text transform="translate(925.8 1249.01) scale(1.058 1)" font-size="14.7" fill="#1a1a1a">miR-1-3p</text>
<text transform="translate(49.93 1259.5) rotate(-90)" x="-34.18" font-size="10.2" textLength="34.18" lengthAdjust="spacingAndGlyphs" fill="#1a1a1a" stroke="#1a1a1a" stroke-width="0.3">PT12U2</text>
<text transform="translate(66.6 1259.5) rotate(-90)" x="-28.69" font-size="10.2" textLength="28.69" lengthAdjust="spacingAndGlyphs" fill="#1a1a1a" stroke="#1a1a1a" stroke-width="0.3">CTL8U</text>
<text transform="translate(83.26 1259.5) rotate(-90)" x="-34.18" font-size="10.2" textLength="34.18" lengthAdjust="spacingAndGlyphs" fill="#1a1a1a" stroke="#1a1a1a" stroke-width="0.3">PT11U3</text>
<text transform="translate(99.92 1259.5) rotate(-90)" x="-34.18" font-size="10.2" textLength="34.18" lengthAdjust="spacingAndGlyphs" fill="#1a1a1a" stroke="#1a1a1a" stroke-width="0.3">PT26U1</text>
<text transform="translate(116.59 1259.5) rotate(-90)" x="-34.18" font-size="10.2" textLength="34.18" lengthAdjust="spacingAndGlyphs" fill="#1a1a1a" stroke="#1a1a1a" stroke-width="0.3">PT27U2</text>
<text transform="translate(133.25 1259.5) rotate(-90)" x="-28.54" font-size="10.2" textLength="28.54" lengthAdjust="spacingAndGlyphs" fill="#1a1a1a" stroke="#1a1a1a" stroke-width="0.3">PT3U2</text>
<text transform="translate(149.92 1259.5) rotate(-90)" x="-34.18" font-size="10.2" textLength="34.18" lengthAdjust="spacingAndGlyphs" fill="#1a1a1a" stroke="#1a1a1a" stroke-width="0.3">PT31U1</text>
<text transform="translate(166.58 1259.5) rotate(-90)" x="-28.54" font-size="10.2" textLength="28.54" lengthAdjust="spacingAndGlyphs" fill="#1a1a1a" stroke="#1a1a1a" stroke-width="0.3">PT7U1</text>
<text transform="translate(183.25 1259.5) rotate(-90)" x="-34.18" font-size="10.2" textLength="34.18" lengthAdjust="spacingAndGlyphs" fill="#1a1a1a" stroke="#1a1a1a" stroke-width="0.3">PT24U1</text>
<text transform="translate(199.91 1259.5) rotate(-90)" x="-34.18" font-size="10.2" textLength="34.18" lengthAdjust="spacingAndGlyphs" fill="#1a1a1a" stroke="#1a1a1a" stroke-width="0.3">PT28U1</text>
<text transform="translate(216.57 1259.5) rotate(-90)" x="-34.18" font-size="10.2" textLength="34.18" lengthAdjust="spacingAndGlyphs" fill="#1a1a1a" stroke="#1a1a1a" stroke-width="0.3">PT13U2</text>
<text transform="translate(233.24 1259.5) rotate(-90)" x="-28.54" font-size="10.2" textLength="28.54" lengthAdjust="spacingAndGlyphs" fill="#1a1a1a" stroke="#1a1a1a" stroke-width="0.3">PT7U2</text>
<text transform="translate(249.9 1259.5) rotate(-90)" x="-28.54" font-size="10.2" textLength="28.54" lengthAdjust="spacingAndGlyphs" fill="#1a1a1a" stroke="#1a1a1a" stroke-width="0.3">PT6U2</text>
<text transform="translate(266.57 1259.5) rotate(-90)" x="-34.18" font-size="10.2" textLength="34.18" lengthAdjust="spacingAndGlyphs" fill="#1a1a1a" stroke="#1a1a1a" stroke-width="0.3">PT14U1</text>
<text transform="translate(283.23 1259.5) rotate(-90)" x="-28.54" font-size="10.2" textLength="28.54" lengthAdjust="spacingAndGlyphs" fill="#1a1a1a" stroke="#1a1a1a" stroke-width="0.3">PT3U1</text>
<text transform="translate(299.89 1259.5) rotate(-90)" x="-28.69" font-size="10.2" textLength="28.69" lengthAdjust="spacingAndGlyphs" fill="#1a1a1a" stroke="#1a1a1a" stroke-width="0.3">CTL7U</text>
<text transform="translate(316.56 1259.5) rotate(-90)" x="-28.69" font-size="10.2" textLength="28.69" lengthAdjust="spacingAndGlyphs" fill="#1a1a1a" stroke="#1a1a1a" stroke-width="0.3">CTL3U</text>
<text transform="translate(333.22 1259.5) rotate(-90)" x="-28.69" font-size="10.2" textLength="28.69" lengthAdjust="spacingAndGlyphs" fill="#1a1a1a" stroke="#1a1a1a" stroke-width="0.3">CTL9U</text>
<text transform="translate(349.89 1259.5) rotate(-90)" x="-28.69" font-size="10.2" textLength="28.69" lengthAdjust="spacingAndGlyphs" fill="#1a1a1a" stroke="#1a1a1a" stroke-width="0.3">CTL4U</text>
<text transform="translate(366.55 1259.5) rotate(-90)" x="-34.18" font-size="10.2" textLength="34.18" lengthAdjust="spacingAndGlyphs" fill="#1a1a1a" stroke="#1a1a1a" stroke-width="0.3">PT20U2</text>
<text transform="translate(383.22 1259.5) rotate(-90)" x="-28.69" font-size="10.2" textLength="28.69" lengthAdjust="spacingAndGlyphs" fill="#1a1a1a" stroke="#1a1a1a" stroke-width="0.3">CTL6U</text>
<text transform="translate(399.88 1259.5) rotate(-90)" x="-34.18" font-size="10.2" textLength="34.18" lengthAdjust="spacingAndGlyphs" fill="#1a1a1a" stroke="#1a1a1a" stroke-width="0.3">PT12U3</text>
<text transform="translate(416.54 1259.5) rotate(-90)" x="-34.18" font-size="10.2" textLength="34.18" lengthAdjust="spacingAndGlyphs" fill="#1a1a1a" stroke="#1a1a1a" stroke-width="0.3">PT16U1</text>
<text transform="translate(433.21 1259.5) rotate(-90)" x="-28.54" font-size="10.2" textLength="28.54" lengthAdjust="spacingAndGlyphs" fill="#1a1a1a" stroke="#1a1a1a" stroke-width="0.3">PT1U2</text>
<text transform="translate(449.87 1259.5) rotate(-90)" x="-28.54" font-size="10.2" textLength="28.54" lengthAdjust="spacingAndGlyphs" fill="#1a1a1a" stroke="#1a1a1a" stroke-width="0.3">PT2U1</text>
<text transform="translate(466.54 1259.5) rotate(-90)" x="-34.18" font-size="10.2" textLength="34.18" lengthAdjust="spacingAndGlyphs" fill="#1a1a1a" stroke="#1a1a1a" stroke-width="0.3">PT10U2</text>
<text transform="translate(483.2 1259.5) rotate(-90)" x="-34.33" font-size="10.2" textLength="34.33" lengthAdjust="spacingAndGlyphs" fill="#1a1a1a" stroke="#1a1a1a" stroke-width="0.3">CTL10U</text>
<text transform="translate(499.86 1259.5) rotate(-90)" x="-34.18" font-size="10.2" textLength="34.18" lengthAdjust="spacingAndGlyphs" fill="#1a1a1a" stroke="#1a1a1a" stroke-width="0.3">PT10U3</text>
<text transform="translate(516.53 1259.5) rotate(-90)" x="-28.69" font-size="10.2" textLength="28.69" lengthAdjust="spacingAndGlyphs" fill="#1a1a1a" stroke="#1a1a1a" stroke-width="0.3">CTL2U</text>
<text transform="translate(533.19 1259.5) rotate(-90)" x="-28.69" font-size="10.2" textLength="28.69" lengthAdjust="spacingAndGlyphs" fill="#1a1a1a" stroke="#1a1a1a" stroke-width="0.3">CTL1U</text>
<text transform="translate(549.86 1259.5) rotate(-90)" x="-34.18" font-size="10.2" textLength="34.18" lengthAdjust="spacingAndGlyphs" fill="#1a1a1a" stroke="#1a1a1a" stroke-width="0.3">PT11U2</text>
<text transform="translate(566.52 1259.5) rotate(-90)" x="-28.54" font-size="10.2" textLength="28.54" lengthAdjust="spacingAndGlyphs" fill="#1a1a1a" stroke="#1a1a1a" stroke-width="0.3">PT9U3</text>
<text transform="translate(583.18 1259.5) rotate(-90)" x="-34.18" font-size="10.2" textLength="34.18" lengthAdjust="spacingAndGlyphs" fill="#1a1a1a" stroke="#1a1a1a" stroke-width="0.3">PT30U2</text>
<text transform="translate(599.85 1259.5) rotate(-90)" x="-28.54" font-size="10.2" textLength="28.54" lengthAdjust="spacingAndGlyphs" fill="#1a1a1a" stroke="#1a1a1a" stroke-width="0.3">PT4U2</text>
<text transform="translate(616.51 1259.5) rotate(-90)" x="-28.69" font-size="10.2" textLength="28.69" lengthAdjust="spacingAndGlyphs" fill="#1a1a1a" stroke="#1a1a1a" stroke-width="0.3">CTL5U</text>
<text transform="translate(633.18 1259.5) rotate(-90)" x="-28.54" font-size="10.2" textLength="28.54" lengthAdjust="spacingAndGlyphs" fill="#1a1a1a" stroke="#1a1a1a" stroke-width="0.3">PT5U2</text>
<text transform="translate(649.84 1259.5) rotate(-90)" x="-34.18" font-size="10.2" textLength="34.18" lengthAdjust="spacingAndGlyphs" fill="#1a1a1a" stroke="#1a1a1a" stroke-width="0.3">PT15U2</text>
<text transform="translate(666.51 1259.5) rotate(-90)" x="-34.18" font-size="10.2" textLength="34.18" lengthAdjust="spacingAndGlyphs" fill="#1a1a1a" stroke="#1a1a1a" stroke-width="0.3">PT34U2</text>
<text transform="translate(683.17 1259.5) rotate(-90)" x="-34.18" font-size="10.2" textLength="34.18" lengthAdjust="spacingAndGlyphs" fill="#1a1a1a" stroke="#1a1a1a" stroke-width="0.3">PT25U1</text>
<text transform="translate(699.83 1259.5) rotate(-90)" x="-34.18" font-size="10.2" textLength="34.18" lengthAdjust="spacingAndGlyphs" fill="#1a1a1a" stroke="#1a1a1a" stroke-width="0.3">PT29U2</text>
<text transform="translate(716.5 1259.5) rotate(-90)" x="-34.18" font-size="10.2" textLength="34.18" lengthAdjust="spacingAndGlyphs" fill="#1a1a1a" stroke="#1a1a1a" stroke-width="0.3">PT33U1</text>
<text transform="translate(733.16 1259.5) rotate(-90)" x="-28.54" font-size="10.2" textLength="28.54" lengthAdjust="spacingAndGlyphs" fill="#1a1a1a" stroke="#1a1a1a" stroke-width="0.3">PT9U2</text>
<text transform="translate(749.83 1259.5) rotate(-90)" x="-34.18" font-size="10.2" textLength="34.18" lengthAdjust="spacingAndGlyphs" fill="#1a1a1a" stroke="#1a1a1a" stroke-width="0.3">PT21U1</text>
<text transform="translate(766.49 1259.5) rotate(-90)" x="-34.18" font-size="10.2" textLength="34.18" lengthAdjust="spacingAndGlyphs" fill="#1a1a1a" stroke="#1a1a1a" stroke-width="0.3">PT19U2</text>
<text transform="translate(783.15 1259.5) rotate(-90)" x="-28.54" font-size="10.2" textLength="28.54" lengthAdjust="spacingAndGlyphs" fill="#1a1a1a" stroke="#1a1a1a" stroke-width="0.3">PT4U3</text>
<text transform="translate(799.82 1259.5) rotate(-90)" x="-28.54" font-size="10.2" textLength="28.54" lengthAdjust="spacingAndGlyphs" fill="#1a1a1a" stroke="#1a1a1a" stroke-width="0.3">PT6U1</text>
<text transform="translate(816.48 1259.5) rotate(-90)" x="-34.18" font-size="10.2" textLength="34.18" lengthAdjust="spacingAndGlyphs" fill="#1a1a1a" stroke="#1a1a1a" stroke-width="0.3">PT32U2</text>
<text transform="translate(833.15 1259.5) rotate(-90)" x="-34.18" font-size="10.2" textLength="34.18" lengthAdjust="spacingAndGlyphs" fill="#1a1a1a" stroke="#1a1a1a" stroke-width="0.3">PT17U2</text>
<text transform="translate(849.81 1259.5) rotate(-90)" x="-34.18" font-size="10.2" textLength="34.18" lengthAdjust="spacingAndGlyphs" fill="#1a1a1a" stroke="#1a1a1a" stroke-width="0.3">PT22U2</text>
<text transform="translate(866.48 1259.5) rotate(-90)" x="-34.18" font-size="10.2" textLength="34.18" lengthAdjust="spacingAndGlyphs" fill="#1a1a1a" stroke="#1a1a1a" stroke-width="0.3">PT23U2</text>
<text transform="translate(883.14 1259.5) rotate(-90)" x="-34.18" font-size="10.2" textLength="34.18" lengthAdjust="spacingAndGlyphs" fill="#1a1a1a" stroke="#1a1a1a" stroke-width="0.3">PT18U1</text>
<text transform="translate(899.8 1259.5) rotate(-90)" x="-28.54" font-size="10.2" textLength="28.54" lengthAdjust="spacingAndGlyphs" fill="#1a1a1a" stroke="#1a1a1a" stroke-width="0.3">PT8U2</text>
<text transform="translate(916.47 1259.5) rotate(-90)" x="-28.54" font-size="10.2" textLength="28.54" lengthAdjust="spacingAndGlyphs" fill="#1a1a1a" stroke="#1a1a1a" stroke-width="0.3">PT5U1</text>
<path d="M45.83 530.8L45.83 519.2M62.5 530.8L62.5 519.2M45.83 519.2L62.5 519.2M79.16 530.8L79.16 520M95.82 530.8L95.82 520M79.16 520L95.82 520M54.16 519.2L54.16 513.8M87.49 520L87.49 513.8M54.16 513.8L87.49 513.8M129.15 530.8L129.15 522.9M145.82 530.8L145.82 522.9M129.15 522.9L145.82 522.9M112.49 530.8L112.49 514.7M137.48 522.9L137.48 514.7M112.49 514.7L137.48 514.7M179.15 530.8L179.15 521.2M195.81 530.8L195.81 521.2M179.15 521.2L195.81 521.2M162.48 530.8L162.48 518.7M187.48 521.2L187.48 518.7M162.48 518.7L187.48 518.7M212.47 530.8L212.47 520M229.14 530.8L229.14 520M212.47 520L229.14 520M245.8 530.8L245.8 521.2M262.47 530.8L262.47 521.2M245.8 521.2L262.47 521.2M220.81 520L220.81 517.5M254.13 521.2L254.13 517.5M220.81 517.5L254.13 517.5M279.13 530.8L279.13 521.2M295.79 530.8L295.79 521.2M279.13 521.2L295.79 521.2M237.47 517.5L237.47 514.7M287.46 521.2L287.46 514.7M237.47 514.7L287.46 514.7M174.98 518.7L174.98 511.8M262.47 514.7L262.47 511.8M174.98 511.8L262.47 511.8M329.12 530.8L329.12 522.9M345.79 530.8L345.79 522.9M329.12 522.9L345.79 522.9M312.46 530.8L312.46 519.2M337.45 522.9L337.45 519.2M312.46 519.2L337.45 519.2M362.45 530.8L362.45 522.9M379.12 530.8L379.12 522.9M362.45 522.9L379.12 522.9M324.96 519.2L324.96 518.3M370.78 522.9L370.78 518.3M324.96 518.3L370.78 518.3M218.72 511.8L218.72 510M347.87 518.3L347.87 510M218.72 510L347.87 510M124.99 514.7L124.99 509.1M283.3 510L283.3 509.1M124.99 509.1L283.3 509.1M70.83 513.8L70.83 505.8M204.14 509.1L204.14 505.8M70.83 505.8L204.14 505.8M395.78 530.8L395.78 517.5M412.44 530.8L412.44 517.5M395.78 517.5L412.44 517.5M429.11 530.8L429.11 523.4M445.77 530.8L445.77 523.4M429.11 523.4L445.77 523.4M404.11 517.5L404.11 515.3M437.44 523.4L437.44 515.3M404.11 515.3L437.44 515.3M462.44 530.8L462.44 518.3M479.1 530.8L479.1 518.3M462.44 518.3L479.1 518.3M512.43 530.8L512.43 525M529.09 530.8L529.09 525M512.43 525L529.09 525M495.76 530.8L495.76 520M520.76 525L520.76 520M495.76 520L520.76 520M470.77 518.3L470.77 513.3M508.26 520L508.26 513.3M470.77 513.3L508.26 513.3M420.78 515.3L420.78 509.5M489.52 513.3L489.52 509.5M420.78 509.5L489.52 509.5M562.42 530.8L562.42 518.3M579.08 530.8L579.08 518.3M562.42 518.3L579.08 518.3M545.76 530.8L545.76 513.5M570.75 518.3L570.75 513.5M545.76 513.5L570.75 513.5M595.75 530.8L595.75 519.2M612.41 530.8L612.41 519.2M595.75 519.2L612.41 519.2M558.25 513.5L558.25 512.3M604.08 519.2L604.08 512.3M558.25 512.3L604.08 512.3M629.08 530.8L629.08 520.5M645.74 530.8L645.74 520.5M629.08 520.5L645.74 520.5M581.17 512.3L581.17 511.6M637.41 520.5L637.41 511.6M581.17 511.6L637.41 511.6M662.41 530.8L662.41 520M679.07 530.8L679.07 520M662.41 520L679.07 520M695.73 530.8L695.73 520M712.4 530.8L712.4 520M695.73 520L712.4 520M670.74 520L670.74 512.5M704.07 520L704.07 512.5M670.74 512.5L704.07 512.5M729.06 530.8L729.06 521.2M745.73 530.8L745.73 521.2M729.06 521.2L745.73 521.2M779.05 530.8L779.05 526.4M795.72 530.8L795.72 526.4M779.05 526.4L795.72 526.4M762.39 530.8L762.39 524.6M787.39 526.4L787.39 524.6M762.39 524.6L787.39 524.6M812.38 530.8L812.38 522.7M829.05 530.8L829.05 522.7M812.38 522.7L829.05 522.7M845.71 530.8L845.71 527.4M862.38 530.8L862.38 527.4M845.71 527.4L862.38 527.4M895.7 530.8L895.7 529.3M912.37 530.8L912.37 529.3M895.7 529.3L912.37 529.3M879.04 530.8L879.04 526M904.04 529.3L904.04 526M879.04 526L904.04 526M854.04 527.4L854.04 524.6M891.54 526L891.54 524.6M854.04 524.6L891.54 524.6M820.72 522.7L820.72 519.6M872.79 524.6L872.79 519.6M820.72 519.6L872.79 519.6M774.89 524.6L774.89 516.8M846.75 519.6L846.75 516.8M774.89 516.8L846.75 516.8M737.39 521.2L737.39 512.5M810.82 516.8L810.82 512.5M737.39 512.5L810.82 512.5M687.4 512.5L687.4 508.2M774.11 512.5L774.11 508.2M687.4 508.2L774.11 508.2M609.29 511.6L609.29 505M730.75 508.2L730.75 505M609.29 505L730.75 505M455.15 509.5L455.15 503.6M670.02 505L670.02 503.6M455.15 503.6L670.02 503.6M137.48 505.8L137.48 502.2M562.58 503.6L562.58 502.2M137.48 502.2L562.58 502.2" stroke="#4a4a4a" stroke-width="1.2" fill="none" stroke-linecap="square"/>
<path d="M35.7 622.78L23.2 622.78M35.7 644.98L23.2 644.98M23.2 622.78L23.2 644.98M35.7 600.6L22.3 600.6M23.2 633.88L22.3 633.88M22.3 600.6L22.3 633.88M35.7 689.36L27.3 689.36M35.7 711.54L27.3 711.54M27.3 689.36L27.3 711.54M35.7 667.16L25.7 667.16M27.3 700.45L25.7 700.45M25.7 667.16L25.7 700.45M22.3 617.24L20.3 617.24M25.7 683.81L20.3 683.81M20.3 617.24L20.3 683.81M35.7 733.74L25.7 733.74M35.7 755.92L25.7 755.92M25.7 733.74L25.7 755.92M35.7 800.31L26.3 800.31M35.7 822.5L26.3 822.5M26.3 800.31L26.3 822.5M35.7 778.12L23.6 778.12M26.3 811.4L23.6 811.4M23.6 778.12L23.6 811.4M25.7 744.83L20.7 744.83M23.6 794.76L20.7 794.76M20.7 744.83L20.7 794.76M35.7 866.88L28.2 866.88M35.7 889.07L28.2 889.07M28.2 866.88L28.2 889.07M35.7 844.68L21.6 844.68M28.2 877.97L21.6 877.97M21.6 844.68L21.6 877.97M20.7 769.79L17.5 769.79M21.6 861.33L17.5 861.33M17.5 769.79L17.5 861.33M35.7 933.44L23.2 933.44M35.7 955.63L23.2 955.63M23.2 933.44L23.2 955.63M35.7 911.25L19.4 911.25M23.2 944.54L19.4 944.54M19.4 911.25L19.4 944.54M35.7 977.83L27.3 977.83M35.7 1000.02L27.3 1000.02M27.3 977.83L27.3 1000.02M35.7 1022.21L28.6 1022.21M35.7 1044.39L28.6 1044.39M28.6 1022.21L28.6 1044.39M27.3 988.92L22.3 988.92M28.6 1033.3L22.3 1033.3M22.3 988.92L22.3 1033.3M19.4 927.9L17.5 927.9M22.3 1011.11L17.5 1011.11M17.5 927.9L17.5 1011.11M17.5 815.56L13.5 815.56M17.5 969.5L13.5 969.5M13.5 815.56L13.5 969.5M20.3 650.52L8.3 650.52M13.5 892.53L8.3 892.53M8.3 650.52L8.3 892.53M35.7 1066.59L20.9 1066.59M35.7 1088.78L20.9 1088.78M20.9 1066.59L20.9 1088.78M35.7 1110.97L25.6 1110.97M35.7 1133.16L25.6 1133.16M25.6 1110.97L25.6 1133.16M20.9 1077.68L17.5 1077.68M25.6 1122.06L17.5 1122.06M17.5 1077.68L17.5 1122.06M35.7 1221.91L35.5 1221.91M35.7 1244.11L35.5 1244.11M35.5 1221.91L35.5 1244.11M35.7 1199.72L23.2 1199.72M35.5 1233.01L23.2 1233.01M23.2 1199.72L23.2 1233.01M35.7 1177.54L21.6 1177.54M23.2 1216.37L21.6 1216.37M21.6 1177.54L21.6 1216.37M35.7 1155.35L16.4 1155.35M21.6 1196.95L16.4 1196.95M16.4 1155.35L16.4 1196.95M17.5 1099.87L12.1 1099.87M16.4 1176.15L12.1 1176.15M12.1 1099.87L12.1 1176.15M8.3 771.53L7.4 771.53M12.1 1138.01L7.4 1138.01M7.4 771.53L7.4 1138.01" stroke="#4a4a4a" stroke-width="1.2" fill="none" stroke-linecap="square"/>
<path d="M229.14 1298.5V1307.1H162.48V1298.5" stroke="#000" stroke-width="1.8" fill="none" stroke-dasharray="6 2.2"/>
<path d="M279.13 1313V1321.6H129.15V1313" stroke="#000" stroke-width="1.8" fill="none" stroke-dasharray="6 2.2"/>
<path d="M395.78 1327.3V1335.9H45.83V1327.3" stroke="#a8a8a8" stroke-width="1.8" fill="none" stroke-dasharray="6 2.2"/>
<path d="M545.76 1342.4V1351H79.16V1342.4" stroke="#a8a8a8" stroke-width="1.8" fill="none" stroke-dasharray="6 2.2"/>
<path d="M795.72 1355.8V1364.4H245.8V1355.8" stroke="#000" stroke-width="1.8" fill="none" stroke-dasharray="6 2.2"/>
<path d="M495.76 1298.7V1307.3H462.44V1298.7" stroke="#a8a8a8" stroke-width="1.8" fill="none" stroke-dasharray="6 2.2"/>
<path d="M779.05 1298.7V1307.3H595.75V1298.7" stroke="#a8a8a8" stroke-width="1.8" fill="none" stroke-dasharray="6 2.2"/>
<path d="M729.06 1312.7V1321.3H562.42V1312.7" stroke="#a8a8a8" stroke-width="1.8" fill="none" stroke-dasharray="6 2.2"/>
<path d="M912.37 1327V1335.6H629.08V1327" stroke="#000" stroke-width="1.8" fill="none" stroke-dasharray="6 2.2"/>
<text transform="translate(1015.9 627.2) scale(1.055 1)" font-size="14.9" font-weight="bold" fill="#111">Sample Timing</text>
<rect x="1014.5" y="632.1" width="15.6" height="12.2" fill="#6cd8f8" stroke="#333" stroke-width="1"/>
<text transform="translate(1039.2 645.2) scale(1.033 1)" font-size="14.8" fill="#1a1a1a">Less than 30 days</text>
<rect x="1014.5" y="646.7" width="15.6" height="12.2" fill="#06155f" stroke="#333" stroke-width="1"/>
<text transform="translate(1039.2 659.8) scale(1.033 1)" font-size="14.8" fill="#1a1a1a">30 to 90 days</text>
<rect x="1014.5" y="661.3" width="15.6" height="12.2" fill="#005e9e" stroke="#333" stroke-width="1"/>
<text transform="translate(1039.2 674.4) scale(1.033 1)" font-size="14.8" fill="#1a1a1a">More than 90 days</text>
<rect x="1014.5" y="675.9" width="15.6" height="12.2" fill="#bebebe" stroke="#333" stroke-width="1"/>
<text transform="translate(1039.2 689) scale(1.033 1)" font-size="14.8" fill="#1a1a1a">N/A</text>
<text transform="translate(1015.9 720.2) scale(1.055 1)" font-size="14.9" font-weight="bold" fill="#111">Tumor Grade</text>
<rect x="1014.5" y="725.1" width="15.6" height="12.2" fill="#ff9a00" stroke="#333" stroke-width="1"/>
<text transform="translate(1039.2 738.2) scale(1.033 1)" font-size="14.8" fill="#1a1a1a">Grade 4</text>
<rect x="1014.5" y="739.7" width="15.6" height="12.2" fill="#f06ad2" stroke="#333" stroke-width="1"/>
<text transform="translate(1039.2 752.8) scale(1.033 1)" font-size="14.8" fill="#1a1a1a">Grade 3</text>
<rect x="1014.5" y="754.3" width="15.6" height="12.2" fill="#007a00" stroke="#333" stroke-width="1"/>
<text transform="translate(1039.2 767.4) scale(1.033 1)" font-size="14.8" fill="#1a1a1a">Grade 2</text>
<rect x="1014.5" y="768.9" width="15.6" height="12.2" fill="#bebebe" stroke="#333" stroke-width="1"/>
<text transform="translate(1039.2 782) scale(1.033 1)" font-size="14.8" fill="#1a1a1a">N/A</text>
<text transform="translate(1015.9 813.5) scale(1.055 1)" font-size="14.9" font-weight="bold" fill="#111">Metastatic Status</text>
<rect x="1014.5" y="818.4" width="15.6" height="12.2" fill="#ff0000" stroke="#333" stroke-width="1"/>
<text transform="translate(1039.2 831.5) scale(1.033 1)" font-size="14.8" fill="#1a1a1a">Metastatic disease</text>
<rect x="1014.5" y="833" width="15.6" height="12.2" fill="#000000" stroke="#333" stroke-width="1"/>
<text transform="translate(1039.2 846.1) scale(1.033 1)" font-size="14.8" fill="#1a1a1a">No Metastatic disease</text>
<rect x="1014.5" y="847.6" width="15.6" height="12.2" fill="#bebebe" stroke="#333" stroke-width="1"/>
<text transform="translate(1039.2 860.7) scale(1.033 1)" font-size="14.8" fill="#1a1a1a">N/A</text>
<text transform="translate(1015.9 891.3) scale(1.055 1)" font-size="14.9" font-weight="bold" fill="#111">Sample Type</text>
<rect x="1014.5" y="896.2" width="15.6" height="12.2" fill="#cc2a5e" stroke="#333" stroke-width="1"/>
<text transform="translate(1039.2 909.3) scale(1.033 1)" font-size="14.8" fill="#1a1a1a">VHL Pre-Op Urine</text>
<rect x="1014.5" y="910.8" width="15.6" height="12.2" fill="#2020ff" stroke="#333" stroke-width="1"/>
<text transform="translate(1039.2 923.9) scale(1.033 1)" font-size="14.8" fill="#1a1a1a">VHL Post-Op Urine</text>
<rect x="1014.5" y="925.4" width="15.6" height="12.2" fill="#5c5c5c" stroke="#333" stroke-width="1"/>
<text transform="translate(1039.2 938.5) scale(1.033 1)" font-size="14.8" fill="#1a1a1a">Control Urine</text>
<defs><linearGradient id="cb" x1="0" y1="0" x2="0" y2="1"><stop offset="0.037" stop-color="#ff0000"/><stop offset="0.503" stop-color="#ffffff"/><stop offset="0.96" stop-color="#0c80b8"/></linearGradient></defs>
<rect x="1013.3" y="965.2" width="23.8" height="99.6" fill="url(#cb)"/>
<text x="1070" y="977.1" font-size="14.8" font-weight="bold" text-anchor="end" fill="#111">2.0</text>
<text x="1070" y="1000.3" font-size="14.8" font-weight="bold" text-anchor="end" fill="#111">1.0</text>
<text x="1070" y="1023.5" font-size="14.8" font-weight="bold" text-anchor="end" fill="#111">0.0</text>
<text x="1070" y="1046.2" font-size="14.8" font-weight="bold" text-anchor="end" fill="#111">−1.0</text>
<text x="1070" y="1069" font-size="14.8" font-weight="bold" text-anchor="end" fill="#111">−2.0</text>
<path d="M1013.3 968.9h4.5M1032.6 968.9h4.5M1013.3 992.1h4.5M1032.6 992.1h4.5M1013.3 1015.3h4.5M1032.6 1015.3h4.5M1013.3 1038h4.5M1032.6 1038h4.5M1013.3 1060.8h4.5M1032.6 1060.8h4.5" stroke="#fff" stroke-width="1" fill="none"/>
</svg></body></html>
